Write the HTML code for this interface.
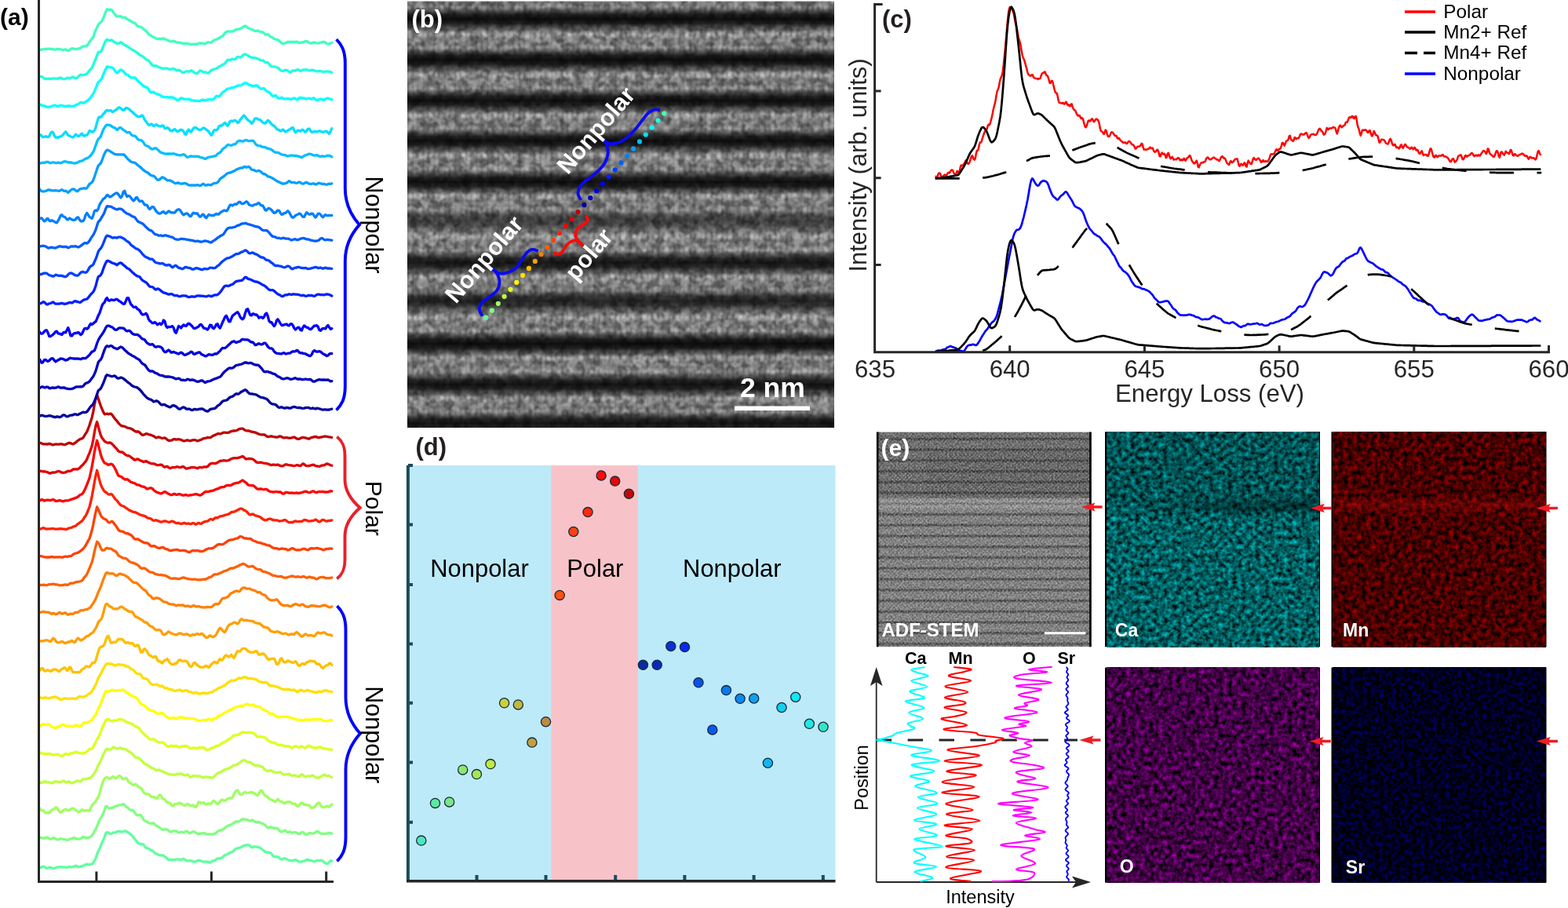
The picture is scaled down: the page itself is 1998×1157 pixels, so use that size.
<!DOCTYPE html><html><head><meta charset="utf-8"><title>EELS figure</title>
<style>html,body{margin:0;padding:0;background:#fff;overflow:hidden}svg{display:block}text{font-family:'Liberation Sans', Arial, Helvetica, sans-serif}</style></head><body>
<svg width="1998" height="1157" viewBox="0 0 1998 1157">
<rect width="1998" height="1157" fill="#fff"/>
<defs><radialGradient id="spot"><stop offset="0" stop-color="#fff" stop-opacity="0.7"/><stop offset="0.5" stop-color="#fff" stop-opacity="0.32"/><stop offset="1" stop-color="#fff" stop-opacity="0"/></radialGradient><pattern id="latt" x="519" y="-27.3" width="13.6" height="51.5" patternUnits="userSpaceOnUse"><rect width="13.6" height="51.5" fill="#000" fill-opacity="0.2"/><ellipse cx="3.4" cy="19.5" rx="5.6" ry="6" fill="url(#spot)"/><ellipse cx="10.2" cy="19.5" rx="4.6" ry="5.4" fill="url(#spot)" opacity="0.6"/><ellipse cx="3.4" cy="37.5" rx="5.6" ry="6" fill="url(#spot)" opacity="0.85"/><ellipse cx="10.2" cy="37.5" rx="4.6" ry="5.4" fill="url(#spot)" opacity="0.55"/><rect x="6.3" width="1.4" height="51.5" fill="#000" fill-opacity="0.12"/><rect x="13" width="1.2" height="51.5" fill="#000" fill-opacity="0.08"/></pattern><pattern id="bands" x="0" y="-4.2" width="20" height="51.6" patternUnits="userSpaceOnUse"><rect width="20" height="51.6" fill="url(#bandg)"/></pattern><linearGradient id="bandg" x1="0" y1="0" x2="0" y2="1"><stop offset="0" stop-color="#000" stop-opacity="0"/><stop offset="0.15" stop-color="#000" stop-opacity="0.1"/><stop offset="0.28" stop-color="#000" stop-opacity="0.48"/><stop offset="0.38" stop-color="#000" stop-opacity="0.85"/><stop offset="0.5" stop-color="#000" stop-opacity="1"/><stop offset="0.62" stop-color="#000" stop-opacity="0.85"/><stop offset="0.72" stop-color="#000" stop-opacity="0.48"/><stop offset="0.85" stop-color="#000" stop-opacity="0.1"/><stop offset="1" stop-color="#000" stop-opacity="0"/></linearGradient><filter id="nzb" x="0" y="0" width="1" height="1" color-interpolation-filters="sRGB"><feTurbulence type="fractalNoise" baseFrequency="0.22" numOctaves="2" seed="5"/><feColorMatrix type="matrix" values="2.0 0 0 0 -0.5  2.0 0 0 0 -0.5  2.0 0 0 0 -0.5  0 0 0 0 0.24"/><feGaussianBlur stdDeviation="0.8"/></filter><filter id="blur4" x="-0.1" y="-1" width="1.2" height="3"><feGaussianBlur stdDeviation="4"/></filter><filter id="nzb2" x="0" y="0" width="1" height="1" color-interpolation-filters="sRGB"><feTurbulence type="fractalNoise" baseFrequency="0.09" numOctaves="2" seed="21"/><feColorMatrix type="matrix" values="3 0 0 0 -1  3 0 0 0 -1  3 0 0 0 -1  0 0 0 0 0.22"/></filter><pattern id="adfS" x="0" y="552.3" width="20" height="13.75" patternUnits="userSpaceOnUse"><rect width="20" height="13.75" fill="#fff" fill-opacity="0.1"/><rect y="5" width="20" height="4" fill="#000" fill-opacity="0.25"/><rect y="5.9" width="20" height="2.2" fill="#000" fill-opacity="0.3"/></pattern><linearGradient id="adfB" x1="0" y1="0" x2="0" y2="1"><stop offset="0" stop-color="#fff" stop-opacity="0"/><stop offset="0.35" stop-color="#fff" stop-opacity="0.3"/><stop offset="0.6" stop-color="#fff" stop-opacity="0.28"/><stop offset="1" stop-color="#fff" stop-opacity="0.05"/></linearGradient><pattern id="xh" x="0" y="0" width="3.4" height="3.4" patternUnits="userSpaceOnUse" patternTransform="rotate(45)"><rect width="3.4" height="3.4" fill="#000" fill-opacity="0.1"/><circle cx="1.7" cy="1.7" r="1.1" fill="#fff" fill-opacity="0.2"/></pattern><filter id="nzadf" x="0" y="0" width="1" height="1" color-interpolation-filters="sRGB"><feTurbulence type="fractalNoise" baseFrequency="0.4" numOctaves="2" seed="9"/><feColorMatrix type="matrix" values="2.4 0 0 0 -0.7  2.4 0 0 0 -0.7  2.4 0 0 0 -0.7  0 0 0 0 0.2"/></filter><linearGradient id="caDark" x1="0" y1="0" x2="1" y2="0"><stop offset="0" stop-color="#000" stop-opacity="0.1"/><stop offset="0.3" stop-color="#000" stop-opacity="0.25"/><stop offset="0.6" stop-color="#000" stop-opacity="0.5"/><stop offset="1" stop-color="#000" stop-opacity="0.55"/></linearGradient><linearGradient id="mnBright" x1="0" y1="0" x2="0" y2="1"><stop offset="0" stop-color="#ff0000" stop-opacity="0"/><stop offset="0.5" stop-color="#ff1010" stop-opacity="0.22"/><stop offset="1" stop-color="#ff0000" stop-opacity="0"/></linearGradient><filter id="fca" x="0" y="0" width="1" height="1" color-interpolation-filters="sRGB"><feTurbulence type="fractalNoise" baseFrequency="0.17" numOctaves="2" seed="11"/><feColorMatrix type="matrix" values="0 0 0 0 0  1.05 0 0 0 -0.155  1.08 0 0 0 -0.16  0 0 0 0 1"/><feGaussianBlur stdDeviation="0.5"/></filter><filter id="fmn" x="0" y="0" width="1" height="1" color-interpolation-filters="sRGB"><feTurbulence type="fractalNoise" baseFrequency="0.17" numOctaves="2" seed="12"/><feColorMatrix type="matrix" values="1 0 0 0 -0.22  0 0 0 0 0  0 0 0 0 0  0 0 0 0 1"/><feGaussianBlur stdDeviation="0.5"/></filter><filter id="fox" x="0" y="0" width="1" height="1" color-interpolation-filters="sRGB"><feTurbulence type="fractalNoise" baseFrequency="0.17" numOctaves="2" seed="13"/><feColorMatrix type="matrix" values="1 0 0 0 -0.24  0 0 0 0 0  1.05 0 0 0 -0.25  0 0 0 0 1"/><feGaussianBlur stdDeviation="0.5"/></filter><filter id="fsr" x="0" y="0" width="1" height="1" color-interpolation-filters="sRGB"><feTurbulence type="fractalNoise" baseFrequency="0.19" numOctaves="2" seed="14"/><feColorMatrix type="matrix" values="0 0 0 0 0  0 0 0 0 0  1 0 0 0 -0.38  0 0 0 0 1"/><feGaussianBlur stdDeviation="0.5"/></filter></defs>
<g id="pa">
<g fill="none" stroke-width="3.3" stroke-linejoin="round" stroke-linecap="round">
<polyline points="50.0,1106.0 51.6,1105.4 53.2,1104.9 54.8,1104.2 56.4,1104.2 58.0,1105.4 59.6,1106.5 61.2,1106.0 62.8,1105.1 64.4,1105.3 66.0,1106.1 67.6,1106.4 69.2,1106.3 70.8,1105.7 72.4,1105.0 74.0,1105.1 75.6,1104.8 77.2,1104.6 78.8,1104.9 80.4,1105.0 82.0,1104.9 83.6,1105.2 85.2,1105.5 86.8,1104.7 88.4,1104.4 90.0,1104.8 91.6,1104.6 93.2,1104.4 94.8,1104.0 96.4,1103.1 98.0,1103.6 99.6,1104.8 101.2,1104.7 102.8,1104.1 104.4,1103.6 106.0,1103.1 107.6,1102.5 109.2,1101.6 110.8,1101.2 112.4,1101.6 114.0,1101.6 115.6,1101.3 117.2,1101.0 118.8,1099.3 120.4,1096.9 122.0,1093.7 123.6,1088.5 125.2,1084.6 126.8,1081.7 128.4,1077.9 130.0,1073.7 131.6,1070.4 133.2,1066.6 134.8,1061.8 136.4,1060.5 138.0,1060.9 139.6,1062.0 141.2,1062.5 142.8,1062.0 144.4,1060.9 146.0,1060.8 147.6,1060.5 149.2,1059.7 150.8,1059.2 152.4,1059.3 154.0,1059.9 155.6,1059.9 157.2,1059.5 158.8,1059.0 160.4,1059.2 162.0,1059.9 163.6,1060.8 165.2,1062.2 166.8,1063.3 168.4,1064.9 170.0,1066.9 171.6,1069.0 173.2,1070.8 174.8,1073.1 176.4,1074.7 178.0,1075.2 179.6,1075.6 181.2,1075.5 182.8,1076.2 184.4,1078.6 186.0,1080.3 187.6,1080.8 189.2,1081.4 190.8,1082.5 192.4,1083.3 194.0,1083.9 195.6,1085.2 197.2,1086.8 198.8,1087.8 200.4,1088.4 202.0,1089.2 203.6,1089.7 205.2,1089.9 206.8,1089.8 208.4,1090.4 210.0,1091.6 211.6,1092.8 213.2,1094.1 214.8,1095.5 216.4,1095.7 218.0,1095.4 219.6,1095.6 221.2,1095.4 222.8,1095.4 224.4,1095.2 226.0,1095.0 227.6,1094.9 229.2,1095.4 230.8,1095.7 232.4,1094.7 234.0,1094.3 235.6,1095.3 237.2,1096.4 238.8,1096.9 240.4,1096.9 242.0,1096.5 243.6,1096.8 245.2,1097.4 246.8,1097.9 248.4,1098.2 250.0,1097.7 251.6,1096.7 253.2,1096.3 254.8,1096.4 256.4,1097.1 258.0,1097.9 259.6,1098.1 261.2,1098.1 262.8,1098.0 264.4,1098.1 266.0,1098.7 267.6,1099.1 269.2,1098.3 270.8,1097.0 272.4,1096.8 274.0,1096.4 275.6,1094.8 277.2,1093.8 278.8,1094.0 280.4,1093.8 282.0,1093.3 283.6,1092.4 285.2,1090.7 286.8,1089.5 288.4,1089.0 290.0,1088.3 291.6,1087.2 293.2,1086.4 294.8,1085.9 296.4,1085.3 298.0,1083.8 299.6,1082.1 301.2,1081.3 302.8,1080.8 304.4,1080.4 306.0,1080.1 307.6,1079.2 309.2,1078.2 310.8,1077.6 312.4,1077.2 314.0,1076.9 315.6,1076.5 317.2,1076.9 318.8,1078.1 320.4,1079.4 322.0,1079.8 323.6,1078.9 325.2,1078.7 326.8,1079.2 328.4,1079.4 330.0,1079.7 331.6,1080.5 333.2,1081.8 334.8,1083.0 336.4,1084.1 338.0,1085.5 339.6,1086.0 341.2,1086.2 342.8,1086.4 344.4,1086.4 346.0,1087.9 347.6,1090.5 349.2,1091.7 350.8,1091.5 352.4,1091.7 354.0,1091.9 355.6,1092.6 357.2,1094.4 358.8,1095.2 360.4,1094.3 362.0,1093.7 363.6,1094.0 365.2,1094.7 366.8,1095.7 368.4,1096.3 370.0,1096.3 371.6,1096.7 373.2,1096.7 374.8,1095.9 376.4,1095.6 378.0,1096.1 379.6,1097.1 381.2,1097.9 382.8,1098.2 384.4,1097.9 386.0,1097.3 387.6,1097.0 389.2,1096.4 390.8,1095.5 392.4,1095.4 394.0,1096.3 395.6,1096.4 397.2,1096.6 398.8,1097.3 400.4,1097.9 402.0,1097.3 403.6,1096.5 405.2,1096.4 406.8,1096.6 408.4,1096.4 410.0,1096.2 411.6,1097.4 413.2,1098.9 414.8,1099.6 416.4,1100.5 418.0,1100.5 419.6,1098.5 421.2,1096.7 422.8,1097.1" stroke="#60ff9f"/>
<polyline points="50.0,1066.5 51.6,1067.2 53.2,1067.7 54.8,1068.1 56.4,1068.1 58.0,1067.5 59.6,1066.8 61.2,1067.3 62.8,1068.5 64.4,1069.2 66.0,1068.7 67.6,1067.7 69.2,1067.9 70.8,1068.8 72.4,1069.7 74.0,1069.9 75.6,1069.2 77.2,1068.6 78.8,1068.9 80.4,1069.3 82.0,1069.3 83.6,1069.7 85.2,1070.3 86.8,1070.1 88.4,1069.4 90.0,1068.8 91.6,1068.6 93.2,1067.8 94.8,1067.5 96.4,1068.4 98.0,1069.0 99.6,1068.9 101.2,1069.0 102.8,1068.9 104.4,1067.4 106.0,1066.2 107.6,1066.7 109.2,1067.5 110.8,1067.5 112.4,1067.1 114.0,1067.0 115.6,1066.2 117.2,1064.6 118.8,1062.1 120.4,1059.2 122.0,1056.6 123.6,1053.0 125.2,1048.9 126.8,1044.9 128.4,1042.4 130.0,1039.9 131.6,1036.5 133.2,1032.0 134.8,1027.5 136.4,1027.7 138.0,1029.3 139.6,1030.1 141.2,1029.8 142.8,1029.4 144.4,1028.6 146.0,1027.8 147.6,1027.2 149.2,1026.8 150.8,1026.2 152.4,1025.6 154.0,1025.6 155.6,1025.0 157.2,1024.7 158.8,1025.7 160.4,1027.6 162.0,1028.9 163.6,1029.9 165.2,1031.7 166.8,1032.4 168.4,1032.1 170.0,1032.9 171.6,1035.3 173.2,1037.5 174.8,1038.6 176.4,1038.8 178.0,1038.4 179.6,1038.8 181.2,1041.3 182.8,1044.2 184.4,1045.9 186.0,1046.5 187.6,1047.3 189.2,1048.4 190.8,1049.1 192.4,1049.3 194.0,1048.9 195.6,1049.0 197.2,1050.3 198.8,1051.9 200.4,1052.8 202.0,1053.7 203.6,1054.8 205.2,1056.0 206.8,1057.2 208.4,1057.3 210.0,1056.7 211.6,1056.8 213.2,1057.1 214.8,1058.2 216.4,1059.9 218.0,1060.0 219.6,1059.2 221.2,1058.9 222.8,1058.9 224.4,1058.8 226.0,1059.7 227.6,1060.9 229.2,1060.8 230.8,1060.0 232.4,1060.4 234.0,1060.9 235.6,1059.9 237.2,1059.2 238.8,1059.6 240.4,1060.9 242.0,1061.8 243.6,1061.1 245.2,1059.8 246.8,1059.7 248.4,1060.3 250.0,1061.4 251.6,1062.4 253.2,1063.0 254.8,1062.5 256.4,1061.8 258.0,1061.8 259.6,1061.5 261.2,1061.8 262.8,1062.8 264.4,1063.1 266.0,1062.9 267.6,1062.8 269.2,1063.2 270.8,1063.1 272.4,1062.5 274.0,1062.1 275.6,1061.2 277.2,1059.5 278.8,1058.4 280.4,1058.4 282.0,1057.8 283.6,1057.1 285.2,1056.1 286.8,1054.6 288.4,1053.4 290.0,1052.4 291.6,1051.9 293.2,1051.3 294.8,1050.6 296.4,1049.8 298.0,1048.4 299.6,1047.4 301.2,1046.8 302.8,1046.8 304.4,1046.8 306.0,1045.8 307.6,1044.4 309.2,1043.7 310.8,1043.9 312.4,1044.2 314.0,1044.6 315.6,1044.7 317.2,1045.5 318.8,1046.1 320.4,1045.2 322.0,1045.0 323.6,1046.4 325.2,1047.4 326.8,1047.5 328.4,1047.3 330.0,1047.5 331.6,1048.4 333.2,1049.1 334.8,1049.5 336.4,1050.4 338.0,1051.5 339.6,1053.2 341.2,1054.8 342.8,1054.8 344.4,1053.7 346.0,1053.9 347.6,1054.6 349.2,1055.1 350.8,1055.4 352.4,1055.2 354.0,1055.7 355.6,1057.8 357.2,1059.6 358.8,1060.1 360.4,1059.4 362.0,1058.2 363.6,1058.3 365.2,1059.8 366.8,1060.5 368.4,1059.9 370.0,1060.0 371.6,1061.2 373.2,1061.1 374.8,1060.6 376.4,1060.6 378.0,1061.3 379.6,1062.2 381.2,1062.8 382.8,1062.0 384.4,1060.4 386.0,1060.3 387.6,1061.6 389.2,1063.0 390.8,1063.4 392.4,1062.6 394.0,1061.7 395.6,1061.5 397.2,1061.9 398.8,1062.2 400.4,1061.7 402.0,1060.6 403.6,1059.3 405.2,1059.3 406.8,1060.7 408.4,1061.9 410.0,1062.1 411.6,1062.3 413.2,1062.4 414.8,1062.3 416.4,1062.1 418.0,1061.5 419.6,1061.3 421.2,1061.5 422.8,1062.1" stroke="#80ff80"/>
<polyline points="50.0,1029.3 51.6,1031.6 53.2,1033.0 54.8,1032.6 56.4,1034.0 58.0,1035.8 59.6,1035.5 61.2,1035.9 62.8,1035.9 64.4,1033.9 66.0,1031.9 67.6,1031.7 69.2,1030.7 70.8,1028.8 72.4,1029.2 74.0,1031.7 75.6,1034.1 77.2,1035.3 78.8,1034.5 80.4,1032.6 82.0,1031.7 83.6,1031.4 85.2,1031.8 86.8,1032.8 88.4,1032.4 90.0,1031.0 91.6,1030.1 93.2,1030.0 94.8,1031.0 96.4,1032.2 98.0,1033.2 99.6,1034.7 101.2,1034.7 102.8,1032.8 104.4,1031.6 106.0,1032.2 107.6,1033.3 109.2,1032.9 110.8,1032.5 112.4,1033.0 114.0,1032.7 115.6,1029.6 117.2,1026.2 118.8,1024.3 120.4,1023.0 122.0,1020.7 123.6,1017.9 125.2,1016.0 126.8,1011.2 128.4,1005.1 130.0,999.6 131.6,995.0 133.2,992.4 134.8,990.6 136.4,990.6 138.0,991.3 139.6,992.4 141.2,991.9 142.8,990.2 144.4,989.4 146.0,990.9 147.6,991.7 149.2,990.5 150.8,989.0 152.4,988.7 154.0,989.6 155.6,991.8 157.2,992.8 158.8,992.2 160.4,991.4 162.0,992.7 163.6,995.9 165.2,997.5 166.8,997.9 168.4,999.6 170.0,1000.5 171.6,999.4 173.2,999.4 174.8,1001.1 176.4,1002.6 178.0,1003.3 179.6,1004.4 181.2,1006.3 182.8,1009.2 184.4,1011.1 186.0,1011.5 187.6,1011.7 189.2,1011.8 190.8,1013.2 192.4,1014.9 194.0,1015.5 195.6,1015.4 197.2,1015.9 198.8,1017.3 200.4,1017.1 202.0,1014.5 203.6,1012.7 205.2,1014.0 206.8,1016.9 208.4,1018.1 210.0,1018.6 211.6,1020.9 213.2,1022.8 214.8,1022.7 216.4,1023.2 218.0,1025.3 219.6,1027.1 221.2,1026.4 222.8,1024.7 224.4,1024.4 226.0,1024.2 227.6,1023.4 229.2,1023.2 230.8,1023.9 232.4,1024.7 234.0,1025.9 235.6,1026.6 237.2,1025.8 238.8,1024.5 240.4,1025.1 242.0,1026.5 243.6,1026.6 245.2,1025.9 246.8,1026.4 248.4,1028.3 250.0,1028.2 251.6,1025.1 253.2,1021.9 254.8,1022.3 256.4,1023.7 258.0,1023.0 259.6,1022.6 261.2,1024.5 262.8,1025.2 264.4,1024.1 266.0,1023.9 267.6,1024.5 269.2,1024.0 270.8,1021.6 272.4,1020.3 274.0,1021.3 275.6,1023.3 277.2,1024.5 278.8,1022.9 280.4,1020.9 282.0,1019.5 283.6,1019.0 285.2,1020.1 286.8,1020.5 288.4,1019.0 290.0,1017.9 291.6,1017.3 293.2,1016.8 294.8,1016.8 296.4,1015.8 298.0,1012.2 299.6,1009.4 301.2,1007.5 302.8,1007.0 304.4,1009.8 306.0,1012.5 307.6,1012.7 309.2,1011.5 310.8,1009.9 312.4,1009.4 314.0,1010.4 315.6,1010.3 317.2,1010.2 318.8,1009.5 320.4,1009.4 322.0,1009.9 323.6,1010.6 325.2,1011.7 326.8,1013.0 328.4,1013.3 330.0,1010.8 331.6,1007.7 333.2,1007.1 334.8,1009.1 336.4,1012.1 338.0,1014.0 339.6,1014.4 341.2,1015.8 342.8,1017.7 344.4,1018.6 346.0,1019.1 347.6,1020.0 349.2,1021.0 350.8,1021.6 352.4,1020.0 354.0,1018.3 355.6,1019.7 357.2,1021.2 358.8,1021.3 360.4,1022.2 362.0,1023.7 363.6,1023.2 365.2,1021.9 366.8,1021.8 368.4,1021.7 370.0,1021.8 371.6,1023.4 373.2,1024.3 374.8,1024.0 376.4,1024.4 378.0,1026.7 379.6,1027.3 381.2,1025.8 382.8,1023.9 384.4,1022.8 386.0,1023.6 387.6,1025.4 389.2,1025.5 390.8,1025.6 392.4,1025.9 394.0,1026.2 395.6,1028.0 397.2,1029.4 398.8,1029.1 400.4,1028.5 402.0,1027.1 403.6,1024.9 405.2,1023.2 406.8,1023.1 408.4,1025.6 410.0,1028.2 411.6,1028.7 413.2,1028.6 414.8,1027.9 416.4,1027.0 418.0,1027.8 419.6,1028.2 421.2,1026.4 422.8,1025.1" stroke="#9fff60"/>
<polyline points="50.0,996.4 51.6,996.9 53.2,997.6 54.8,996.9 56.4,995.8 58.0,995.7 59.6,996.5 61.2,996.9 62.8,996.9 64.4,997.5 66.0,998.0 67.6,997.3 69.2,996.1 70.8,995.7 72.4,996.0 74.0,996.3 75.6,996.5 77.2,996.7 78.8,996.0 80.4,994.8 82.0,995.4 83.6,996.6 85.2,996.7 86.8,996.0 88.4,996.0 90.0,997.1 91.6,998.0 93.2,997.4 94.8,996.5 96.4,995.7 98.0,995.0 99.6,995.0 101.2,995.4 102.8,995.5 104.4,994.1 106.0,992.7 107.6,992.7 109.2,992.9 110.8,992.4 112.4,991.7 114.0,991.7 115.6,991.0 117.2,989.4 118.8,987.3 120.4,985.2 122.0,982.7 123.6,978.8 125.2,975.0 126.8,972.3 128.4,969.5 130.0,965.4 131.6,961.5 133.2,958.6 134.8,955.3 136.4,954.3 138.0,954.9 139.6,955.2 141.2,954.8 142.8,953.5 144.4,952.1 146.0,952.4 147.6,953.6 149.2,954.0 150.8,953.6 152.4,952.9 154.0,953.1 155.6,954.1 157.2,954.4 158.8,954.5 160.4,954.8 162.0,956.0 163.6,957.3 165.2,958.2 166.8,959.0 168.4,960.3 170.0,962.0 171.6,964.2 173.2,965.6 174.8,965.4 176.4,965.7 178.0,967.0 179.6,968.3 181.2,969.7 182.8,971.7 184.4,973.4 186.0,974.0 187.6,974.7 189.2,976.0 190.8,976.9 192.4,978.1 194.0,978.9 195.6,979.0 197.2,980.2 198.8,981.6 200.4,981.6 202.0,980.9 203.6,981.2 205.2,982.3 206.8,982.9 208.4,983.5 210.0,984.4 211.6,985.0 213.2,985.7 214.8,986.5 216.4,986.9 218.0,986.8 219.6,987.0 221.2,987.4 222.8,987.1 224.4,986.5 226.0,986.3 227.6,986.2 229.2,986.1 230.8,986.0 232.4,986.4 234.0,987.5 235.6,988.0 237.2,987.6 238.8,987.0 240.4,987.9 242.0,990.0 243.6,990.2 245.2,989.0 246.8,988.3 248.4,988.5 250.0,988.9 251.6,988.9 253.2,988.9 254.8,989.1 256.4,989.8 258.0,990.7 259.6,990.6 261.2,990.1 262.8,989.8 264.4,990.1 266.0,990.5 267.6,990.4 269.2,990.8 270.8,991.0 272.4,990.1 274.0,988.3 275.6,986.5 277.2,985.4 278.8,984.8 280.4,984.0 282.0,983.4 283.6,982.6 285.2,981.3 286.8,980.4 288.4,980.1 290.0,979.7 291.6,978.9 293.2,978.2 294.8,977.3 296.4,976.0 298.0,975.2 299.6,974.9 301.2,974.5 302.8,973.5 304.4,972.6 306.0,971.6 307.6,970.1 309.2,969.2 310.8,968.6 312.4,968.9 314.0,970.4 315.6,971.1 317.2,971.1 318.8,971.5 320.4,972.3 322.0,973.5 323.6,974.6 325.2,975.1 326.8,975.4 328.4,975.1 330.0,975.5 331.6,976.2 333.2,976.7 334.8,977.7 336.4,979.5 338.0,981.1 339.6,982.0 341.2,982.6 342.8,982.1 344.4,981.5 346.0,982.1 347.6,983.0 349.2,983.8 350.8,984.1 352.4,984.3 354.0,984.4 355.6,984.0 357.2,984.0 358.8,985.2 360.4,986.5 362.0,987.1 363.6,986.9 365.2,986.6 366.8,986.4 368.4,986.4 370.0,987.0 371.6,988.3 373.2,988.3 374.8,987.7 376.4,988.3 378.0,989.0 379.6,989.5 381.2,989.4 382.8,988.0 384.4,986.6 386.0,987.4 387.6,989.2 389.2,989.8 390.8,989.2 392.4,988.7 394.0,989.2 395.6,989.1 397.2,988.2 398.8,988.2 400.4,989.3 402.0,990.5 403.6,991.0 405.2,991.1 406.8,990.7 408.4,989.7 410.0,988.9 411.6,988.0 413.2,987.1 414.8,987.8 416.4,988.8 418.0,988.5 419.6,988.5 421.2,989.7 422.8,990.4" stroke="#bfff40"/>
<polyline points="50.0,959.2 51.6,959.4 53.2,959.7 54.8,960.2 56.4,960.5 58.0,960.5 59.6,960.5 61.2,960.6 62.8,960.3 64.4,960.7 66.0,961.5 67.6,961.9 69.2,961.8 70.8,961.5 72.4,961.2 74.0,961.1 75.6,962.2 77.2,963.2 78.8,963.3 80.4,962.7 82.0,961.4 83.6,960.3 85.2,960.7 86.8,961.5 88.4,961.0 90.0,959.8 91.6,959.7 93.2,959.7 94.8,958.7 96.4,957.9 98.0,958.4 99.6,959.2 101.2,959.4 102.8,959.6 104.4,960.0 106.0,959.9 107.6,959.3 109.2,958.7 110.8,957.7 112.4,955.8 114.0,954.5 115.6,954.5 117.2,954.0 118.8,951.6 120.4,948.4 122.0,945.7 123.6,942.4 125.2,939.4 126.8,936.5 128.4,932.7 130.0,928.2 131.6,924.4 133.2,921.4 134.8,917.8 136.4,916.4 138.0,916.5 139.6,917.3 141.2,918.2 142.8,919.1 144.4,918.4 146.0,917.8 147.6,918.2 149.2,918.0 150.8,916.8 152.4,916.4 154.0,916.7 155.6,917.0 157.2,917.4 158.8,918.5 160.4,919.7 162.0,920.1 163.6,920.6 165.2,921.5 166.8,922.0 168.4,922.6 170.0,923.9 171.6,925.3 173.2,925.9 174.8,926.5 176.4,927.5 178.0,929.1 179.6,931.3 181.2,933.0 182.8,934.6 184.4,936.4 186.0,937.6 187.6,938.8 189.2,940.4 190.8,941.9 192.4,942.2 194.0,941.9 195.6,941.7 197.2,942.4 198.8,943.9 200.4,945.1 202.0,945.8 203.6,946.0 205.2,946.1 206.8,945.9 208.4,946.3 210.0,948.0 211.6,949.9 213.2,950.9 214.8,951.4 216.4,951.0 218.0,950.0 219.6,950.4 221.2,951.1 222.8,950.5 224.4,950.3 226.0,951.2 227.6,952.0 229.2,951.9 230.8,951.4 232.4,950.9 234.0,950.5 235.6,950.4 237.2,950.5 238.8,951.0 240.4,952.3 242.0,953.6 243.6,953.6 245.2,953.2 246.8,953.0 248.4,953.0 250.0,953.5 251.6,953.4 253.2,952.6 254.8,952.4 256.4,952.6 258.0,952.4 259.6,952.6 261.2,954.0 262.8,955.4 264.4,955.4 266.0,955.0 267.6,954.4 269.2,953.4 270.8,952.6 272.4,952.4 274.0,951.7 275.6,950.3 277.2,950.1 278.8,950.0 280.4,948.7 282.0,947.4 283.6,946.6 285.2,945.6 286.8,945.1 288.4,944.3 290.0,942.9 291.6,941.7 293.2,941.1 294.8,940.1 296.4,938.4 298.0,937.0 299.6,936.8 301.2,936.5 302.8,936.3 304.4,935.7 306.0,934.6 307.6,933.5 309.2,932.9 310.8,933.1 312.4,933.4 314.0,933.7 315.6,933.4 317.2,933.1 318.8,933.2 320.4,933.7 322.0,933.9 323.6,934.5 325.2,936.2 326.8,938.0 328.4,938.8 330.0,938.7 331.6,938.4 333.2,938.9 334.8,939.2 336.4,939.4 338.0,940.0 339.6,941.4 341.2,943.2 342.8,944.5 344.4,945.1 346.0,945.7 347.6,946.3 349.2,946.4 350.8,946.9 352.4,948.2 354.0,949.0 355.6,949.3 357.2,949.2 358.8,949.2 360.4,949.7 362.0,950.4 363.6,950.9 365.2,950.7 366.8,950.7 368.4,950.9 370.0,951.9 371.6,953.1 373.2,952.7 374.8,951.3 376.4,950.6 378.0,951.1 379.6,952.1 381.2,952.3 382.8,951.4 384.4,950.9 386.0,951.9 387.6,953.0 389.2,953.1 390.8,951.5 392.4,950.2 394.0,950.4 395.6,951.1 397.2,952.0 398.8,952.5 400.4,952.6 402.0,953.1 403.6,953.0 405.2,952.3 406.8,951.9 408.4,952.0 410.0,952.7 411.6,953.7 413.2,954.0 414.8,953.9 416.4,954.2 418.0,954.7 419.6,954.8 421.2,954.9 422.8,955.3" stroke="#dfff20"/>
<polyline points="50.0,925.2 51.6,925.0 53.2,923.2 54.8,922.5 56.4,923.1 58.0,923.7 59.6,923.2 61.2,922.7 62.8,923.3 64.4,924.7 66.0,926.0 67.6,926.7 69.2,927.5 70.8,927.3 72.4,926.4 74.0,926.1 75.6,925.6 77.2,924.6 78.8,923.5 80.4,923.5 82.0,924.1 83.6,924.6 85.2,925.2 86.8,925.2 88.4,925.1 90.0,925.6 91.6,925.9 93.2,925.6 94.8,924.6 96.4,923.9 98.0,924.4 99.6,924.8 101.2,925.3 102.8,925.4 104.4,924.1 106.0,921.8 107.6,920.5 109.2,920.9 110.8,921.4 112.4,920.5 114.0,919.5 115.6,918.3 117.2,917.2 118.8,915.1 120.4,912.6 122.0,910.5 123.6,907.0 125.2,903.3 126.8,899.9 128.4,896.5 130.0,892.4 131.6,888.2 133.2,884.2 134.8,880.8 136.4,880.7 138.0,881.1 139.6,880.6 141.2,879.5 142.8,879.0 144.4,879.3 146.0,879.8 147.6,880.0 149.2,880.2 150.8,879.6 152.4,879.9 154.0,879.9 155.6,878.7 157.2,878.9 158.8,880.7 160.4,881.7 162.0,882.3 163.6,883.5 165.2,885.3 166.8,886.2 168.4,886.6 170.0,887.3 171.6,888.1 173.2,889.0 174.8,890.2 176.4,892.4 178.0,894.7 179.6,896.9 181.2,897.8 182.8,898.2 184.4,899.5 186.0,900.7 187.6,902.1 189.2,903.7 190.8,904.8 192.4,905.4 194.0,905.7 195.6,905.9 197.2,906.8 198.8,908.3 200.4,909.2 202.0,909.2 203.6,909.1 205.2,908.5 206.8,908.4 208.4,909.8 210.0,911.6 211.6,913.0 213.2,914.1 214.8,914.9 216.4,915.2 218.0,915.0 219.6,914.6 221.2,914.5 222.8,914.9 224.4,915.5 226.0,915.3 227.6,914.4 229.2,913.9 230.8,913.8 232.4,914.1 234.0,914.7 235.6,915.2 237.2,915.0 238.8,914.9 240.4,915.8 242.0,915.7 243.6,915.3 245.2,915.7 246.8,915.9 248.4,916.3 250.0,917.1 251.6,917.7 253.2,918.2 254.8,918.5 256.4,918.3 258.0,917.9 259.6,917.6 261.2,917.7 262.8,917.6 264.4,916.5 266.0,916.1 267.6,916.7 269.2,917.3 270.8,917.0 272.4,916.0 274.0,915.6 275.6,915.1 277.2,913.2 278.8,911.8 280.4,911.9 282.0,911.0 283.6,909.8 285.2,908.8 286.8,908.0 288.4,907.6 290.0,906.3 291.6,904.9 293.2,904.6 294.8,904.2 296.4,903.3 298.0,902.1 299.6,901.1 301.2,900.8 302.8,900.5 304.4,900.0 306.0,899.3 307.6,899.4 309.2,899.6 310.8,898.6 312.4,897.7 314.0,897.2 315.6,897.2 317.2,898.3 318.8,898.7 320.4,898.1 322.0,897.9 323.6,898.3 325.2,899.4 326.8,900.5 328.4,900.5 330.0,900.3 331.6,901.1 333.2,902.5 334.8,903.8 336.4,904.8 338.0,905.3 339.6,905.6 341.2,907.2 342.8,909.0 344.4,909.3 346.0,909.0 347.6,909.5 349.2,910.6 350.8,911.7 352.4,912.7 354.0,913.8 355.6,913.9 357.2,913.5 358.8,913.6 360.4,913.4 362.0,913.2 363.6,913.3 365.2,913.4 366.8,913.1 368.4,913.7 370.0,914.6 371.6,914.8 373.2,915.2 374.8,915.9 376.4,916.2 378.0,916.8 379.6,917.5 381.2,917.3 382.8,917.2 384.4,917.6 386.0,917.9 387.6,917.5 389.2,916.9 390.8,916.9 392.4,917.1 394.0,917.1 395.6,917.2 397.2,916.7 398.8,916.3 400.4,916.7 402.0,916.8 403.6,916.4 405.2,916.6 406.8,916.8 408.4,916.5 410.0,917.0 411.6,918.3 413.2,918.7 414.8,918.6 416.4,918.6 418.0,918.4 419.6,918.0 421.2,917.6 422.8,917.6" stroke="#ffff00"/>
<polyline points="50.0,888.6 51.6,888.9 53.2,889.6 54.8,889.6 56.4,888.9 58.0,888.8 59.6,889.3 61.2,889.8 62.8,889.7 64.4,889.0 66.0,888.6 67.6,888.6 69.2,888.1 70.8,888.2 72.4,888.8 74.0,889.5 75.6,890.8 77.2,891.6 78.8,891.2 80.4,890.4 82.0,889.9 83.6,889.8 85.2,890.1 86.8,890.5 88.4,890.2 90.0,890.2 91.6,890.1 93.2,890.0 94.8,890.4 96.4,890.5 98.0,889.8 99.6,888.5 101.2,887.5 102.8,887.6 104.4,888.2 106.0,888.2 107.6,887.5 109.2,886.8 110.8,886.3 112.4,884.7 114.0,883.7 115.6,882.8 117.2,880.9 118.8,878.1 120.4,875.2 122.0,872.4 123.6,868.3 125.2,864.1 126.8,861.3 128.4,858.9 130.0,855.5 131.6,852.3 133.2,849.8 134.8,847.0 136.4,845.7 138.0,845.7 139.6,846.1 141.2,845.9 142.8,846.1 144.4,847.2 146.0,848.1 147.6,847.6 149.2,847.0 150.8,846.7 152.4,846.9 154.0,847.2 155.6,847.1 157.2,847.2 158.8,848.0 160.4,849.0 162.0,849.1 163.6,849.4 165.2,850.7 166.8,852.4 168.4,853.1 170.0,853.5 171.6,855.5 173.2,857.4 174.8,858.5 176.4,858.9 178.0,858.7 179.6,859.9 181.2,862.7 182.8,864.4 184.4,864.4 186.0,864.6 187.6,865.6 189.2,867.4 190.8,869.6 192.4,871.3 194.0,872.5 195.6,872.8 197.2,872.4 198.8,872.2 200.4,872.1 202.0,873.3 203.6,874.3 205.2,874.0 206.8,874.0 208.4,875.4 210.0,876.9 211.6,876.9 213.2,876.9 214.8,878.1 216.4,878.7 218.0,878.4 219.6,879.0 221.2,880.0 222.8,880.3 224.4,880.1 226.0,879.7 227.6,879.2 229.2,879.0 230.8,879.8 232.4,880.8 234.0,880.4 235.6,879.7 237.2,879.7 238.8,880.3 240.4,881.4 242.0,881.9 243.6,881.9 245.2,882.8 246.8,883.2 248.4,882.4 250.0,882.4 251.6,883.0 253.2,883.8 254.8,884.1 256.4,883.6 258.0,882.9 259.6,883.0 261.2,883.4 262.8,883.1 264.4,883.3 266.0,883.1 267.6,882.2 269.2,882.1 270.8,881.7 272.4,880.3 274.0,879.7 275.6,879.0 277.2,877.7 278.8,876.7 280.4,876.1 282.0,875.4 283.6,874.6 285.2,873.7 286.8,873.0 288.4,871.6 290.0,869.8 291.6,869.0 293.2,868.1 294.8,867.0 296.4,867.1 298.0,867.3 299.6,866.9 301.2,866.1 302.8,864.6 304.4,863.9 306.0,864.3 307.6,864.2 309.2,863.3 310.8,862.8 312.4,862.6 314.0,863.2 315.6,864.3 317.2,864.5 318.8,864.4 320.4,864.5 322.0,864.9 323.6,865.4 325.2,865.5 326.8,866.1 328.4,867.3 330.0,868.5 331.6,868.9 333.2,869.0 334.8,869.5 336.4,869.5 338.0,869.2 339.6,869.5 341.2,870.8 342.8,872.9 344.4,873.9 346.0,873.7 347.6,873.7 349.2,874.2 350.8,874.7 352.4,875.0 354.0,875.4 355.6,876.1 357.2,877.0 358.8,877.7 360.4,878.3 362.0,878.4 363.6,878.4 365.2,878.5 366.8,878.2 368.4,878.5 370.0,878.9 371.6,879.3 373.2,879.2 374.8,878.9 376.4,880.1 378.0,881.5 379.6,881.4 381.2,880.3 382.8,879.2 384.4,879.4 386.0,880.2 387.6,880.9 389.2,880.5 390.8,879.6 392.4,879.5 394.0,880.3 395.6,880.6 397.2,881.0 398.8,881.6 400.4,881.7 402.0,882.3 403.6,882.5 405.2,881.5 406.8,880.9 408.4,881.6 410.0,881.6 411.6,880.5 413.2,879.9 414.8,879.7 416.4,879.9 418.0,880.7 419.6,881.0 421.2,881.3 422.8,881.6" stroke="#ffdf00"/>
<polyline points="50.0,854.7 51.6,853.6 53.2,851.4 54.8,851.8 56.4,854.8 58.0,855.2 59.6,854.0 61.2,853.8 62.8,854.8 64.4,855.4 66.0,854.8 67.6,853.3 69.2,852.9 70.8,853.2 72.4,853.6 74.0,855.1 75.6,855.7 77.2,853.8 78.8,852.5 80.4,851.9 82.0,850.6 83.6,851.5 85.2,854.2 86.8,853.6 88.4,850.2 90.0,850.3 91.6,854.1 93.2,856.6 94.8,856.6 96.4,856.7 98.0,856.9 99.6,856.4 101.2,856.6 102.8,855.5 104.4,853.0 106.0,852.3 107.6,851.3 109.2,849.3 110.8,848.9 112.4,849.7 114.0,849.9 115.6,848.2 117.2,845.2 118.8,844.3 120.4,844.5 122.0,841.7 123.6,835.9 125.2,830.3 126.8,825.8 128.4,824.1 130.0,824.2 131.6,823.1 133.2,820.5 134.8,815.5 136.4,811.6 138.0,810.2 139.6,814.4 141.2,819.0 142.8,819.2 144.4,818.0 146.0,818.5 147.6,818.1 149.2,816.2 150.8,814.4 152.4,814.4 154.0,814.7 155.6,814.5 157.2,815.8 158.8,818.0 160.4,819.4 162.0,818.6 163.6,818.4 165.2,820.0 166.8,819.9 168.4,819.5 170.0,821.0 171.6,822.9 173.2,823.4 174.8,821.9 176.4,822.4 178.0,826.7 179.6,831.1 181.2,831.0 182.8,827.8 184.4,826.6 186.0,828.3 187.6,830.7 189.2,833.7 190.8,835.4 192.4,835.7 194.0,837.0 195.6,837.9 197.2,836.4 198.8,836.9 200.4,840.8 202.0,842.7 203.6,842.4 205.2,844.0 206.8,845.0 208.4,842.7 210.0,841.4 211.6,840.7 213.2,839.6 214.8,841.8 216.4,844.7 218.0,845.9 219.6,846.9 221.2,846.5 222.8,845.5 224.4,845.5 226.0,844.1 227.6,841.4 229.2,840.8 230.8,841.7 232.4,842.5 234.0,842.3 235.6,842.0 237.2,842.4 238.8,843.4 240.4,846.5 242.0,849.0 243.6,849.6 245.2,847.8 246.8,844.9 248.4,844.2 250.0,846.2 251.6,847.7 253.2,848.6 254.8,849.9 256.4,850.3 258.0,850.1 259.6,850.2 261.2,848.8 262.8,848.3 264.4,849.6 266.0,850.7 267.6,849.1 269.2,846.4 270.8,845.5 272.4,843.6 274.0,843.4 275.6,845.2 277.2,844.7 278.8,841.1 280.4,839.6 282.0,841.4 283.6,840.8 285.2,838.0 286.8,835.7 288.4,834.9 290.0,836.3 291.6,837.1 293.2,836.0 294.8,834.3 296.4,836.5 298.0,838.4 299.6,835.9 301.2,831.8 302.8,829.4 304.4,830.1 306.0,830.0 307.6,827.8 309.2,826.3 310.8,826.4 312.4,826.3 314.0,827.5 315.6,829.3 317.2,830.2 318.8,831.0 320.4,831.3 322.0,831.0 323.6,831.2 325.2,829.8 326.8,829.6 328.4,832.0 330.0,834.2 331.6,834.2 333.2,833.0 334.8,832.8 336.4,833.4 338.0,834.9 339.6,837.4 341.2,839.7 342.8,840.8 344.4,839.7 346.0,839.3 347.6,839.4 349.2,839.1 350.8,842.0 352.4,846.1 354.0,846.3 355.6,844.1 357.2,840.1 358.8,838.7 360.4,841.7 362.0,843.9 363.6,844.0 365.2,842.9 366.8,841.7 368.4,842.2 370.0,843.4 371.6,843.7 373.2,844.6 374.8,843.9 376.4,842.6 378.0,844.1 379.6,847.2 381.2,848.5 382.8,847.7 384.4,845.9 386.0,845.5 387.6,846.5 389.2,845.6 390.8,844.0 392.4,843.4 394.0,842.7 395.6,842.0 397.2,842.3 398.8,842.7 400.4,842.5 402.0,843.9 403.6,846.2 405.2,845.9 406.8,846.3 408.4,848.3 410.0,850.5 411.6,851.4 413.2,850.0 414.8,848.3 416.4,847.7 418.0,847.1 419.6,845.2 421.2,845.2 422.8,847.4" stroke="#ffbf00"/>
<polyline points="50.0,817.2 51.6,817.1 53.2,816.7 54.8,816.9 56.4,816.4 58.0,815.8 59.6,815.9 61.2,816.2 62.8,817.1 64.4,817.5 66.0,815.2 67.6,813.3 69.2,814.1 70.8,816.2 72.4,818.2 74.0,818.8 75.6,818.7 77.2,818.0 78.8,817.3 80.4,818.0 82.0,819.1 83.6,819.6 85.2,818.7 86.8,817.9 88.4,818.0 90.0,817.1 91.6,816.3 93.2,817.7 94.8,818.7 96.4,817.2 98.0,814.5 99.6,813.1 101.2,814.5 102.8,816.0 104.4,815.4 106.0,814.3 107.6,813.3 109.2,811.6 110.8,810.6 112.4,810.3 114.0,809.2 115.6,807.5 117.2,806.6 118.8,805.6 120.4,802.9 122.0,800.6 123.6,797.1 125.2,793.1 126.8,791.0 128.4,789.7 130.0,786.8 131.6,781.3 133.2,774.8 134.8,770.0 136.4,769.4 138.0,770.9 139.6,772.5 141.2,773.3 142.8,774.2 144.4,775.6 146.0,776.0 147.6,775.7 149.2,775.9 150.8,775.3 152.4,774.0 154.0,773.1 155.6,773.3 157.2,774.5 158.8,775.8 160.4,776.7 162.0,777.8 163.6,778.9 165.2,779.4 166.8,779.2 168.4,779.7 170.0,781.8 171.6,784.8 173.2,786.2 174.8,786.6 176.4,787.2 178.0,788.4 179.6,789.4 181.2,790.0 182.8,791.7 184.4,793.1 186.0,793.0 187.6,793.9 189.2,795.9 190.8,797.4 192.4,798.1 194.0,798.6 195.6,800.0 197.2,801.7 198.8,802.6 200.4,802.8 202.0,802.5 203.6,802.7 205.2,804.0 206.8,806.8 208.4,808.9 210.0,808.4 211.6,807.5 213.2,806.0 214.8,804.9 216.4,805.7 218.0,806.9 219.6,807.5 221.2,807.9 222.8,808.6 224.4,809.0 226.0,808.4 227.6,807.2 229.2,806.9 230.8,807.3 232.4,808.1 234.0,808.6 235.6,808.5 237.2,808.0 238.8,807.9 240.4,808.9 242.0,810.2 243.6,809.7 245.2,808.6 246.8,809.0 248.4,809.0 250.0,807.8 251.6,807.5 253.2,808.4 254.8,808.3 256.4,807.3 258.0,807.8 259.6,809.3 261.2,811.0 262.8,812.6 264.4,812.3 266.0,810.7 267.6,809.8 269.2,810.6 270.8,811.6 272.4,811.3 274.0,810.1 275.6,808.3 277.2,805.2 278.8,802.0 280.4,800.2 282.0,801.2 283.6,803.3 285.2,805.0 286.8,805.3 288.4,802.4 290.0,798.9 291.6,796.6 293.2,795.4 294.8,795.0 296.4,794.3 298.0,793.2 299.6,793.1 301.2,794.4 302.8,794.8 304.4,793.3 306.0,790.3 307.6,788.8 309.2,789.6 310.8,790.7 312.4,790.3 314.0,790.2 315.6,790.6 317.2,790.8 318.8,791.1 320.4,791.4 322.0,791.5 323.6,792.3 325.2,793.4 326.8,794.1 328.4,794.2 330.0,794.3 331.6,795.1 333.2,796.4 334.8,798.0 336.4,799.0 338.0,799.1 339.6,799.6 341.2,799.9 342.8,801.4 344.4,803.7 346.0,804.7 347.6,804.9 349.2,805.4 350.8,805.4 352.4,804.7 354.0,804.8 355.6,805.5 357.2,806.3 358.8,807.1 360.4,807.7 362.0,807.4 363.6,807.0 365.2,807.5 366.8,808.7 368.4,809.0 370.0,808.2 371.6,807.8 373.2,808.4 374.8,808.3 376.4,806.5 378.0,805.4 379.6,806.8 381.2,808.1 382.8,809.7 384.4,811.2 386.0,810.5 387.6,809.0 389.2,808.0 390.8,808.8 392.4,809.8 394.0,809.6 395.6,809.4 397.2,809.7 398.8,810.3 400.4,810.6 402.0,809.3 403.6,807.1 405.2,805.9 406.8,806.5 408.4,807.1 410.0,806.6 411.6,806.0 413.2,805.9 414.8,806.9 416.4,808.3 418.0,808.8 419.6,808.8 421.2,809.0 422.8,809.9" stroke="#ff9f00"/>
<polyline points="50.0,780.3 51.6,780.3 53.2,779.9 54.8,779.5 56.4,779.6 58.0,779.9 59.6,780.1 61.2,780.2 62.8,780.5 64.4,781.6 66.0,782.3 67.6,781.5 69.2,781.7 70.8,782.5 72.4,782.4 74.0,781.5 75.6,780.4 77.2,781.0 78.8,782.1 80.4,781.8 82.0,781.0 83.6,780.9 85.2,782.4 86.8,783.2 88.4,782.5 90.0,782.0 91.6,782.4 93.2,782.3 94.8,780.9 96.4,780.2 98.0,780.7 99.6,780.1 101.2,778.9 102.8,777.9 104.4,777.7 106.0,777.7 107.6,777.0 109.2,776.7 110.8,776.6 112.4,775.6 114.0,774.8 115.6,773.4 117.2,770.8 118.8,768.7 120.4,765.9 122.0,762.9 123.6,759.0 125.2,754.7 126.8,751.2 128.4,747.6 130.0,743.0 131.6,738.3 133.2,734.6 134.8,730.7 136.4,729.5 138.0,730.4 139.6,730.8 141.2,730.8 142.8,730.6 144.4,731.0 146.0,732.2 147.6,733.3 149.2,733.3 150.8,732.2 152.4,731.2 154.0,731.2 155.6,732.1 157.2,732.2 158.8,732.9 160.4,734.0 162.0,734.8 163.6,736.1 165.2,737.8 166.8,739.3 168.4,740.9 170.0,742.1 171.6,742.3 173.2,742.3 174.8,743.3 176.4,745.0 178.0,746.3 179.6,748.1 181.2,749.7 182.8,751.0 184.4,752.0 186.0,753.1 187.6,755.5 189.2,757.7 190.8,758.8 192.4,760.1 194.0,762.1 195.6,763.2 197.2,762.4 198.8,761.8 200.4,762.0 202.0,762.3 203.6,763.0 205.2,764.2 206.8,765.5 208.4,766.7 210.0,767.2 211.6,767.1 213.2,768.1 214.8,769.3 216.4,769.6 218.0,769.8 219.6,770.1 221.2,770.2 222.8,771.0 224.4,771.9 226.0,771.4 227.6,770.8 229.2,771.3 230.8,771.2 232.4,770.8 234.0,771.4 235.6,772.4 237.2,772.5 238.8,772.0 240.4,772.1 242.0,773.0 243.6,773.1 245.2,772.0 246.8,771.6 248.4,772.3 250.0,773.0 251.6,772.9 253.2,772.7 254.8,773.0 256.4,773.7 258.0,773.8 259.6,773.9 261.2,774.1 262.8,773.7 264.4,773.5 266.0,773.7 267.6,773.6 269.2,773.7 270.8,772.6 272.4,771.0 274.0,769.8 275.6,769.5 277.2,769.9 278.8,769.5 280.4,767.1 282.0,764.5 283.6,762.6 285.2,762.2 286.8,762.0 288.4,761.2 290.0,760.7 291.6,759.3 293.2,756.9 294.8,755.8 296.4,755.3 298.0,754.2 299.6,753.3 301.2,753.0 302.8,753.1 304.4,753.7 306.0,752.9 307.6,750.6 309.2,749.2 310.8,749.0 312.4,749.2 314.0,749.9 315.6,750.3 317.2,750.0 318.8,750.4 320.4,751.2 322.0,751.8 323.6,752.1 325.2,752.7 326.8,753.9 328.4,754.8 330.0,754.7 331.6,754.9 333.2,756.5 334.8,757.6 336.4,757.9 338.0,758.6 339.6,760.5 341.2,762.5 342.8,763.6 344.4,764.5 346.0,765.0 347.6,764.9 349.2,764.9 350.8,764.2 352.4,763.7 354.0,765.1 355.6,767.3 357.2,769.3 358.8,770.6 360.4,771.3 362.0,771.5 363.6,771.6 365.2,771.5 366.8,771.5 368.4,772.1 370.0,772.6 371.6,772.2 373.2,771.0 374.8,770.2 376.4,769.7 378.0,770.0 379.6,770.8 381.2,771.4 382.8,771.3 384.4,770.1 386.0,770.1 387.6,771.6 389.2,772.6 390.8,772.9 392.4,773.4 394.0,772.9 395.6,771.8 397.2,771.7 398.8,771.8 400.4,771.9 402.0,772.3 403.6,772.5 405.2,772.7 406.8,772.8 408.4,772.4 410.0,772.0 411.6,771.3 413.2,771.2 414.8,771.4 416.4,772.2 418.0,772.9 419.6,773.7 421.2,773.8 422.8,773.0" stroke="#ff8000"/>
<polyline points="50.0,746.0 51.6,745.5 53.2,745.3 54.8,745.3 56.4,745.2 58.0,745.6 59.6,745.7 61.2,745.1 62.8,744.6 64.4,744.7 66.0,744.4 67.6,744.0 69.2,744.4 70.8,744.9 72.4,744.8 74.0,745.2 75.6,745.8 77.2,745.8 78.8,745.6 80.4,745.6 82.0,745.2 83.6,744.9 85.2,745.3 86.8,745.1 88.4,744.0 90.0,743.2 91.6,743.1 93.2,743.2 94.8,742.5 96.4,741.8 98.0,741.5 99.6,741.4 101.2,741.0 102.8,740.5 104.4,740.0 106.0,738.0 107.6,735.5 109.2,733.9 110.8,731.6 112.4,727.8 114.0,724.3 115.6,720.2 117.2,716.3 118.8,710.2 120.4,702.3 122.0,696.2 123.6,690.3 125.2,691.5 126.8,694.3 128.4,698.5 130.0,701.0 131.6,701.2 133.2,700.7 134.8,698.8 136.4,698.2 138.0,699.0 139.6,699.2 141.2,699.1 142.8,699.9 144.4,701.3 146.0,702.0 147.6,702.8 149.2,705.0 150.8,707.6 152.4,708.8 154.0,709.5 155.6,710.6 157.2,711.2 158.8,711.3 160.4,711.5 162.0,712.6 163.6,714.3 165.2,715.7 166.8,716.5 168.4,716.9 170.0,717.3 171.6,717.9 173.2,718.8 174.8,719.5 176.4,720.6 178.0,722.3 179.6,724.0 181.2,724.5 182.8,724.0 184.4,724.1 186.0,725.2 187.6,726.4 189.2,727.7 190.8,728.9 192.4,729.2 194.0,729.3 195.6,730.0 197.2,731.0 198.8,731.6 200.4,731.9 202.0,732.3 203.6,732.6 205.2,732.4 206.8,732.8 208.4,733.2 210.0,733.2 211.6,733.7 213.2,734.6 214.8,735.5 216.4,736.5 218.0,737.2 219.6,737.3 221.2,736.9 222.8,737.0 224.4,737.1 226.0,737.5 227.6,737.7 229.2,737.4 230.8,736.8 232.4,736.2 234.0,736.0 235.6,736.4 237.2,737.0 238.8,737.5 240.4,737.6 242.0,737.8 243.6,738.2 245.2,738.3 246.8,738.2 248.4,738.1 250.0,738.3 251.6,738.8 253.2,738.8 254.8,738.6 256.4,738.8 258.0,738.3 259.6,738.0 261.2,738.4 262.8,737.9 264.4,736.9 266.0,736.1 267.6,735.3 269.2,735.1 270.8,733.7 272.4,732.2 274.0,731.9 275.6,731.9 277.2,731.6 278.8,731.1 280.4,730.3 282.0,729.8 283.6,728.8 285.2,727.9 286.8,727.6 288.4,727.0 290.0,726.2 291.6,725.5 293.2,724.4 294.8,724.0 296.4,724.1 298.0,723.6 299.6,723.0 301.2,722.3 302.8,721.5 304.4,720.7 306.0,719.8 307.6,719.2 309.2,718.5 310.8,718.7 312.4,719.3 314.0,720.5 315.6,721.7 317.2,722.2 318.8,721.9 320.4,721.5 322.0,721.5 323.6,722.5 325.2,723.9 326.8,724.9 328.4,725.3 330.0,725.6 331.6,725.7 333.2,726.7 334.8,728.2 336.4,728.7 338.0,728.7 339.6,729.3 341.2,730.0 342.8,730.5 344.4,731.4 346.0,732.3 347.6,733.2 349.2,733.7 350.8,733.7 352.4,734.2 354.0,734.6 355.6,734.6 357.2,734.3 358.8,734.6 360.4,735.4 362.0,736.1 363.6,736.2 365.2,736.0 366.8,735.5 368.4,735.0 370.0,734.5 371.6,734.0 373.2,734.2 374.8,734.7 376.4,735.1 378.0,735.1 379.6,734.7 381.2,735.0 382.8,735.4 384.4,735.1 386.0,734.6 387.6,734.7 389.2,735.4 390.8,736.2 392.4,735.9 394.0,735.0 395.6,735.3 397.2,736.0 398.8,736.0 400.4,736.4 402.0,737.5 403.6,737.9 405.2,737.2 406.8,736.0 408.4,735.6 410.0,735.5 411.6,735.3 413.2,735.8 414.8,736.6 416.4,736.6 418.0,736.6 419.6,736.6 421.2,736.3 422.8,736.0" stroke="#ff6000"/>
<polyline points="50.0,708.7 51.6,708.6 53.2,708.8 54.8,709.3 56.4,709.6 58.0,710.0 59.6,710.1 61.2,710.0 62.8,710.0 64.4,709.8 66.0,709.3 67.6,709.7 69.2,710.2 70.8,709.9 72.4,709.9 74.0,709.8 75.6,709.8 77.2,709.8 78.8,710.1 80.4,710.1 82.0,709.3 83.6,709.0 85.2,709.5 86.8,709.1 88.4,708.6 90.0,708.7 91.6,707.9 93.2,706.4 94.8,705.6 96.4,705.0 98.0,704.6 99.6,704.1 101.2,703.1 102.8,701.8 104.4,700.7 106.0,699.3 107.6,697.4 109.2,695.0 110.8,691.9 112.4,688.9 114.0,686.3 115.6,681.1 117.2,675.5 118.8,668.6 120.4,659.9 122.0,652.5 123.6,645.9 125.2,649.0 126.8,652.7 128.4,656.7 130.0,659.0 131.6,660.4 133.2,661.4 134.8,661.8 136.4,663.4 138.0,665.5 139.6,666.0 141.2,664.8 142.8,664.3 144.4,665.8 146.0,668.0 147.6,669.9 149.2,672.3 150.8,675.0 152.4,676.6 154.0,676.9 155.6,677.1 157.2,677.6 158.8,678.7 160.4,679.5 162.0,679.6 163.6,680.1 165.2,680.9 166.8,681.8 168.4,683.1 170.0,685.1 171.6,686.8 173.2,687.2 174.8,686.8 176.4,687.2 178.0,688.4 179.6,689.5 181.2,690.2 182.8,690.9 184.4,691.7 186.0,691.9 187.6,691.8 189.2,692.9 190.8,694.7 192.4,695.8 194.0,695.9 195.6,695.6 197.2,695.9 198.8,696.9 200.4,697.7 202.0,698.3 203.6,698.4 205.2,697.8 206.8,697.4 208.4,697.7 210.0,698.9 211.6,699.6 213.2,699.8 214.8,700.7 216.4,701.6 218.0,701.6 219.6,701.1 221.2,700.8 222.8,700.7 224.4,700.4 226.0,700.5 227.6,701.0 229.2,701.6 230.8,701.7 232.4,701.4 234.0,701.3 235.6,701.6 237.2,702.1 238.8,702.9 240.4,703.6 242.0,703.3 243.6,702.3 245.2,701.7 246.8,701.5 248.4,701.8 250.0,701.7 251.6,701.6 253.2,701.9 254.8,702.5 256.4,702.5 258.0,702.3 259.6,702.0 261.2,701.0 262.8,700.1 264.4,699.5 266.0,698.8 267.6,698.8 269.2,698.8 270.8,698.4 272.4,697.7 274.0,696.6 275.6,695.3 277.2,694.1 278.8,693.6 280.4,693.5 282.0,693.8 283.6,693.7 285.2,692.9 286.8,691.9 288.4,690.6 290.0,689.5 291.6,688.5 293.2,688.0 294.8,687.9 296.4,687.7 298.0,687.2 299.6,686.5 301.2,686.2 302.8,685.9 304.4,684.6 306.0,683.5 307.6,683.8 309.2,684.5 310.8,685.7 312.4,686.1 314.0,685.9 315.6,686.3 317.2,686.5 318.8,686.3 320.4,687.1 322.0,688.6 323.6,689.3 325.2,689.8 326.8,690.4 328.4,691.1 330.0,691.5 331.6,691.6 333.2,692.2 334.8,692.8 336.4,693.1 338.0,693.7 339.6,694.5 341.2,694.8 342.8,694.9 344.4,695.8 346.0,697.0 347.6,698.0 349.2,698.5 350.8,698.7 352.4,698.7 354.0,699.2 355.6,699.9 357.2,699.4 358.8,699.0 360.4,699.2 362.0,699.5 363.6,699.4 365.2,700.1 366.8,700.9 368.4,700.7 370.0,699.8 371.6,698.9 373.2,698.7 374.8,699.6 376.4,700.5 378.0,700.8 379.6,700.7 381.2,700.8 382.8,700.7 384.4,700.0 386.0,699.4 387.6,699.4 389.2,699.7 390.8,700.5 392.4,700.8 394.0,700.0 395.6,698.8 397.2,698.6 398.8,698.9 400.4,698.8 402.0,698.7 403.6,698.4 405.2,698.7 406.8,699.1 408.4,699.4 410.0,700.0 411.6,700.6 413.2,700.5 414.8,699.8 416.4,699.4 418.0,699.4 419.6,699.1 421.2,698.8 422.8,699.2" stroke="#ff4000"/>
<polyline points="50.0,674.1 51.6,674.0 53.2,673.5 54.8,672.7 56.4,672.8 58.0,673.9 59.6,674.1 61.2,673.8 62.8,673.8 64.4,673.9 66.0,673.7 67.6,673.5 69.2,673.9 70.8,674.1 72.4,674.1 74.0,674.0 75.6,673.8 77.2,673.6 78.8,673.8 80.4,674.1 82.0,674.2 83.6,674.5 85.2,674.3 86.8,673.6 88.4,672.8 90.0,672.5 91.6,672.1 93.2,671.0 94.8,670.6 96.4,670.2 98.0,668.6 99.6,667.3 101.2,666.3 102.8,665.0 104.4,664.1 106.0,662.0 107.6,659.1 109.2,657.2 110.8,654.1 112.4,649.9 114.0,646.2 115.6,639.5 117.2,632.1 118.8,623.4 120.4,614.0 122.0,605.9 123.6,599.3 125.2,605.5 126.8,611.9 128.4,617.5 130.0,621.2 131.6,623.9 133.2,626.3 134.8,627.1 136.4,628.4 138.0,629.9 139.6,630.1 141.2,629.5 142.8,630.1 144.4,632.4 146.0,634.7 147.6,636.8 149.2,638.0 150.8,640.3 152.4,642.3 154.0,643.8 155.6,644.5 157.2,645.0 158.8,645.9 160.4,647.2 162.0,648.2 163.6,649.4 165.2,650.4 166.8,651.0 168.4,651.8 170.0,652.4 171.6,652.6 173.2,653.1 174.8,653.9 176.4,654.8 178.0,655.8 179.6,656.3 181.2,656.7 182.8,657.1 184.4,657.5 186.0,658.4 187.6,659.7 189.2,660.3 190.8,660.5 192.4,661.0 194.0,662.4 195.6,663.3 197.2,663.1 198.8,662.7 200.4,663.4 202.0,663.9 203.6,664.6 205.2,665.2 206.8,664.7 208.4,664.1 210.0,664.0 211.6,664.2 213.2,664.8 214.8,665.3 216.4,665.3 218.0,664.6 219.6,664.1 221.2,664.7 222.8,665.8 224.4,666.6 226.0,666.5 227.6,666.3 229.2,667.0 230.8,667.5 232.4,667.1 234.0,666.5 235.6,666.5 237.2,667.4 238.8,667.2 240.4,667.0 242.0,667.7 243.6,667.6 245.2,666.7 246.8,666.6 248.4,667.8 250.0,668.1 251.6,667.0 253.2,666.3 254.8,667.2 256.4,667.4 258.0,666.1 259.6,665.2 261.2,664.6 262.8,664.4 264.4,664.2 266.0,663.1 267.6,661.6 269.2,661.5 270.8,662.4 272.4,661.5 274.0,659.8 275.6,659.7 277.2,659.8 278.8,658.9 280.4,658.0 282.0,657.6 283.6,657.3 285.2,656.9 286.8,656.3 288.4,655.8 290.0,655.5 291.6,654.9 293.2,653.8 294.8,652.7 296.4,652.4 298.0,652.2 299.6,651.6 301.2,650.8 302.8,649.9 304.4,649.1 306.0,648.2 307.6,648.1 309.2,648.8 310.8,650.1 312.4,650.6 314.0,651.6 315.6,653.4 317.2,655.3 318.8,656.0 320.4,655.4 322.0,655.0 323.6,655.8 325.2,656.8 326.8,657.2 328.4,657.7 330.0,658.2 331.6,658.8 333.2,660.1 334.8,661.4 336.4,662.4 338.0,662.9 339.6,662.7 341.2,661.8 342.8,661.2 344.4,661.1 346.0,661.7 347.6,662.5 349.2,662.7 350.8,662.8 352.4,662.8 354.0,663.3 355.6,664.0 357.2,663.9 358.8,663.7 360.4,663.4 362.0,662.6 363.6,662.6 365.2,663.7 366.8,665.1 368.4,665.8 370.0,665.5 371.6,665.4 373.2,665.5 374.8,664.5 376.4,663.9 378.0,664.3 379.6,664.6 381.2,664.4 382.8,664.3 384.4,664.4 386.0,663.6 387.6,662.5 389.2,662.6 390.8,663.1 392.4,663.8 394.0,664.2 395.6,663.8 397.2,663.6 398.8,663.6 400.4,662.9 402.0,662.1 403.6,662.8 405.2,664.3 406.8,665.0 408.4,664.3 410.0,662.9 411.6,662.3 413.2,662.8 414.8,663.8 416.4,664.1 418.0,663.6 419.6,663.3 421.2,663.4 422.8,662.9" stroke="#ff2000"/>
<polyline points="50.0,638.1 51.6,637.4 53.2,636.5 54.8,637.3 56.4,638.1 58.0,637.6 59.6,637.1 61.2,637.2 62.8,637.4 64.4,637.5 66.0,637.0 67.6,636.4 69.2,637.2 70.8,638.3 72.4,638.5 74.0,638.1 75.6,637.7 77.2,637.8 78.8,638.5 80.4,638.9 82.0,638.3 83.6,637.8 85.2,637.9 86.8,637.8 88.4,637.3 90.0,636.6 91.6,636.1 93.2,635.7 94.8,634.9 96.4,634.4 98.0,633.9 99.6,632.8 101.2,631.3 102.8,630.2 104.4,629.7 106.0,627.8 107.6,624.9 109.2,621.5 110.8,617.4 112.4,613.3 114.0,609.1 115.6,602.0 117.2,594.4 118.8,585.5 120.4,575.6 122.0,568.0 123.6,561.3 125.2,566.7 126.8,572.9 128.4,579.4 130.0,584.0 131.6,587.4 133.2,590.0 134.8,590.5 136.4,591.4 138.0,592.4 139.6,591.9 141.2,591.2 142.8,591.5 144.4,593.4 146.0,595.9 147.6,599.0 149.2,602.6 150.8,606.0 152.4,606.7 154.0,607.2 155.6,608.3 157.2,609.6 158.8,610.8 160.4,611.0 162.0,610.7 163.6,611.5 165.2,613.2 166.8,614.3 168.4,614.7 170.0,615.4 171.6,615.7 173.2,616.9 174.8,617.9 176.4,617.9 178.0,618.4 179.6,619.4 181.2,619.8 182.8,620.1 184.4,620.7 186.0,622.0 187.6,623.0 189.2,622.6 190.8,621.9 192.4,621.8 194.0,622.5 195.6,624.1 197.2,625.6 198.8,626.7 200.4,627.4 202.0,627.9 203.6,628.6 205.2,629.0 206.8,628.3 208.4,627.2 210.0,626.6 211.6,627.3 213.2,628.5 214.8,629.2 216.4,630.0 218.0,630.6 219.6,630.3 221.2,629.4 222.8,629.5 224.4,630.3 226.0,630.1 227.6,629.6 229.2,629.7 230.8,630.3 232.4,631.0 234.0,631.1 235.6,630.6 237.2,630.5 238.8,631.2 240.4,631.3 242.0,630.9 243.6,630.8 245.2,630.5 246.8,630.2 248.4,629.9 250.0,629.7 251.6,630.1 253.2,630.7 254.8,631.1 256.4,630.7 258.0,629.4 259.6,628.0 261.2,626.9 262.8,626.4 264.4,626.6 266.0,626.4 267.6,625.8 269.2,625.5 270.8,625.4 272.4,624.8 274.0,624.0 275.6,623.4 277.2,622.9 278.8,622.2 280.4,621.3 282.0,620.9 283.6,620.6 285.2,620.5 286.8,619.7 288.4,618.7 290.0,618.5 291.6,618.4 293.2,618.5 294.8,618.3 296.4,617.1 298.0,616.2 299.6,615.9 301.2,615.4 302.8,615.2 304.4,614.8 306.0,613.9 307.6,612.7 309.2,612.0 310.8,613.3 312.4,614.2 314.0,615.4 315.6,617.4 317.2,618.4 318.8,618.3 320.4,618.5 322.0,618.6 323.6,619.1 325.2,620.6 326.8,622.4 328.4,623.3 330.0,623.1 331.6,623.0 333.2,623.0 334.8,623.5 336.4,623.8 338.0,623.3 339.6,623.5 341.2,624.5 342.8,625.8 344.4,626.4 346.0,626.6 347.6,626.9 349.2,627.0 350.8,626.7 352.4,626.6 354.0,626.9 355.6,627.0 357.2,626.9 358.8,627.9 360.4,629.1 362.0,628.8 363.6,627.7 365.2,627.3 366.8,627.7 368.4,628.1 370.0,628.1 371.6,627.9 373.2,628.1 374.8,628.4 376.4,628.2 378.0,627.9 379.6,628.3 381.2,628.5 382.8,627.9 384.4,627.6 386.0,627.1 387.6,626.5 389.2,626.1 390.8,626.4 392.4,627.2 394.0,627.7 395.6,627.4 397.2,626.4 398.8,625.9 400.4,626.3 402.0,627.3 403.6,627.6 405.2,626.8 406.8,626.5 408.4,626.6 410.0,626.6 411.6,626.4 413.2,626.8 414.8,627.2 416.4,626.9 418.0,626.8 419.6,626.4 421.2,625.6 422.8,625.9" stroke="#ff0000"/>
<polyline points="50.0,600.7 51.6,600.2 53.2,600.4 54.8,600.8 56.4,600.7 58.0,601.0 59.6,601.5 61.2,602.1 62.8,602.9 64.4,603.0 66.0,602.3 67.6,601.9 69.2,602.1 70.8,601.8 72.4,601.0 74.0,600.5 75.6,600.7 77.2,601.3 78.8,602.2 80.4,602.5 82.0,602.1 83.6,601.8 85.2,601.0 86.8,600.2 88.4,600.4 90.0,600.3 91.6,599.1 93.2,598.0 94.8,597.8 96.4,597.9 98.0,598.0 99.6,597.6 101.2,596.5 102.8,594.8 104.4,593.3 106.0,591.8 107.6,589.7 109.2,588.0 110.8,585.1 112.4,580.9 114.0,577.3 115.6,572.7 117.2,567.9 118.8,560.5 120.4,550.7 122.0,542.6 123.6,537.5 125.2,543.5 126.8,549.3 128.4,554.8 130.0,558.0 131.6,560.0 133.2,562.2 134.8,563.1 136.4,564.0 138.0,564.5 139.6,563.9 141.2,564.4 142.8,565.7 144.4,567.3 146.0,569.1 147.6,570.9 149.2,572.5 150.8,574.7 152.4,575.6 154.0,576.0 155.6,576.1 157.2,576.9 158.8,578.5 160.4,579.8 162.0,580.5 163.6,580.6 165.2,581.3 166.8,582.5 168.4,583.6 170.0,585.0 171.6,586.0 173.2,585.8 174.8,584.9 176.4,585.4 178.0,586.4 179.6,587.1 181.2,587.8 182.8,588.6 184.4,588.2 186.0,587.6 187.6,588.4 189.2,589.3 190.8,589.9 192.4,590.6 194.0,590.8 195.6,590.7 197.2,591.2 198.8,592.0 200.4,592.6 202.0,592.7 203.6,592.4 205.2,592.1 206.8,592.8 208.4,594.4 210.0,595.2 211.6,594.5 213.2,594.4 214.8,595.7 216.4,596.7 218.0,596.2 219.6,595.5 221.2,595.7 222.8,595.7 224.4,595.0 226.0,594.7 227.6,595.2 229.2,595.7 230.8,595.4 232.4,594.6 234.0,594.7 235.6,596.0 237.2,597.1 238.8,596.9 240.4,596.4 242.0,596.1 243.6,595.7 245.2,595.6 246.8,595.7 248.4,595.7 250.0,596.2 251.6,596.8 253.2,596.0 254.8,595.3 256.4,595.8 258.0,595.7 259.6,594.9 261.2,594.9 262.8,595.1 264.4,594.5 266.0,592.8 267.6,591.2 269.2,590.5 270.8,590.4 272.4,590.4 274.0,590.6 275.6,590.2 277.2,589.5 278.8,588.4 280.4,587.3 282.0,587.1 283.6,587.1 285.2,586.7 286.8,586.9 288.4,587.2 290.0,586.9 291.6,586.5 293.2,585.5 294.8,584.6 296.4,584.1 298.0,583.7 299.6,583.6 301.2,583.7 302.8,583.6 304.4,583.1 306.0,582.6 307.6,582.0 309.2,581.4 310.8,582.6 312.4,584.2 314.0,585.0 315.6,584.7 317.2,584.4 318.8,584.5 320.4,584.6 322.0,585.0 323.6,586.1 325.2,587.5 326.8,588.9 328.4,589.5 330.0,589.4 331.6,589.2 333.2,589.3 334.8,589.8 336.4,590.1 338.0,590.3 339.6,590.6 341.2,591.0 342.8,591.5 344.4,592.3 346.0,592.6 347.6,592.2 349.2,592.1 350.8,592.5 352.4,592.3 354.0,592.0 355.6,592.9 357.2,593.5 358.8,593.7 360.4,593.8 362.0,592.9 363.6,591.9 365.2,591.9 366.8,592.4 368.4,592.7 370.0,592.9 371.6,593.0 373.2,593.4 374.8,593.7 376.4,593.2 378.0,592.7 379.6,592.7 381.2,593.4 382.8,593.7 384.4,592.2 386.0,590.9 387.6,591.5 389.2,593.0 390.8,593.7 392.4,593.6 394.0,593.5 395.6,593.1 397.2,592.7 398.8,592.2 400.4,592.6 402.0,593.6 403.6,593.8 405.2,594.1 406.8,594.3 408.4,593.9 410.0,593.1 411.6,592.8 413.2,592.8 414.8,591.8 416.4,590.9 418.0,591.3 419.6,592.1 421.2,592.8 422.8,593.2" stroke="#df0000"/>
<polyline points="50.0,564.1 51.6,564.4 53.2,565.1 54.8,565.8 56.4,565.8 58.0,565.8 59.6,566.0 61.2,565.8 62.8,565.4 64.4,565.6 66.0,566.6 67.6,566.8 69.2,566.4 70.8,566.0 72.4,566.1 74.0,566.2 75.6,566.2 77.2,565.9 78.8,565.9 80.4,566.4 82.0,566.6 83.6,566.4 85.2,565.4 86.8,564.7 88.4,564.5 90.0,564.7 91.6,565.5 93.2,565.8 94.8,565.0 96.4,563.8 98.0,562.4 99.6,561.2 101.2,560.1 102.8,559.1 104.4,558.8 106.0,557.7 107.6,555.0 109.2,552.4 110.8,550.1 112.4,546.2 114.0,541.8 115.6,536.7 117.2,531.9 118.8,524.6 120.4,515.2 122.0,508.1 123.6,503.1 125.2,507.9 126.8,512.5 128.4,517.3 130.0,521.1 131.6,524.9 133.2,527.8 134.8,527.5 136.4,527.1 138.0,527.8 139.6,527.4 141.2,527.1 142.8,528.5 144.4,530.8 146.0,533.0 147.6,535.0 149.2,536.7 150.8,538.9 152.4,540.6 154.0,542.1 155.6,542.9 157.2,543.0 158.8,543.4 160.4,544.1 162.0,545.0 163.6,545.4 165.2,545.6 166.8,546.3 168.4,547.0 170.0,548.0 171.6,549.3 173.2,550.0 174.8,549.8 176.4,550.0 178.0,551.1 179.6,552.9 181.2,554.1 182.8,554.3 184.4,553.6 186.0,552.7 187.6,552.8 189.2,553.5 190.8,553.9 192.4,554.3 194.0,555.0 195.6,555.6 197.2,556.7 198.8,557.8 200.4,557.5 202.0,556.9 203.6,557.3 205.2,558.0 206.8,558.3 208.4,558.2 210.0,558.0 211.6,558.8 213.2,560.4 214.8,561.3 216.4,561.3 218.0,561.2 219.6,560.7 221.2,559.6 222.8,559.6 224.4,560.1 226.0,559.8 227.6,559.7 229.2,560.0 230.8,560.4 232.4,561.3 234.0,561.9 235.6,561.8 237.2,561.2 238.8,560.8 240.4,561.3 242.0,561.8 243.6,561.4 245.2,560.9 246.8,560.6 248.4,560.6 250.0,561.3 251.6,561.9 253.2,561.4 254.8,560.8 256.4,560.3 258.0,559.3 259.6,558.6 261.2,558.5 262.8,558.0 264.4,557.4 266.0,557.6 267.6,557.7 269.2,557.0 270.8,555.8 272.4,554.9 274.0,554.4 275.6,553.6 277.2,552.7 278.8,552.6 280.4,552.9 282.0,552.5 283.6,551.6 285.2,551.1 286.8,551.2 288.4,551.3 290.0,551.4 291.6,551.1 293.2,550.3 294.8,549.5 296.4,549.1 298.0,549.0 299.6,548.9 301.2,548.6 302.8,547.9 304.4,546.9 306.0,546.3 307.6,546.1 309.2,546.2 310.8,547.2 312.4,548.3 314.0,548.8 315.6,548.8 317.2,549.0 318.8,549.5 320.4,550.1 322.0,550.3 323.6,550.7 325.2,551.1 326.8,551.6 328.4,552.5 330.0,553.2 331.6,553.6 333.2,553.9 334.8,553.8 336.4,553.7 338.0,554.4 339.6,555.8 341.2,556.5 342.8,556.4 344.4,556.0 346.0,555.9 347.6,556.4 349.2,556.7 350.8,556.8 352.4,557.1 354.0,556.9 355.6,556.1 357.2,555.9 358.8,556.6 360.4,557.5 362.0,557.9 363.6,557.7 365.2,557.6 366.8,557.9 368.4,558.1 370.0,558.2 371.6,557.9 373.2,557.3 374.8,557.0 376.4,557.8 378.0,558.9 379.6,559.4 381.2,559.3 382.8,558.5 384.4,557.6 386.0,557.4 387.6,557.7 389.2,557.9 390.8,558.5 392.4,559.0 394.0,559.0 395.6,558.1 397.2,557.4 398.8,557.2 400.4,556.6 402.0,556.3 403.6,556.9 405.2,557.5 406.8,557.6 408.4,557.2 410.0,556.8 411.6,556.5 413.2,556.1 414.8,556.0 416.4,556.3 418.0,556.7 419.6,556.9 421.2,557.2 422.8,557.4" stroke="#bf0000"/>
<polyline points="50.0,530.5 51.6,529.6 53.2,529.2 54.8,529.5 56.4,530.2 58.0,530.3 59.6,530.3 61.2,530.0 62.8,529.7 64.4,529.8 66.0,530.4 67.6,530.9 69.2,531.5 70.8,531.5 72.4,530.8 74.0,531.0 75.6,531.6 77.2,531.3 78.8,530.1 80.4,528.9 82.0,528.9 83.6,529.9 85.2,530.9 86.8,530.5 88.4,529.6 90.0,529.2 91.6,529.1 93.2,528.7 94.8,527.8 96.4,527.8 98.0,528.6 99.6,528.4 101.2,527.4 102.8,526.8 104.4,525.8 106.0,525.2 107.6,525.6 109.2,525.4 110.8,524.6 112.4,522.6 114.0,520.2 115.6,518.0 117.2,516.6 118.8,514.7 120.4,511.1 122.0,507.5 123.6,502.5 125.2,497.8 126.8,496.5 128.4,495.0 130.0,491.8 131.6,488.3 133.2,484.2 134.8,479.6 136.4,477.6 138.0,478.2 139.6,478.7 141.2,479.3 142.8,479.7 144.4,479.2 146.0,478.8 147.6,479.9 149.2,481.8 150.8,482.1 152.4,481.7 154.0,481.0 155.6,481.5 157.2,482.4 158.8,483.6 160.4,484.9 162.0,486.4 163.6,487.6 165.2,488.6 166.8,490.2 168.4,491.6 170.0,492.4 171.6,493.0 173.2,493.3 174.8,493.9 176.4,495.1 178.0,496.4 179.6,498.1 181.2,500.1 182.8,502.3 184.4,503.9 186.0,505.6 187.6,507.1 189.2,508.0 190.8,508.9 192.4,509.2 194.0,510.3 195.6,511.8 197.2,511.6 198.8,510.8 200.4,511.0 202.0,512.1 203.6,513.9 205.2,515.6 206.8,516.0 208.4,515.4 210.0,515.7 211.6,516.8 213.2,517.5 214.8,518.2 216.4,518.9 218.0,518.2 219.6,516.8 221.2,516.6 222.8,517.3 224.4,518.1 226.0,519.5 227.6,521.0 229.2,521.3 230.8,520.4 232.4,519.4 234.0,518.9 235.6,519.6 237.2,520.9 238.8,521.4 240.4,521.0 242.0,521.4 243.6,522.3 245.2,522.6 246.8,521.7 248.4,521.3 250.0,521.9 251.6,521.9 253.2,521.4 254.8,521.1 256.4,521.0 258.0,521.0 259.6,521.9 261.2,522.9 262.8,523.7 264.4,524.2 266.0,523.3 267.6,521.6 269.2,521.1 270.8,521.0 272.4,520.6 274.0,520.3 275.6,518.9 277.2,517.2 278.8,516.2 280.4,515.0 282.0,513.0 283.6,511.3 285.2,510.7 286.8,510.3 288.4,510.0 290.0,509.2 291.6,507.4 293.2,506.1 294.8,505.6 296.4,505.1 298.0,504.0 299.6,502.5 301.2,501.7 302.8,502.1 304.4,501.9 306.0,500.4 307.6,499.1 309.2,498.5 310.8,497.5 312.4,496.6 314.0,497.5 315.6,499.4 317.2,501.0 318.8,501.8 320.4,501.9 322.0,502.0 323.6,502.3 325.2,502.6 326.8,503.0 328.4,504.1 330.0,505.1 331.6,505.9 333.2,506.6 334.8,506.7 336.4,507.1 338.0,507.7 339.6,508.3 341.2,509.6 342.8,511.5 344.4,513.3 346.0,514.5 347.6,514.9 349.2,515.1 350.8,515.5 352.4,516.5 354.0,518.3 355.6,519.3 357.2,519.1 358.8,518.7 360.4,519.4 362.0,520.1 363.6,520.0 365.2,519.4 366.8,519.5 368.4,520.1 370.0,520.2 371.6,519.3 373.2,518.7 374.8,518.5 376.4,518.7 378.0,519.3 379.6,519.6 381.2,519.4 382.8,519.6 384.4,520.1 386.0,520.3 387.6,520.2 389.2,519.6 390.8,519.3 392.4,519.3 394.0,519.7 395.6,520.6 397.2,520.4 398.8,519.9 400.4,520.7 402.0,521.0 403.6,520.2 405.2,520.3 406.8,520.9 408.4,521.2 410.0,521.8 411.6,522.1 413.2,521.9 414.8,521.9 416.4,522.1 418.0,522.1 419.6,522.0 421.2,521.5 422.8,521.1" stroke="#00009f"/>
<polyline points="50.0,494.6 51.6,493.9 53.2,492.8 54.8,492.9 56.4,493.8 58.0,493.8 59.6,493.0 61.2,493.3 62.8,494.6 64.4,494.8 66.0,494.1 67.6,493.9 69.2,494.3 70.8,494.2 72.4,493.6 74.0,492.9 75.6,493.4 77.2,494.2 78.8,494.2 80.4,493.8 82.0,494.0 83.6,494.8 85.2,495.1 86.8,495.4 88.4,495.6 90.0,495.6 91.6,495.4 93.2,494.9 94.8,494.2 96.4,493.2 98.0,492.8 99.6,492.9 101.2,492.8 102.8,492.6 104.4,492.8 106.0,492.1 107.6,490.0 109.2,488.4 110.8,487.9 112.4,487.2 114.0,486.1 115.6,484.0 117.2,481.8 118.8,479.8 120.4,476.4 122.0,472.6 123.6,467.2 125.2,461.7 126.8,459.5 128.4,458.3 130.0,455.0 131.6,450.1 133.2,445.6 134.8,442.1 136.4,440.6 138.0,441.5 139.6,441.3 141.2,440.5 142.8,441.0 144.4,442.6 146.0,443.5 147.6,443.9 149.2,444.7 150.8,443.9 152.4,442.8 154.0,442.0 155.6,442.7 157.2,444.1 158.8,445.9 160.4,447.3 162.0,448.7 163.6,450.2 165.2,451.2 166.8,452.0 168.4,453.2 170.0,453.9 171.6,454.8 173.2,456.0 174.8,456.9 176.4,457.7 178.0,458.9 179.6,461.2 181.2,463.1 182.8,464.1 184.4,464.9 186.0,466.9 187.6,469.5 189.2,471.4 190.8,472.8 192.4,473.0 194.0,472.9 195.6,473.5 197.2,474.9 198.8,475.5 200.4,476.1 202.0,477.2 203.6,478.0 205.2,478.4 206.8,478.5 208.4,479.1 210.0,479.9 211.6,480.0 213.2,480.0 214.8,480.0 216.4,480.2 218.0,480.5 219.6,480.8 221.2,481.4 222.8,482.3 224.4,482.9 226.0,482.5 227.6,482.1 229.2,482.8 230.8,484.2 232.4,484.4 234.0,484.2 235.6,484.7 237.2,484.2 238.8,483.2 240.4,483.5 242.0,484.3 243.6,484.1 245.2,483.9 246.8,484.3 248.4,485.0 250.0,485.8 251.6,486.4 253.2,486.2 254.8,485.5 256.4,484.9 258.0,485.0 259.6,486.3 261.2,487.5 262.8,486.9 264.4,486.0 266.0,485.8 267.6,485.5 269.2,484.9 270.8,483.9 272.4,483.2 274.0,482.6 275.6,482.2 277.2,481.5 278.8,480.8 280.4,480.3 282.0,478.7 283.6,476.4 285.2,474.6 286.8,473.0 288.4,471.7 290.0,470.4 291.6,469.2 293.2,469.0 294.8,469.2 296.4,468.9 298.0,467.8 299.6,466.4 301.2,465.4 302.8,465.2 304.4,464.8 306.0,464.3 307.6,464.1 309.2,463.4 310.8,462.5 312.4,461.8 314.0,462.0 315.6,462.7 317.2,462.8 318.8,462.3 320.4,462.6 322.0,463.5 323.6,464.4 325.2,464.8 326.8,465.0 328.4,465.1 330.0,465.8 331.6,467.6 333.2,469.3 334.8,471.4 336.4,473.5 338.0,473.9 339.6,473.4 341.2,473.6 342.8,474.3 344.4,474.5 346.0,475.2 347.6,476.1 349.2,476.4 350.8,477.0 352.4,478.5 354.0,479.8 355.6,480.2 357.2,481.2 358.8,482.3 360.4,482.9 362.0,482.8 363.6,482.2 365.2,481.7 366.8,481.8 368.4,482.5 370.0,483.3 371.6,483.2 373.2,482.7 374.8,482.1 376.4,481.7 378.0,482.6 379.6,483.2 381.2,482.9 382.8,483.0 384.4,483.5 386.0,483.7 387.6,483.4 389.2,483.0 390.8,483.3 392.4,483.6 394.0,483.5 395.6,483.4 397.2,484.6 398.8,486.1 400.4,486.2 402.0,485.4 403.6,484.7 405.2,484.0 406.8,483.6 408.4,483.8 410.0,484.2 411.6,484.0 413.2,483.8 414.8,484.2 416.4,484.1 418.0,483.8 419.6,484.8 421.2,485.8 422.8,485.6" stroke="#0000bf"/>
<polyline points="50.0,457.4 51.6,459.6 53.2,462.3 54.8,461.5 56.4,458.7 58.0,458.3 59.6,459.7 61.2,460.4 62.8,459.4 64.4,457.6 66.0,456.7 67.6,456.9 69.2,459.2 70.8,460.9 72.4,459.7 74.0,458.8 75.6,458.0 77.2,457.0 78.8,457.1 80.4,457.3 82.0,458.3 83.6,459.1 85.2,458.7 86.8,457.9 88.4,456.6 90.0,456.2 91.6,456.7 93.2,456.8 94.8,457.0 96.4,457.2 98.0,457.0 99.6,457.0 101.2,457.3 102.8,457.7 104.4,456.9 106.0,456.4 107.6,456.7 109.2,456.5 110.8,455.3 112.4,453.7 114.0,452.4 115.6,450.1 117.2,448.1 118.8,447.7 120.4,446.5 122.0,442.6 123.6,437.5 125.2,433.5 126.8,430.6 128.4,428.2 130.0,426.0 131.6,423.6 133.2,420.9 134.8,417.4 136.4,415.3 138.0,415.0 139.6,415.4 141.2,416.2 142.8,416.9 144.4,418.0 146.0,419.8 147.6,420.4 149.2,420.0 150.8,418.6 152.4,417.8 154.0,417.9 155.6,418.2 157.2,418.1 158.8,419.4 160.4,421.3 162.0,421.9 163.6,421.4 165.2,421.3 166.8,423.0 168.4,424.8 170.0,425.8 171.6,426.4 173.2,426.4 174.8,426.3 176.4,427.2 178.0,428.3 179.6,430.1 181.2,431.8 182.8,432.1 184.4,433.0 186.0,435.2 187.6,437.3 189.2,438.1 190.8,439.0 192.4,439.1 194.0,438.5 195.6,439.8 197.2,441.8 198.8,442.2 200.4,441.6 202.0,441.5 203.6,441.9 205.2,442.3 206.8,443.9 208.4,446.9 210.0,448.5 211.6,448.5 213.2,447.1 214.8,446.0 216.4,447.3 218.0,449.1 219.6,449.0 221.2,448.4 222.8,449.1 224.4,449.7 226.0,450.4 227.6,451.0 229.2,449.9 230.8,449.1 232.4,450.0 234.0,451.7 235.6,452.4 237.2,451.9 238.8,451.0 240.4,450.4 242.0,449.3 243.6,448.1 245.2,449.0 246.8,451.2 248.4,451.3 250.0,450.1 251.6,449.6 253.2,448.9 254.8,449.2 256.4,451.1 258.0,452.2 259.6,452.7 261.2,453.6 262.8,453.8 264.4,452.6 266.0,451.7 267.6,451.8 269.2,452.3 270.8,452.4 272.4,451.5 274.0,450.6 275.6,451.2 277.2,450.2 278.8,448.5 280.4,447.3 282.0,444.9 283.6,443.4 285.2,443.6 286.8,443.4 288.4,442.4 290.0,440.8 291.6,439.3 293.2,437.8 294.8,436.2 296.4,435.3 298.0,434.8 299.6,435.7 301.2,436.6 302.8,435.8 304.4,435.2 306.0,434.8 307.6,433.1 309.2,432.3 310.8,432.6 312.4,432.9 314.0,432.8 315.6,432.9 317.2,433.8 318.8,435.3 320.4,436.1 322.0,435.9 323.6,437.6 325.2,439.7 326.8,439.4 328.4,438.2 330.0,437.8 331.6,438.5 333.2,439.0 334.8,438.5 336.4,437.1 338.0,437.2 339.6,439.0 341.2,441.5 342.8,443.2 344.4,443.9 346.0,443.8 347.6,445.0 349.2,447.7 350.8,449.3 352.4,450.1 354.0,450.4 355.6,450.5 357.2,450.9 358.8,450.9 360.4,449.8 362.0,449.6 363.6,450.8 365.2,450.8 366.8,450.2 368.4,450.2 370.0,449.8 371.6,448.4 373.2,447.7 374.8,448.0 376.4,447.7 378.0,446.4 379.6,446.9 381.2,449.0 382.8,449.8 384.4,449.6 386.0,450.3 387.6,450.5 389.2,450.8 390.8,451.7 392.4,452.6 394.0,453.4 395.6,453.5 397.2,451.7 398.8,448.2 400.4,446.6 402.0,447.4 403.6,448.2 405.2,448.0 406.8,447.6 408.4,448.0 410.0,449.4 411.6,450.9 413.2,451.5 414.8,452.5 416.4,453.5 418.0,452.9 419.6,451.1 421.2,450.5 422.8,450.5" stroke="#0000df"/>
<polyline points="50.0,422.4 51.6,424.7 53.2,425.2 54.8,424.4 56.4,422.4 58.0,421.0 59.6,420.9 61.2,424.2 62.8,428.7 64.4,428.6 66.0,427.5 67.6,426.2 69.2,424.7 70.8,422.5 72.4,422.2 74.0,424.8 75.6,425.1 77.2,425.8 78.8,426.5 80.4,424.2 82.0,423.3 83.6,423.8 85.2,420.8 86.8,417.6 88.4,422.1 90.0,427.8 91.6,427.9 93.2,425.8 94.8,424.6 96.4,424.5 98.0,424.4 99.6,423.4 101.2,424.7 102.8,426.6 104.4,425.5 106.0,422.0 107.6,418.7 109.2,418.2 110.8,419.2 112.4,418.0 114.0,414.7 115.6,412.5 117.2,413.5 118.8,412.4 120.4,410.7 122.0,409.8 123.6,406.1 125.2,402.1 126.8,399.2 128.4,394.5 130.0,389.4 131.6,386.7 133.2,385.3 134.8,381.3 136.4,379.6 138.0,382.7 139.6,383.3 141.2,382.0 142.8,382.2 144.4,382.5 146.0,382.3 147.6,381.3 149.2,381.4 150.8,382.9 152.4,383.9 154.0,384.8 155.6,386.2 157.2,387.3 158.8,387.1 160.4,383.4 162.0,379.6 163.6,379.7 165.2,383.8 166.8,387.8 168.4,389.3 170.0,391.3 171.6,391.3 173.2,391.1 174.8,393.5 176.4,394.4 178.0,395.7 179.6,398.8 181.2,400.8 182.8,400.8 184.4,400.4 186.0,399.3 187.6,401.3 189.2,406.4 190.8,408.9 192.4,409.9 194.0,411.6 195.6,411.6 197.2,410.5 198.8,411.8 200.4,413.8 202.0,412.8 203.6,412.0 205.2,413.5 206.8,412.0 208.4,408.0 210.0,409.5 211.6,415.5 213.2,417.5 214.8,416.3 216.4,416.6 218.0,416.3 219.6,415.6 221.2,417.7 222.8,422.8 224.4,424.2 226.0,419.9 227.6,415.5 229.2,416.4 230.8,417.9 232.4,415.5 234.0,413.9 235.6,415.1 237.2,415.4 238.8,413.4 240.4,412.1 242.0,413.0 243.6,414.4 245.2,416.2 246.8,418.2 248.4,418.7 250.0,417.6 251.6,417.0 253.2,415.9 254.8,413.8 256.4,413.4 258.0,415.6 259.6,418.2 261.2,418.3 262.8,419.0 264.4,420.0 266.0,418.0 267.6,414.2 269.2,414.3 270.8,417.7 272.4,418.7 274.0,416.6 275.6,413.6 277.2,412.8 278.8,416.6 280.4,418.1 282.0,414.6 283.6,410.6 285.2,407.4 286.8,403.7 288.4,402.3 290.0,405.8 291.6,409.6 293.2,409.8 294.8,405.7 296.4,402.3 298.0,401.1 299.6,399.7 301.2,398.5 302.8,397.8 304.4,400.1 306.0,403.7 307.6,405.8 309.2,406.8 310.8,404.9 312.4,399.2 314.0,394.4 315.6,393.7 317.2,397.5 318.8,401.4 320.4,401.9 322.0,399.9 323.6,400.0 325.2,401.1 326.8,400.9 328.4,402.7 330.0,405.2 331.6,404.2 333.2,404.1 334.8,405.5 336.4,404.1 338.0,400.3 339.6,399.0 341.2,402.7 342.8,408.8 344.4,410.8 346.0,410.7 347.6,413.4 349.2,415.6 350.8,413.7 352.4,408.4 354.0,406.8 355.6,409.2 357.2,412.1 358.8,414.3 360.4,414.5 362.0,413.8 363.6,413.4 365.2,413.0 366.8,414.7 368.4,414.9 370.0,412.8 371.6,412.7 373.2,414.5 374.8,418.0 376.4,420.1 378.0,418.6 379.6,417.2 381.2,417.3 382.8,420.4 384.4,421.1 386.0,417.2 387.6,414.9 389.2,416.1 390.8,417.3 392.4,417.4 394.0,419.0 395.6,419.7 397.2,418.8 398.8,416.8 400.4,415.1 402.0,415.1 403.6,414.6 405.2,416.2 406.8,420.3 408.4,421.3 410.0,419.6 411.6,418.3 413.2,418.6 414.8,418.9 416.4,415.9 418.0,414.5 419.6,417.1 421.2,419.4 422.8,418.6" stroke="#0000ff"/>
<polyline points="50.0,386.4 51.6,386.7 53.2,386.0 54.8,384.7 56.4,384.8 58.0,386.5 59.6,388.0 61.2,387.6 62.8,386.8 64.4,386.5 66.0,385.6 67.6,384.9 69.2,386.1 70.8,387.2 72.4,387.2 74.0,387.2 75.6,387.1 77.2,386.7 78.8,386.3 80.4,386.8 82.0,387.4 83.6,387.2 85.2,386.6 86.8,386.1 88.4,385.5 90.0,385.6 91.6,386.0 93.2,385.1 94.8,383.8 96.4,383.7 98.0,384.5 99.6,384.7 101.2,385.3 102.8,385.1 104.4,383.7 106.0,382.5 107.6,381.8 109.2,381.4 110.8,381.0 112.4,379.4 114.0,377.2 115.6,375.2 117.2,373.6 118.8,371.9 120.4,368.9 122.0,364.3 123.6,357.8 125.2,352.8 126.8,351.6 128.4,350.6 130.0,347.5 131.6,342.6 133.2,338.4 134.8,334.9 136.4,332.5 138.0,332.4 139.6,333.1 141.2,334.1 142.8,334.9 144.4,335.6 146.0,335.8 147.6,336.8 149.2,337.7 150.8,336.1 152.4,335.2 154.0,335.0 155.6,336.0 157.2,337.6 158.8,338.8 160.4,340.1 162.0,341.8 163.6,342.3 165.2,343.4 166.8,345.1 168.4,346.7 170.0,348.0 171.6,349.5 173.2,350.8 174.8,351.7 176.4,352.2 178.0,352.8 179.6,355.0 181.2,356.9 182.8,358.0 184.4,358.9 186.0,359.7 187.6,361.3 189.2,363.4 190.8,365.1 192.4,365.4 194.0,365.6 195.6,366.6 197.2,368.4 198.8,369.0 200.4,368.0 202.0,368.1 203.6,369.3 205.2,370.6 206.8,371.9 208.4,372.9 210.0,373.3 211.6,373.7 213.2,374.5 214.8,375.1 216.4,374.8 218.0,374.5 219.6,375.0 221.2,375.9 222.8,376.7 224.4,376.6 226.0,376.7 227.6,377.5 229.2,377.8 230.8,377.2 232.4,376.9 234.0,376.8 235.6,376.8 237.2,377.1 238.8,377.9 240.4,378.6 242.0,378.4 243.6,377.9 245.2,377.8 246.8,378.2 248.4,378.1 250.0,377.4 251.6,376.8 253.2,376.8 254.8,377.0 256.4,377.2 258.0,377.2 259.6,377.3 261.2,377.7 262.8,377.9 264.4,377.3 266.0,376.8 267.6,377.1 269.2,377.6 270.8,377.2 272.4,376.3 274.0,375.8 275.6,376.0 277.2,375.5 278.8,374.2 280.4,372.6 282.0,370.5 283.6,368.1 285.2,365.8 286.8,364.3 288.4,364.0 290.0,364.4 291.6,364.4 293.2,363.5 294.8,362.8 296.4,362.3 298.0,360.9 299.6,359.4 301.2,358.5 302.8,358.1 304.4,357.8 306.0,357.6 307.6,357.4 309.2,356.7 310.8,354.8 312.4,353.1 314.0,353.6 315.6,354.9 317.2,355.7 318.8,356.0 320.4,356.7 322.0,357.4 323.6,358.2 325.2,358.9 326.8,359.0 328.4,359.4 330.0,360.2 331.6,361.0 333.2,362.1 334.8,363.0 336.4,363.7 338.0,364.8 339.6,366.1 341.2,367.7 342.8,369.1 344.4,369.6 346.0,369.7 347.6,369.7 349.2,370.5 350.8,372.1 352.4,373.5 354.0,374.8 355.6,375.5 357.2,376.2 358.8,377.4 360.4,377.6 362.0,376.5 363.6,375.8 365.2,375.8 366.8,375.4 368.4,374.7 370.0,375.2 371.6,375.5 373.2,374.8 374.8,374.9 376.4,375.2 378.0,375.1 379.6,375.3 381.2,375.6 382.8,376.3 384.4,376.6 386.0,376.2 387.6,376.6 389.2,377.3 390.8,377.2 392.4,376.5 394.0,376.5 395.6,376.5 397.2,376.4 398.8,377.0 400.4,377.4 402.0,376.6 403.6,375.6 405.2,375.2 406.8,375.2 408.4,375.6 410.0,375.6 411.6,375.6 413.2,375.8 414.8,375.2 416.4,374.9 418.0,375.1 419.6,375.4 421.2,376.3 422.8,377.1" stroke="#0020ff"/>
<polyline points="50.0,350.2 51.6,349.5 53.2,349.3 54.8,348.6 56.4,348.1 58.0,348.0 59.6,348.3 61.2,349.5 62.8,350.6 64.4,351.0 66.0,351.6 67.6,352.2 69.2,351.5 70.8,350.2 72.4,350.5 74.0,351.2 75.6,351.4 77.2,351.2 78.8,351.4 80.4,351.9 82.0,352.5 83.6,352.6 85.2,351.7 86.8,349.9 88.4,348.4 90.0,348.0 91.6,348.2 93.2,349.1 94.8,350.2 96.4,350.9 98.0,351.2 99.6,350.8 101.2,349.2 102.8,347.4 104.4,346.5 106.0,346.5 107.6,347.0 109.2,347.3 110.8,346.4 112.4,343.9 114.0,340.9 115.6,339.1 117.2,338.6 118.8,337.0 120.4,333.5 122.0,330.0 123.6,325.6 125.2,320.7 126.8,318.2 128.4,316.5 130.0,313.9 131.6,310.2 133.2,306.2 134.8,302.0 136.4,300.2 138.0,300.7 139.6,301.1 141.2,301.8 142.8,302.9 144.4,303.1 146.0,302.5 147.6,302.8 149.2,303.2 150.8,302.2 152.4,302.1 154.0,302.2 155.6,303.0 157.2,303.7 158.8,304.8 160.4,306.3 162.0,307.5 163.6,308.3 165.2,309.8 166.8,312.0 168.4,313.3 170.0,314.2 171.6,315.6 173.2,316.8 174.8,317.2 176.4,318.2 178.0,319.4 179.6,321.3 181.2,323.3 182.8,325.0 184.4,326.6 186.0,327.6 187.6,328.2 189.2,329.0 190.8,330.0 192.4,330.1 194.0,330.1 195.6,331.6 197.2,333.6 198.8,334.6 200.4,335.0 202.0,335.3 203.6,335.9 205.2,335.8 206.8,335.5 208.4,336.2 210.0,337.4 211.6,338.0 213.2,337.8 214.8,337.4 216.4,337.8 218.0,339.3 219.6,340.7 221.2,339.9 222.8,338.4 224.4,338.4 226.0,340.0 227.6,341.3 229.2,341.5 230.8,342.1 232.4,342.7 234.0,342.0 235.6,340.6 237.2,340.3 238.8,341.0 240.4,341.4 242.0,341.3 243.6,342.3 245.2,343.2 246.8,343.1 248.4,342.1 250.0,341.7 251.6,341.9 253.2,342.4 254.8,342.9 256.4,343.5 258.0,343.7 259.6,342.7 261.2,342.3 262.8,342.8 264.4,342.8 266.0,342.2 267.6,341.2 269.2,341.2 270.8,341.5 272.4,341.7 274.0,341.4 275.6,340.3 277.2,338.8 278.8,337.8 280.4,336.1 282.0,334.4 283.6,333.0 285.2,331.8 286.8,330.6 288.4,329.5 290.0,328.9 291.6,328.6 293.2,328.2 294.8,327.2 296.4,326.4 298.0,325.3 299.6,324.3 301.2,323.6 302.8,323.5 304.4,323.1 306.0,322.0 307.6,321.2 309.2,320.8 310.8,319.9 312.4,318.9 314.0,319.3 315.6,320.9 317.2,322.5 318.8,322.8 320.4,322.2 322.0,321.9 323.6,322.7 325.2,323.6 326.8,324.1 328.4,325.0 330.0,326.1 331.6,327.2 333.2,328.0 334.8,328.0 336.4,328.7 338.0,330.3 339.6,331.4 341.2,331.5 342.8,332.0 344.4,333.6 346.0,334.9 347.6,335.8 349.2,337.5 350.8,338.6 352.4,338.5 354.0,338.5 355.6,338.9 357.2,339.2 358.8,339.6 360.4,340.3 362.0,340.8 363.6,340.5 365.2,339.6 366.8,339.0 368.4,339.3 370.0,340.9 371.6,342.7 373.2,342.6 374.8,341.5 376.4,341.2 378.0,341.0 379.6,340.3 381.2,340.4 382.8,341.1 384.4,341.3 386.0,341.5 387.6,341.6 389.2,341.4 390.8,342.0 392.4,342.6 394.0,342.4 395.6,342.1 397.2,341.7 398.8,341.2 400.4,340.9 402.0,340.3 403.6,340.6 405.2,341.5 406.8,341.3 408.4,341.0 410.0,341.8 411.6,342.3 413.2,341.5 414.8,341.1 416.4,341.8 418.0,342.0 419.6,341.9 421.2,342.2 422.8,342.4" stroke="#0040ff"/>
<polyline points="50.0,313.8 51.6,313.9 53.2,313.5 54.8,313.2 56.4,313.5 58.0,313.8 59.6,314.8 61.2,316.0 62.8,315.9 64.4,315.3 66.0,315.1 67.6,315.6 69.2,316.0 70.8,315.9 72.4,315.3 74.0,314.5 75.6,313.9 77.2,313.9 78.8,314.3 80.4,314.5 82.0,314.5 83.6,314.3 85.2,314.7 86.8,315.8 88.4,315.3 90.0,314.1 91.6,313.8 93.2,314.2 94.8,313.8 96.4,313.6 98.0,314.5 99.6,315.0 101.2,314.4 102.8,313.4 104.4,312.1 106.0,310.9 107.6,309.7 109.2,309.6 110.8,310.1 112.4,308.9 114.0,306.9 115.6,304.1 117.2,301.6 118.8,299.5 120.4,296.3 122.0,292.7 123.6,287.4 125.2,282.7 126.8,281.2 128.4,279.0 130.0,276.1 131.6,273.7 133.2,270.3 134.8,265.7 136.4,262.7 138.0,263.0 139.6,263.2 141.2,263.2 142.8,264.0 144.4,265.1 146.0,265.8 147.6,266.5 149.2,267.0 150.8,266.2 152.4,266.2 154.0,266.2 155.6,266.9 157.2,268.3 158.8,270.1 160.4,271.2 162.0,272.3 163.6,272.8 165.2,273.4 166.8,274.6 168.4,275.6 170.0,276.2 171.6,276.8 173.2,278.8 174.8,281.2 176.4,282.6 178.0,283.2 179.6,283.9 181.2,284.7 182.8,285.9 184.4,287.6 186.0,289.3 187.6,290.8 189.2,292.2 190.8,293.3 192.4,293.7 194.0,294.8 195.6,296.7 197.2,298.3 198.8,298.7 200.4,299.2 202.0,300.2 203.6,300.1 205.2,299.9 206.8,300.6 208.4,300.6 210.0,299.8 211.6,299.9 213.2,300.7 214.8,300.9 216.4,301.5 218.0,302.0 219.6,302.1 221.2,303.3 222.8,304.5 224.4,305.0 226.0,305.2 227.6,305.3 229.2,304.8 230.8,304.2 232.4,304.5 234.0,304.7 235.6,304.7 237.2,305.2 238.8,305.4 240.4,305.7 242.0,306.0 243.6,306.1 245.2,306.4 246.8,306.9 248.4,307.4 250.0,307.4 251.6,307.0 253.2,307.4 254.8,308.0 256.4,308.2 258.0,307.8 259.6,307.3 261.2,306.9 262.8,307.1 264.4,307.5 266.0,308.1 267.6,308.8 269.2,308.9 270.8,307.6 272.4,306.6 274.0,305.7 275.6,304.4 277.2,303.0 278.8,302.2 280.4,300.9 282.0,300.0 283.6,299.4 285.2,297.8 286.8,295.3 288.4,292.9 290.0,291.2 291.6,290.3 293.2,290.2 294.8,290.2 296.4,289.9 298.0,289.5 299.6,289.1 301.2,288.1 302.8,287.2 304.4,287.1 306.0,286.3 307.6,285.2 309.2,284.9 310.8,284.8 312.4,284.4 314.0,284.8 315.6,285.5 317.2,285.9 318.8,286.3 320.4,286.8 322.0,287.2 323.6,287.9 325.2,288.4 326.8,288.8 328.4,289.0 330.0,289.6 331.6,290.8 333.2,292.3 334.8,293.3 336.4,293.7 338.0,293.6 339.6,293.7 341.2,294.7 342.8,296.4 344.4,298.2 346.0,300.1 347.6,301.4 349.2,301.6 350.8,302.0 352.4,303.0 354.0,303.3 355.6,303.2 357.2,303.8 358.8,303.9 360.4,303.2 362.0,303.4 363.6,304.0 365.2,304.2 366.8,304.1 368.4,304.4 370.0,305.5 371.6,306.0 373.2,305.5 374.8,304.8 376.4,304.7 378.0,305.6 379.6,305.7 381.2,304.9 382.8,304.2 384.4,303.8 386.0,303.5 387.6,303.6 389.2,304.4 390.8,304.8 392.4,304.8 394.0,305.4 395.6,305.9 397.2,306.3 398.8,306.7 400.4,307.0 402.0,307.1 403.6,307.0 405.2,306.6 406.8,305.7 408.4,304.1 410.0,303.4 411.6,304.3 413.2,305.5 414.8,305.8 416.4,305.3 418.0,305.3 419.6,305.7 421.2,306.0 422.8,306.1" stroke="#0060ff"/>
<polyline points="50.0,278.6 51.6,278.1 53.2,277.9 54.8,280.0 56.4,281.9 58.0,281.1 59.6,278.6 61.2,278.6 62.8,281.2 64.4,281.7 66.0,280.7 67.6,281.6 69.2,282.2 70.8,283.4 72.4,283.8 74.0,281.5 75.6,278.2 77.2,274.7 78.8,273.8 80.4,275.7 82.0,276.3 83.6,277.3 85.2,279.7 86.8,279.8 88.4,278.0 90.0,278.7 91.6,279.9 93.2,280.3 94.8,280.4 96.4,279.5 98.0,277.3 99.6,276.9 101.2,279.6 102.8,281.8 104.4,281.9 106.0,281.6 107.6,278.7 109.2,273.6 110.8,271.4 112.4,273.9 114.0,276.4 115.6,277.4 117.2,278.3 118.8,274.5 120.4,268.9 122.0,267.9 123.6,268.7 125.2,266.2 126.8,261.1 128.4,258.1 130.0,255.9 131.6,253.4 133.2,252.6 134.8,250.7 136.4,248.5 138.0,249.1 139.6,250.9 141.2,250.8 142.8,249.5 144.4,248.3 146.0,247.1 147.6,246.2 149.2,246.0 150.8,247.5 152.4,250.2 154.0,251.9 155.6,249.7 157.2,244.6 158.8,243.2 160.4,247.9 162.0,250.6 163.6,249.5 165.2,249.8 166.8,251.9 168.4,254.2 170.0,255.9 171.6,254.6 173.2,251.8 174.8,251.7 176.4,254.7 178.0,256.6 179.6,256.2 181.2,256.2 182.8,258.6 184.4,261.0 186.0,261.1 187.6,261.8 189.2,265.0 190.8,266.6 192.4,265.0 194.0,263.5 195.6,263.8 197.2,266.1 198.8,268.8 200.4,270.5 202.0,271.8 203.6,272.2 205.2,271.5 206.8,270.1 208.4,269.7 210.0,271.4 211.6,272.0 213.2,270.6 214.8,269.0 216.4,269.8 218.0,270.8 219.6,270.7 221.2,271.2 222.8,270.8 224.4,268.7 226.0,267.2 227.6,266.7 229.2,267.5 230.8,269.7 232.4,272.5 234.0,273.9 235.6,272.8 237.2,271.9 238.8,272.1 240.4,273.8 242.0,275.7 243.6,275.3 245.2,272.4 246.8,271.1 248.4,272.0 250.0,271.8 251.6,272.0 253.2,274.6 254.8,276.2 256.4,275.4 258.0,273.2 259.6,273.6 261.2,276.4 262.8,277.7 264.4,275.5 266.0,273.5 267.6,274.0 269.2,274.5 270.8,274.5 272.4,274.7 274.0,273.3 275.6,272.3 277.2,273.2 278.8,273.0 280.4,271.1 282.0,270.0 283.6,269.2 285.2,268.1 286.8,268.1 288.4,268.9 290.0,267.6 291.6,264.1 293.2,261.2 294.8,261.1 296.4,262.0 298.0,260.8 299.6,260.0 301.2,260.3 302.8,259.2 304.4,257.3 306.0,257.4 307.6,259.3 309.2,259.6 310.8,259.0 312.4,257.9 314.0,256.7 315.6,258.0 317.2,260.8 318.8,261.6 320.4,261.9 322.0,262.2 323.6,261.0 325.2,260.5 326.8,260.4 328.4,259.0 330.0,258.6 331.6,260.8 333.2,261.9 334.8,262.0 336.4,264.7 338.0,267.8 339.6,268.0 341.2,266.0 342.8,265.4 344.4,266.2 346.0,267.6 347.6,269.6 349.2,271.3 350.8,271.2 352.4,269.5 354.0,268.0 355.6,268.3 357.2,271.2 358.8,273.4 360.4,272.9 362.0,271.6 363.6,271.6 365.2,270.0 366.8,268.8 368.4,270.4 370.0,273.2 371.6,276.3 373.2,277.2 374.8,276.4 376.4,274.6 378.0,273.7 379.6,273.2 381.2,272.0 382.8,272.5 384.4,274.6 386.0,276.3 387.6,276.4 389.2,273.2 390.8,270.7 392.4,272.0 394.0,273.2 395.6,273.0 397.2,272.0 398.8,272.5 400.4,275.2 402.0,277.1 403.6,275.1 405.2,272.3 406.8,272.1 408.4,273.3 410.0,275.7 411.6,276.8 413.2,274.7 414.8,273.7 416.4,274.6 418.0,274.7 419.6,274.3 421.2,274.3 422.8,274.5" stroke="#0080ff"/>
<polyline points="50.0,240.4 51.6,242.5 53.2,243.7 54.8,243.9 56.4,243.8 58.0,243.5 59.6,242.8 61.2,242.0 62.8,241.8 64.4,242.4 66.0,242.9 67.6,242.9 69.2,242.8 70.8,242.7 72.4,242.8 74.0,243.3 75.6,243.4 77.2,242.3 78.8,241.7 80.4,242.7 82.0,243.4 83.6,243.2 85.2,244.2 86.8,245.3 88.4,244.0 90.0,242.3 91.6,241.3 93.2,240.9 94.8,241.3 96.4,242.6 98.0,243.8 99.6,243.0 101.2,241.3 102.8,240.5 104.4,240.5 106.0,240.1 107.6,239.7 109.2,240.3 110.8,239.8 112.4,237.0 114.0,234.5 115.6,233.5 117.2,232.3 118.8,229.6 120.4,225.2 122.0,220.4 123.6,215.5 125.2,211.2 126.8,209.6 128.4,208.0 130.0,204.2 131.6,199.7 133.2,195.9 134.8,192.7 136.4,191.1 138.0,191.5 139.6,192.3 141.2,193.4 142.8,194.4 144.4,195.4 146.0,196.3 147.6,196.6 149.2,197.0 150.8,196.8 152.4,196.9 154.0,196.8 155.6,196.9 157.2,196.8 158.8,197.7 160.4,199.6 162.0,201.7 163.6,203.3 165.2,204.6 166.8,206.1 168.4,206.8 170.0,206.9 171.6,207.4 173.2,208.2 174.8,209.8 176.4,211.2 178.0,212.3 179.6,213.8 181.2,215.3 182.8,216.6 184.4,217.9 186.0,219.0 187.6,219.6 189.2,220.7 190.8,222.5 192.4,223.3 194.0,223.9 195.6,224.2 197.2,225.1 198.8,227.4 200.4,228.9 202.0,229.3 203.6,228.7 205.2,227.0 206.8,225.7 208.4,226.4 210.0,227.4 211.6,228.6 213.2,229.8 214.8,229.9 216.4,229.8 218.0,230.5 219.6,231.3 221.2,232.3 222.8,233.5 224.4,233.6 226.0,232.9 227.6,233.0 229.2,233.9 230.8,234.2 232.4,234.0 234.0,233.7 235.6,233.5 237.2,233.8 238.8,234.8 240.4,235.9 242.0,236.1 243.6,235.9 245.2,236.1 246.8,235.9 248.4,236.1 250.0,236.0 251.6,235.7 253.2,236.1 254.8,236.6 256.4,236.1 258.0,234.7 259.6,234.4 261.2,235.8 262.8,236.2 264.4,235.5 266.0,235.3 267.6,235.8 269.2,235.8 270.8,234.4 272.4,233.7 274.0,233.4 275.6,233.2 277.2,232.4 278.8,230.6 280.4,228.1 282.0,226.7 283.6,225.8 285.2,224.7 286.8,223.4 288.4,221.9 290.0,220.7 291.6,220.2 293.2,220.1 294.8,219.5 296.4,218.6 298.0,218.0 299.6,217.2 301.2,216.0 302.8,215.4 304.4,214.8 306.0,214.1 307.6,214.0 309.2,213.9 310.8,212.6 312.4,212.5 314.0,213.3 315.6,212.8 317.2,212.3 318.8,213.9 320.4,216.0 322.0,216.4 323.6,216.6 325.2,217.7 326.8,218.2 328.4,217.7 330.0,217.4 331.6,218.2 333.2,219.5 334.8,221.1 336.4,221.9 338.0,222.0 339.6,223.2 341.2,224.8 342.8,225.1 344.4,225.5 346.0,226.6 347.6,227.3 349.2,228.2 350.8,229.4 352.4,230.5 354.0,231.3 355.6,232.0 357.2,232.9 358.8,233.5 360.4,234.1 362.0,233.8 363.6,233.6 365.2,233.2 366.8,231.8 368.4,230.7 370.0,231.5 371.6,232.6 373.2,232.4 374.8,232.4 376.4,233.1 378.0,233.3 379.6,232.7 381.2,232.0 382.8,232.5 384.4,233.7 386.0,234.2 387.6,233.7 389.2,232.6 390.8,232.4 392.4,233.5 394.0,234.2 395.6,234.4 397.2,234.3 398.8,233.8 400.4,234.1 402.0,235.0 403.6,234.7 405.2,233.5 406.8,233.2 408.4,233.7 410.0,234.3 411.6,234.5 413.2,234.4 414.8,235.0 416.4,235.3 418.0,234.6 419.6,234.2 421.2,234.3 422.8,233.9" stroke="#009fff"/>
<polyline points="50.0,208.4 51.6,208.0 53.2,207.5 54.8,207.4 56.4,207.3 58.0,206.9 59.6,206.3 61.2,206.3 62.8,207.2 64.4,207.8 66.0,207.2 67.6,206.7 69.2,207.2 70.8,207.6 72.4,207.5 74.0,207.2 75.6,207.4 77.2,207.8 78.8,207.3 80.4,206.3 82.0,205.7 83.6,205.8 85.2,206.3 86.8,206.9 88.4,207.0 90.0,206.9 91.6,207.3 93.2,207.8 94.8,208.1 96.4,207.7 98.0,207.4 99.6,206.7 101.2,205.7 102.8,205.3 104.4,204.9 106.0,204.2 107.6,203.2 109.2,202.0 110.8,201.8 112.4,200.9 114.0,199.7 115.6,197.9 117.2,195.9 118.8,193.6 120.4,189.8 122.0,185.2 123.6,180.5 125.2,177.1 126.8,176.0 128.4,173.7 130.0,169.3 131.6,165.4 133.2,162.7 134.8,160.2 136.4,159.0 138.0,159.4 139.6,159.5 141.2,160.1 142.8,161.4 144.4,162.3 146.0,162.7 147.6,164.1 149.2,165.5 150.8,164.1 152.4,162.7 154.0,162.7 155.6,164.3 157.2,165.5 158.8,166.4 160.4,167.8 162.0,168.9 163.6,168.6 165.2,168.7 166.8,170.8 168.4,172.6 170.0,172.9 171.6,173.1 173.2,174.2 174.8,176.5 176.4,178.1 178.0,178.3 179.6,178.7 181.2,179.6 182.8,181.5 184.4,184.1 186.0,185.6 187.6,186.0 189.2,186.6 190.8,188.1 192.4,189.5 194.0,190.1 195.6,189.5 197.2,188.8 198.8,188.9 200.4,190.2 202.0,191.6 203.6,193.3 205.2,194.4 206.8,194.9 208.4,195.4 210.0,195.9 211.6,196.1 213.2,196.0 214.8,196.0 216.4,195.9 218.0,196.1 219.6,195.9 221.2,195.7 222.8,196.2 224.4,196.9 226.0,197.4 227.6,197.5 229.2,197.8 230.8,197.9 232.4,197.1 234.0,196.6 235.6,197.5 237.2,199.2 238.8,200.3 240.4,200.0 242.0,199.2 243.6,198.9 245.2,199.3 246.8,199.3 248.4,199.1 250.0,199.3 251.6,199.1 253.2,199.5 254.8,200.4 256.4,200.6 258.0,201.0 259.6,201.8 261.2,202.4 262.8,201.9 264.4,200.8 266.0,200.3 267.6,200.0 269.2,199.9 270.8,199.4 272.4,199.0 274.0,198.9 275.6,198.0 277.2,196.2 278.8,195.2 280.4,194.3 282.0,192.5 283.6,190.2 285.2,188.7 286.8,188.0 288.4,186.2 290.0,184.7 291.6,184.5 293.2,185.0 294.8,185.3 296.4,184.3 298.0,183.9 299.6,183.8 301.2,182.1 302.8,180.4 304.4,179.4 306.0,179.3 307.6,179.9 309.2,180.1 310.8,179.6 312.4,178.6 314.0,178.6 315.6,179.3 317.2,179.6 318.8,179.5 320.4,179.4 322.0,179.1 323.6,180.3 325.2,182.8 326.8,184.6 328.4,185.5 330.0,185.7 331.6,185.8 333.2,186.7 334.8,187.4 336.4,187.4 338.0,187.6 339.6,188.6 341.2,189.3 342.8,189.5 344.4,190.0 346.0,190.8 347.6,191.9 349.2,193.3 350.8,194.1 352.4,194.3 354.0,194.3 355.6,195.0 357.2,196.1 358.8,196.7 360.4,197.3 362.0,197.3 363.6,197.6 365.2,198.6 366.8,199.0 368.4,198.5 370.0,198.2 371.6,198.1 373.2,198.2 374.8,198.5 376.4,198.4 378.0,198.6 379.6,199.2 381.2,199.3 382.8,200.1 384.4,200.6 386.0,199.7 387.6,198.5 389.2,197.8 390.8,197.4 392.4,196.6 394.0,196.1 395.6,196.3 397.2,196.8 398.8,197.7 400.4,198.2 402.0,197.8 403.6,197.6 405.2,198.2 406.8,199.2 408.4,199.6 410.0,198.9 411.6,199.0 413.2,199.5 414.8,199.0 416.4,198.5 418.0,198.4 419.6,198.3 421.2,198.9 422.8,199.9" stroke="#00bfff"/>
<polyline points="50.0,171.6 51.6,171.9 53.2,173.2 54.8,174.7 56.4,174.3 58.0,173.8 59.6,174.2 61.2,174.6 62.8,173.5 64.4,170.0 66.0,167.9 67.6,168.8 69.2,172.8 70.8,175.0 72.4,175.1 74.0,175.3 75.6,174.5 77.2,173.9 78.8,173.2 80.4,171.6 82.0,169.4 83.6,167.8 85.2,169.8 86.8,172.4 88.4,172.9 90.0,173.9 91.6,174.6 93.2,175.0 94.8,173.4 96.4,171.2 98.0,172.3 99.6,173.8 101.2,173.3 102.8,171.3 104.4,170.2 106.0,172.5 107.6,173.2 109.2,172.3 110.8,172.2 112.4,169.8 114.0,166.7 115.6,166.8 117.2,168.2 118.8,167.9 120.4,166.1 122.0,162.5 123.6,156.3 125.2,150.7 126.8,149.0 128.4,149.4 130.0,147.7 131.6,145.2 133.2,144.1 134.8,141.4 136.4,140.4 138.0,141.2 139.6,140.9 141.2,140.7 142.8,142.3 144.4,142.4 146.0,140.9 147.6,140.1 149.2,139.3 150.8,137.2 152.4,137.0 154.0,138.2 155.6,139.5 157.2,140.5 158.8,139.7 160.4,137.6 162.0,137.6 163.6,138.5 165.2,139.6 166.8,141.3 168.4,142.3 170.0,144.0 171.6,145.7 173.2,146.7 174.8,148.2 176.4,148.6 178.0,148.8 179.6,147.7 181.2,147.0 182.8,149.4 184.4,152.8 186.0,154.8 187.6,156.9 189.2,159.1 190.8,159.4 192.4,158.0 194.0,158.5 195.6,160.6 197.2,159.9 198.8,158.7 200.4,159.7 202.0,160.7 203.6,160.8 205.2,161.1 206.8,159.9 208.4,160.5 210.0,163.7 211.6,163.7 213.2,162.5 214.8,163.6 216.4,165.6 218.0,166.9 219.6,167.0 221.2,165.2 222.8,164.6 224.4,166.4 226.0,167.7 227.6,167.0 229.2,165.7 230.8,165.3 232.4,165.7 234.0,167.6 235.6,171.0 237.2,171.4 238.8,166.8 240.4,165.0 242.0,167.7 243.6,168.1 245.2,165.4 246.8,163.1 248.4,162.4 250.0,162.8 251.6,164.2 253.2,165.0 254.8,165.4 256.4,165.2 258.0,163.6 259.6,163.0 261.2,163.9 262.8,165.1 264.4,166.1 266.0,167.9 267.6,170.2 269.2,172.4 270.8,170.4 272.4,166.5 274.0,165.5 275.6,165.9 277.2,164.9 278.8,161.4 280.4,159.9 282.0,160.2 283.6,159.3 285.2,157.5 286.8,156.5 288.4,158.4 290.0,160.3 291.6,158.0 293.2,154.5 294.8,154.0 296.4,154.6 298.0,153.7 299.6,153.3 301.2,154.5 302.8,156.6 304.4,155.6 306.0,152.7 307.6,150.9 309.2,148.6 310.8,147.1 312.4,148.6 314.0,151.0 315.6,152.7 317.2,153.8 318.8,155.0 320.4,157.3 322.0,156.6 323.6,152.8 325.2,150.9 326.8,150.8 328.4,151.7 330.0,152.5 331.6,152.7 333.2,154.3 334.8,156.2 336.4,156.6 338.0,157.2 339.6,155.5 341.2,153.3 342.8,154.4 344.4,156.2 346.0,158.2 347.6,159.4 349.2,160.2 350.8,161.8 352.4,164.2 354.0,165.1 355.6,165.5 357.2,166.9 358.8,166.4 360.4,165.0 362.0,166.1 363.6,167.8 365.2,167.6 366.8,166.1 368.4,165.2 370.0,164.5 371.6,163.0 373.2,162.5 374.8,166.0 376.4,168.8 378.0,167.4 379.6,166.0 381.2,166.8 382.8,167.3 384.4,165.5 386.0,165.3 387.6,167.3 389.2,168.3 390.8,166.4 392.4,164.3 394.0,164.0 395.6,166.5 397.2,168.4 398.8,168.1 400.4,167.6 402.0,167.4 403.6,167.9 405.2,167.6 406.8,166.9 408.4,167.1 410.0,168.0 411.6,168.4 413.2,167.9 414.8,167.4 416.4,167.4 418.0,169.2 419.6,170.5 421.2,167.3 422.8,163.7" stroke="#00dfff"/>
<polyline points="50.0,133.3 51.6,133.4 53.2,134.3 54.8,134.6 56.4,134.7 58.0,135.4 59.6,136.3 61.2,136.5 62.8,136.2 64.4,135.8 66.0,135.2 67.6,134.7 69.2,134.0 70.8,134.4 72.4,135.4 74.0,135.2 75.6,134.8 77.2,134.3 78.8,134.5 80.4,134.9 82.0,135.2 83.6,135.5 85.2,135.2 86.8,134.9 88.4,135.0 90.0,135.2 91.6,135.3 93.2,135.2 94.8,135.0 96.4,134.1 98.0,133.3 99.6,132.7 101.2,131.6 102.8,130.3 104.4,130.7 106.0,131.3 107.6,130.7 109.2,129.5 110.8,128.9 112.4,127.5 114.0,126.0 115.6,124.1 117.2,121.7 118.8,119.4 120.4,116.1 122.0,112.5 123.6,108.3 125.2,104.8 126.8,103.5 128.4,102.0 130.0,99.2 131.6,95.0 133.2,91.2 134.8,87.8 136.4,84.9 138.0,85.0 139.6,85.7 141.2,85.9 142.8,86.0 144.4,87.2 146.0,89.4 147.6,91.7 149.2,93.0 150.8,91.6 152.4,89.9 154.0,88.8 155.6,89.7 157.2,90.9 158.8,92.9 160.4,94.6 162.0,95.2 163.6,96.0 165.2,98.0 166.8,98.8 168.4,98.9 170.0,99.0 171.6,98.8 173.2,99.9 174.8,102.1 176.4,104.1 178.0,105.1 179.6,106.5 181.2,108.0 182.8,109.4 184.4,110.6 186.0,111.1 187.6,111.6 189.2,113.5 190.8,116.6 192.4,117.9 194.0,117.3 195.6,117.2 197.2,118.5 198.8,119.4 200.4,119.8 202.0,120.4 203.6,121.0 205.2,122.2 206.8,123.0 208.4,123.4 210.0,123.9 211.6,123.6 213.2,123.6 214.8,124.1 216.4,124.0 218.0,124.0 219.6,124.1 221.2,124.6 222.8,125.6 224.4,126.7 226.0,127.5 227.6,127.3 229.2,126.1 230.8,124.8 232.4,125.3 234.0,126.4 235.6,126.4 237.2,126.4 238.8,126.7 240.4,126.5 242.0,126.6 243.6,127.5 245.2,127.9 246.8,128.1 248.4,128.4 250.0,128.3 251.6,128.4 253.2,128.9 254.8,128.7 256.4,127.7 258.0,127.1 259.6,127.5 261.2,128.0 262.8,127.5 264.4,127.1 266.0,126.8 267.6,126.5 269.2,127.0 270.8,126.9 272.4,126.2 274.0,124.6 275.6,122.5 277.2,122.4 278.8,123.1 280.4,121.8 282.0,119.7 283.6,117.7 285.2,116.6 286.8,115.6 288.4,114.1 290.0,113.1 291.6,112.8 293.2,112.5 294.8,111.9 296.4,111.5 298.0,111.4 299.6,110.8 301.2,110.0 302.8,109.2 304.4,108.8 306.0,108.8 307.6,108.5 309.2,107.4 310.8,106.3 312.4,105.6 314.0,105.8 315.6,106.9 317.2,108.1 318.8,108.5 320.4,109.1 322.0,109.6 323.6,109.5 325.2,109.1 326.8,108.9 328.4,109.4 330.0,111.1 331.6,112.8 333.2,113.3 334.8,112.7 336.4,112.7 338.0,114.4 339.6,116.0 341.2,116.8 342.8,117.5 344.4,119.0 346.0,121.2 347.6,122.6 349.2,122.1 350.8,121.4 352.4,122.7 354.0,124.7 355.6,125.3 357.2,125.0 358.8,124.2 360.4,125.1 362.0,126.1 363.6,125.9 365.2,125.8 366.8,125.6 368.4,125.9 370.0,126.3 371.6,126.1 373.2,125.7 374.8,125.1 376.4,125.5 378.0,126.8 379.6,126.6 381.2,124.7 382.8,124.3 384.4,125.0 386.0,124.8 387.6,125.1 389.2,125.9 390.8,126.0 392.4,125.5 394.0,125.1 395.6,125.9 397.2,126.3 398.8,125.0 400.4,125.2 402.0,126.8 403.6,127.5 405.2,127.3 406.8,126.7 408.4,126.2 410.0,126.5 411.6,127.2 413.2,127.1 414.8,126.3 416.4,125.5 418.0,125.2 419.6,126.0 421.2,126.4 422.8,126.8" stroke="#00ffff"/>
<polyline points="50.0,98.0 51.6,97.5 53.2,97.7 54.8,98.7 56.4,100.0 58.0,100.6 59.6,100.3 61.2,100.1 62.8,100.3 64.4,100.5 66.0,100.3 67.6,99.8 69.2,100.1 70.8,100.2 72.4,100.1 74.0,100.0 75.6,99.3 77.2,99.0 78.8,99.8 80.4,100.6 82.0,100.8 83.6,100.4 85.2,99.4 86.8,99.2 88.4,99.7 90.0,99.5 91.6,98.4 93.2,98.2 94.8,99.0 96.4,99.6 98.0,99.3 99.6,97.7 101.2,96.1 102.8,95.2 104.4,95.4 106.0,95.7 107.6,95.2 109.2,94.5 110.8,94.0 112.4,91.8 114.0,89.8 115.6,88.3 117.2,86.1 118.8,82.8 120.4,78.6 122.0,75.0 123.6,70.6 125.2,66.6 126.8,66.2 128.4,65.9 130.0,63.2 131.6,59.1 133.2,55.1 134.8,51.9 136.4,50.2 138.0,51.1 139.6,51.4 141.2,51.0 142.8,51.2 144.4,52.6 146.0,53.8 147.6,54.5 149.2,55.5 150.8,55.4 152.4,54.7 154.0,53.7 155.6,54.9 157.2,56.3 158.8,57.3 160.4,58.0 162.0,59.0 163.6,60.2 165.2,61.1 166.8,62.3 168.4,63.5 170.0,64.1 171.6,65.0 173.2,66.2 174.8,67.0 176.4,68.6 178.0,69.9 179.6,70.8 181.2,71.5 182.8,72.8 184.4,74.2 186.0,75.3 187.6,76.3 189.2,77.1 190.8,78.6 192.4,81.0 194.0,83.3 195.6,83.9 197.2,83.9 198.8,83.8 200.4,84.4 202.0,85.5 203.6,86.1 205.2,86.3 206.8,87.0 208.4,87.6 210.0,87.1 211.6,87.0 213.2,87.3 214.8,87.9 216.4,88.5 218.0,88.2 219.6,87.5 221.2,87.6 222.8,88.4 224.4,89.4 226.0,89.5 227.6,89.1 229.2,89.6 230.8,91.1 232.4,92.3 234.0,92.5 235.6,91.9 237.2,90.9 238.8,90.9 240.4,91.3 242.0,90.7 243.6,89.7 245.2,90.4 246.8,92.1 248.4,92.9 250.0,93.5 251.6,93.3 253.2,91.6 254.8,90.0 256.4,90.2 258.0,91.4 259.6,92.0 261.2,91.8 262.8,92.1 264.4,93.1 266.0,93.0 267.6,90.9 269.2,89.5 270.8,88.7 272.4,88.2 274.0,87.8 275.6,87.5 277.2,86.5 278.8,85.2 280.4,84.2 282.0,83.5 283.6,82.5 285.2,81.8 286.8,80.6 288.4,78.1 290.0,76.4 291.6,76.3 293.2,76.4 294.8,75.6 296.4,75.1 298.0,75.7 299.6,75.5 301.2,73.7 302.8,72.4 304.4,72.6 306.0,73.2 307.6,72.5 309.2,70.5 310.8,69.3 312.4,69.0 314.0,69.7 315.6,70.6 317.2,71.6 318.8,72.6 320.4,73.2 322.0,73.5 323.6,73.6 325.2,73.7 326.8,74.3 328.4,75.0 330.0,75.5 331.6,76.5 333.2,76.8 334.8,76.8 336.4,78.1 338.0,79.7 339.6,79.7 341.2,79.7 342.8,81.3 344.4,83.7 346.0,84.6 347.6,84.8 349.2,84.9 350.8,85.2 352.4,85.8 354.0,86.3 355.6,87.6 357.2,89.4 358.8,90.3 360.4,90.3 362.0,89.7 363.6,89.2 365.2,89.3 366.8,90.1 368.4,91.6 370.0,92.3 371.6,91.0 373.2,90.0 374.8,90.0 376.4,90.0 378.0,89.0 379.6,88.5 381.2,89.4 382.8,90.3 384.4,89.9 386.0,89.0 387.6,89.0 389.2,88.9 390.8,88.7 392.4,89.2 394.0,89.8 395.6,89.5 397.2,89.2 398.8,89.3 400.4,89.7 402.0,90.4 403.6,90.8 405.2,90.7 406.8,90.5 408.4,90.7 410.0,91.0 411.6,91.4 413.2,91.4 414.8,91.2 416.4,91.1 418.0,91.0 419.6,91.3 421.2,91.9 422.8,92.1" stroke="#20ffdf"/>
<polyline points="50.0,63.9 51.6,63.5 53.2,63.0 54.8,62.8 56.4,62.7 58.0,62.5 59.6,62.4 61.2,62.2 62.8,62.1 64.4,62.3 66.0,62.5 67.6,62.7 69.2,63.1 70.8,63.2 72.4,62.6 74.0,62.3 75.6,62.6 77.2,62.8 78.8,63.3 80.4,63.8 82.0,63.2 83.6,62.9 85.2,63.9 86.8,64.5 88.4,63.8 90.0,62.6 91.6,61.7 93.2,61.9 94.8,62.4 96.4,62.6 98.0,62.4 99.6,62.1 101.2,61.7 102.8,60.9 104.4,59.8 106.0,58.9 107.6,58.8 109.2,58.6 110.8,58.2 112.4,56.0 114.0,53.4 115.6,51.4 117.2,49.2 118.8,47.1 120.4,42.4 122.0,38.0 123.6,35.2 125.2,31.5 126.8,29.4 128.4,28.5 130.0,26.4 131.6,22.9 133.2,19.1 134.8,14.8 136.4,11.7 138.0,12.4 139.6,12.6 141.2,12.2 142.8,13.1 144.4,15.6 146.0,17.9 147.6,19.8 149.2,21.3 150.8,20.8 152.4,20.7 154.0,20.9 155.6,22.1 157.2,22.2 158.8,22.1 160.4,22.7 162.0,24.4 163.6,25.4 165.2,25.9 166.8,26.8 168.4,28.1 170.0,28.8 171.6,29.2 173.2,30.9 174.8,32.8 176.4,33.9 178.0,33.9 179.6,34.4 181.2,35.3 182.8,36.9 184.4,38.3 186.0,39.3 187.6,41.2 189.2,43.3 190.8,44.6 192.4,45.4 194.0,46.5 195.6,47.3 197.2,48.0 198.8,49.1 200.4,49.8 202.0,49.4 203.6,49.4 205.2,50.0 206.8,49.4 208.4,48.9 210.0,49.7 211.6,50.5 213.2,50.8 214.8,51.8 216.4,52.6 218.0,52.8 219.6,52.6 221.2,52.3 222.8,52.7 224.4,53.6 226.0,53.9 227.6,54.1 229.2,54.4 230.8,54.8 232.4,55.3 234.0,55.5 235.6,55.5 237.2,55.5 238.8,55.4 240.4,55.7 242.0,56.3 243.6,56.5 245.2,56.4 246.8,56.2 248.4,56.1 250.0,56.4 251.6,56.1 253.2,55.1 254.8,54.8 256.4,55.1 258.0,55.2 259.6,55.5 261.2,55.8 262.8,54.9 264.4,53.8 266.0,53.9 267.6,54.1 269.2,54.0 270.8,52.7 272.4,51.3 274.0,50.8 275.6,50.3 277.2,49.5 278.8,48.9 280.4,47.6 282.0,46.8 283.6,45.8 285.2,44.0 286.8,41.8 288.4,40.6 290.0,40.2 291.6,39.9 293.2,40.1 294.8,40.2 296.4,39.9 298.0,39.2 299.6,38.4 301.2,37.6 302.8,37.3 304.4,37.1 306.0,36.6 307.6,35.8 309.2,34.8 310.8,33.6 312.4,33.0 314.0,33.9 315.6,35.3 317.2,36.0 318.8,36.8 320.4,37.2 322.0,37.8 323.6,38.8 325.2,39.6 326.8,39.3 328.4,38.9 330.0,39.8 331.6,40.6 333.2,40.7 334.8,41.1 336.4,42.3 338.0,44.0 339.6,44.1 341.2,43.4 342.8,44.8 344.4,46.5 346.0,47.2 347.6,48.1 349.2,49.4 350.8,50.0 352.4,50.3 354.0,50.7 355.6,51.8 357.2,53.4 358.8,55.0 360.4,55.7 362.0,55.2 363.6,54.9 365.2,54.2 366.8,53.2 368.4,53.3 370.0,53.4 371.6,53.4 373.2,53.3 374.8,53.4 376.4,53.3 378.0,53.1 379.6,53.8 381.2,54.6 382.8,54.4 384.4,54.0 386.0,54.0 387.6,53.2 389.2,52.4 390.8,52.4 392.4,53.4 394.0,54.4 395.6,55.2 397.2,55.0 398.8,54.3 400.4,54.1 402.0,54.3 403.6,54.8 405.2,55.1 406.8,54.9 408.4,54.3 410.0,53.8 411.6,53.5 413.2,53.4 414.8,54.3 416.4,55.7 418.0,56.0 419.6,55.6 421.2,55.1 422.8,54.4" stroke="#40ffbf"/>
</g>
<path d="M49.5,0 V1123.5 H425" fill="none" stroke="#262626" stroke-width="3"/>
<path d="M122.9,1110.5 V1123 M269.4,1110.5 V1123 M415.7,1110.5 V1123" stroke="#262626" stroke-width="3"/>
<path d="M428.6,50.2 C434.6,56.2 439.8,63.7 439.8,80.2 L439.8,240.4 C439.8,261.1 449.0,276.3 458.0,286.4 C449.0,296.5 439.8,311.7 439.8,332.4 L439.8,492.6 C439.8,509.1 434.6,516.6 428.6,522.6" fill="none" stroke="#0000ff" stroke-width="3.9"/>
<path d="M429.3,556.4 C435.3,561.2 439.5,567.2 439.5,580.4 L439.5,611.0 C439.5,627.2 449.7,639.1 458.7,647.0 C449.7,654.9 439.5,666.8 439.5,683.0 L439.5,713.6 C439.5,726.8 435.3,732.8 429.3,737.6" fill="none" stroke="#e8202a" stroke-width="3.9"/>
<path d="M429.5,772.1 C435.5,778.1 440.5,785.6 440.5,802.1 L440.5,888.7 C440.5,909.4 449.9,924.6 458.9,934.7 C449.9,944.8 440.5,960.0 440.5,980.7 L440.5,1067.3 C440.5,1083.8 435.5,1091.3 429.5,1097.3" fill="none" stroke="#0000ff" stroke-width="3.9"/>
<text transform="translate(466.2,286.5) rotate(90)" font-size="30.5" text-anchor="middle" fill="#000">Nonpolar</text>
<text transform="translate(466.3,647.8) rotate(90)" font-size="30" text-anchor="middle" fill="#000">Polar</text>
<text transform="translate(465.5,936.2) rotate(90)" font-size="30.5" text-anchor="middle" fill="#000">Nonpolar</text>
<text x="0" y="32" font-size="30" font-weight="bold" fill="#000">(a)</text>
</g>
<g id="pb">
<svg x="519" y="1.5" width="544" height="543.5" viewBox="519 1.5 544 543.5" overflow="hidden">
<rect x="519" y="1.5" width="544" height="543.5" fill="#909090"/>
<rect x="519" y="1.5" width="544" height="543.5" fill="url(#latt)"/>
<rect x="519" y="1.5" width="544" height="543.5" filter="url(#nzb)"/>
<rect x="519" y="1.5" width="544" height="543.5" filter="url(#nzb2)"/>
<rect x="519" y="1.2" width="544" height="46" fill="url(#bandg)" opacity="0.90"/>
<rect x="519" y="53.2" width="544" height="46" fill="url(#bandg)" opacity="0.90"/>
<rect x="519" y="105.3" width="544" height="46" fill="url(#bandg)" opacity="0.88"/>
<rect x="519" y="156.4" width="544" height="46" fill="url(#bandg)" opacity="0.88"/>
<rect x="519" y="208.8" width="544" height="46" fill="url(#bandg)" opacity="0.88"/>
<rect x="519" y="258.0" width="544" height="46" fill="url(#bandg)" opacity="0.50"/>
<rect x="519" y="311.8" width="544" height="46" fill="url(#bandg)" opacity="0.82"/>
<rect x="519" y="360.5" width="544" height="46" fill="url(#bandg)" opacity="0.72"/>
<rect x="519" y="415.0" width="544" height="46" fill="url(#bandg)" opacity="0.90"/>
<rect x="519" y="467.0" width="544" height="46" fill="url(#bandg)" opacity="0.85"/>
<rect x="519" y="516.5" width="544" height="46" fill="url(#bandg)" opacity="0.85"/>
</svg>
<circle cx="619.1" cy="404.7" r="3.1" fill="#60ff9f"/>
<circle cx="626.9" cy="395.7" r="3.1" fill="#80ff80"/>
<circle cx="634.8" cy="386.8" r="3.1" fill="#9fff60"/>
<circle cx="642.6" cy="377.8" r="3.1" fill="#bfff40"/>
<circle cx="650.4" cy="368.8" r="3.1" fill="#dfff20"/>
<circle cx="658.3" cy="359.8" r="3.1" fill="#ffff00"/>
<circle cx="666.1" cy="350.9" r="3.1" fill="#ffdf00"/>
<circle cx="673.9" cy="341.9" r="3.1" fill="#ffbf00"/>
<circle cx="681.8" cy="332.9" r="3.1" fill="#ff9f00"/>
<circle cx="689.6" cy="324.0" r="3.1" fill="#ff8000"/>
<circle cx="697.4" cy="315.0" r="3.1" fill="#ff6000"/>
<circle cx="705.3" cy="306.0" r="3.1" fill="#ff4000"/>
<circle cx="713.1" cy="297.1" r="3.1" fill="#ff2000"/>
<circle cx="720.9" cy="288.1" r="3.1" fill="#ff0000"/>
<circle cx="728.8" cy="279.1" r="3.1" fill="#df0000"/>
<circle cx="736.6" cy="270.1" r="3.1" fill="#bf0000"/>
<circle cx="744.4" cy="261.2" r="3.1" fill="#00009f"/>
<circle cx="752.3" cy="252.2" r="3.1" fill="#0000bf"/>
<circle cx="760.1" cy="243.2" r="3.1" fill="#0000df"/>
<circle cx="767.9" cy="234.3" r="3.1" fill="#0000ff"/>
<circle cx="775.8" cy="225.3" r="3.1" fill="#0020ff"/>
<circle cx="783.6" cy="216.3" r="3.1" fill="#0040ff"/>
<circle cx="791.4" cy="207.4" r="3.1" fill="#0060ff"/>
<circle cx="799.3" cy="198.4" r="3.1" fill="#0080ff"/>
<circle cx="807.1" cy="189.4" r="3.1" fill="#009fff"/>
<circle cx="815.0" cy="180.4" r="3.1" fill="#00bfff"/>
<circle cx="822.8" cy="171.5" r="3.1" fill="#00dfff"/>
<circle cx="830.6" cy="162.5" r="3.1" fill="#00ffff"/>
<circle cx="838.5" cy="153.5" r="3.1" fill="#20ffdf"/>
<circle cx="846.3" cy="144.6" r="3.1" fill="#40ffbf"/>
<g fill="none" stroke-width="3.9" stroke-linecap="butt">
<path d="M614.7,402.7 C614.2,401.8 612.0,398.9 611.4,397.0 C610.8,395.1 610.3,393.4 610.9,391.3 C611.5,389.2 613.2,386.7 615.2,384.6 C617.2,382.5 620.3,380.8 622.8,378.9 C625.3,377.0 628.3,375.3 630.4,373.2 C632.5,371.1 634.2,368.9 635.2,366.5 C636.2,364.1 636.6,361.3 636.6,358.9 C636.6,356.5 635.8,354.1 635.2,352.3 C634.6,350.5 634.1,349.8 632.8,348.0 C631.5,346.2 628.5,342.8 627.6,341.8" stroke="#0a0aef"/>
<path d="M627.6,341.8 C628.7,342.8 631.8,346.4 634.2,347.5 C636.6,348.6 638.9,348.8 641.8,348.5 C644.6,348.2 648.4,347.0 651.3,345.6 C654.2,344.2 656.5,342.9 659.0,340.0 C661.5,337.1 664.3,331.7 666.5,328.5 C668.7,325.3 670.1,322.7 672.2,320.9 C674.3,319.1 676.7,317.8 678.9,317.6 C681.1,317.5 684.5,319.6 685.6,320.0" stroke="#0a0aef"/>
<path d="M740.1,254.9 C739.5,253.5 736.8,249.4 736.6,246.6 C736.4,243.8 737.0,241.1 738.7,238.3 C740.4,235.5 743.3,233.2 747.0,230.0 C750.7,226.8 757.0,222.6 760.9,218.9 C764.8,215.2 768.2,211.8 770.5,207.9 C772.8,204.0 774.2,199.1 774.7,195.4 C775.2,191.7 774.1,188.3 773.3,185.7 C772.5,183.0 770.4,180.5 769.8,179.5" stroke="#0a0aef"/>
<path d="M769.8,179.5 C771.1,180.1 774.3,182.7 777.4,183.0 C780.5,183.3 784.8,183.0 788.5,181.6 C792.2,180.2 796.1,177.5 799.6,174.7 C803.1,171.9 806.1,168.7 809.3,165.0 C812.5,161.3 815.9,156.3 818.9,152.6 C821.9,148.9 824.4,145.1 827.2,142.9 C830.0,140.7 833.2,139.8 835.5,139.4 C837.8,139.1 840.1,140.6 841.0,140.8" stroke="#0a0aef"/>
<path d="M705.0,322.1 C706.1,322.4 709.8,324.1 711.8,323.8 C713.8,323.5 715.3,322.4 717.0,320.5 C718.7,318.6 720.2,314.3 722.1,312.2 C724.0,310.1 726.3,308.6 728.4,307.6 C730.5,306.7 732.7,306.2 734.6,306.5 C736.5,306.8 738.5,308.4 739.8,309.6 C741.1,310.8 742.0,313.1 742.4,313.8" stroke="#ff0a0a"/>
<path d="M742.4,313.8 C740.9,311.8 734.9,305.3 733.6,301.9 C732.3,298.5 733.6,295.9 734.6,293.6 C735.6,291.4 737.7,290.1 739.8,288.4 C741.9,286.7 745.5,284.8 747.0,283.2 C748.5,281.6 749.2,280.3 749.1,279.0 C749.0,277.7 746.9,276.0 746.5,275.4" stroke="#ff0a0a"/>
</g>
<g fill="#fff" font-weight="bold" font-size="30.5">
<text transform="translate(581,388) rotate(-49.4)">Nonpolar</text>
<text transform="translate(723.5,223.4) rotate(-49.4)">Nonpolar</text>
<text transform="translate(733.7,359.2) rotate(-49.4)">polar</text>
</g>
<text x="943" y="506" font-size="35.5" font-weight="bold" fill="#fff">2 nm</text>
<rect x="936" y="517.5" width="96" height="5.5" fill="#fff"/>
<text x="524.5" y="34.5" font-size="31" font-weight="bold" fill="#fff">(b)</text>
</g>
<g id="pc">
<g fill="none" stroke-width="2.7" stroke-linejoin="round">
<polyline points="1191.7,224.2 1192.7,224.8 1193.7,226.0 1194.7,224.7 1195.7,221.4 1196.7,220.4 1197.7,220.8 1198.7,223.1 1199.7,224.8 1200.7,225.3 1201.7,225.1 1202.7,223.7 1203.7,222.5 1204.7,223.4 1205.7,224.0 1206.7,222.4 1207.7,220.3 1208.7,219.7 1209.7,220.4 1210.7,219.1 1211.7,217.3 1212.7,216.6 1213.7,216.7 1214.7,218.6 1215.7,221.1 1216.7,222.3 1217.7,222.4 1218.7,220.5 1219.7,217.9 1220.7,218.6 1221.7,220.7 1222.7,218.9 1223.7,213.2 1224.7,210.5 1225.7,211.2 1226.7,210.6 1227.7,209.5 1228.7,208.7 1229.7,206.2 1230.7,204.3 1231.7,206.0 1232.7,208.0 1233.7,208.9 1234.7,208.3 1235.7,206.0 1236.7,203.0 1237.7,200.0 1238.7,198.4 1239.7,200.0 1240.7,202.7 1241.7,203.7 1242.7,202.0 1243.7,196.4 1244.7,192.1 1245.7,192.0 1246.7,190.1 1247.7,184.8 1248.7,181.5 1249.7,181.6 1250.7,180.4 1251.7,176.7 1252.7,173.6 1253.7,170.7 1254.7,167.9 1255.7,166.6 1256.7,166.2 1257.7,164.1 1258.7,160.3 1259.7,158.5 1260.7,159.3 1261.7,157.4 1262.7,153.5 1263.7,149.6 1264.7,145.0 1265.7,139.7 1266.7,135.7 1267.7,132.2 1268.7,127.3 1269.7,120.7 1270.7,116.0 1271.7,114.0 1272.7,110.9 1273.7,105.0 1274.7,100.8 1275.7,98.2 1276.7,96.1 1277.7,91.4 1278.7,83.5 1279.7,73.8 1280.7,63.5 1281.7,52.3 1282.7,40.6 1283.7,28.9 1284.7,18.8 1285.7,12.1 1286.7,9.1 1287.7,9.3 1288.7,10.2 1289.7,12.3 1290.7,14.7 1291.7,17.0 1292.7,22.7 1293.7,28.4 1294.7,31.7 1295.7,35.4 1296.7,41.5 1297.7,47.5 1298.7,51.0 1299.7,53.9 1300.7,58.7 1301.7,64.9 1302.7,70.4 1303.7,73.6 1304.7,75.5 1305.7,78.3 1306.7,82.1 1307.7,85.7 1308.7,89.5 1309.7,93.5 1310.7,95.0 1311.7,96.0 1312.7,96.8 1313.7,96.6 1314.7,95.3 1315.7,95.3 1316.7,97.8 1317.7,99.2 1318.7,99.6 1319.7,100.1 1320.7,99.9 1321.7,100.2 1322.7,101.0 1323.7,100.2 1324.7,100.3 1325.7,99.5 1326.7,96.2 1327.7,93.7 1328.7,93.1 1329.7,93.1 1330.7,91.6 1331.7,91.7 1332.7,94.7 1333.7,96.2 1334.7,96.4 1335.7,98.8 1336.7,102.5 1337.7,106.0 1338.7,105.6 1339.7,103.1 1340.7,103.0 1341.7,105.7 1342.7,109.9 1343.7,114.3 1344.7,117.6 1345.7,118.5 1346.7,118.9 1347.7,122.6 1348.7,128.3 1349.7,130.9 1350.7,130.9 1351.7,131.2 1352.7,131.8 1353.7,131.3 1354.7,131.0 1355.7,132.4 1356.7,132.4 1357.7,130.7 1358.7,129.8 1359.7,132.5 1360.7,134.0 1361.7,133.4 1362.7,135.2 1363.7,135.3 1364.7,132.7 1365.7,132.6 1366.7,136.1 1367.7,138.6 1368.7,139.9 1369.7,140.3 1370.7,142.0 1371.7,144.6 1372.7,146.4 1373.7,147.6 1374.7,147.0 1375.7,147.2 1376.7,149.4 1377.7,151.2 1378.7,150.2 1379.7,151.0 1380.7,154.7 1381.7,158.4 1382.7,161.7 1383.7,162.3 1384.7,160.2 1385.7,157.0 1386.7,153.9 1387.7,153.5 1388.7,154.5 1389.7,153.8 1390.7,151.9 1391.7,151.4 1392.7,153.0 1393.7,155.1 1394.7,154.7 1395.7,152.7 1396.7,151.6 1397.7,151.9 1398.7,152.5 1399.7,154.2 1400.7,157.5 1401.7,162.9 1402.7,166.7 1403.7,167.5 1404.7,168.0 1405.7,169.8 1406.7,170.9 1407.7,168.5 1408.7,165.6 1409.7,166.6 1410.7,170.6 1411.7,173.4 1412.7,174.2 1413.7,173.7 1414.7,171.5 1415.7,169.1 1416.7,168.3 1417.7,168.7 1418.7,170.0 1419.7,171.5 1420.7,173.1 1421.7,173.1 1422.7,173.2 1423.7,176.0 1424.7,176.9 1425.7,175.9 1426.7,177.2 1427.7,178.9 1428.7,179.6 1429.7,180.5 1430.7,181.5 1431.7,182.0 1432.7,181.4 1433.7,181.2 1434.7,182.4 1435.7,183.1 1436.7,182.2 1437.7,180.6 1438.7,179.9 1439.7,180.5 1440.7,181.7 1441.7,183.3 1442.7,184.2 1443.7,184.4 1444.7,185.2 1445.7,187.3 1446.7,189.6 1447.7,189.2 1448.7,187.3 1449.7,186.7 1450.7,186.7 1451.7,186.6 1452.7,186.2 1453.7,184.8 1454.7,182.9 1455.7,183.6 1456.7,187.9 1457.7,190.7 1458.7,190.4 1459.7,190.5 1460.7,190.7 1461.7,190.4 1462.7,189.8 1463.7,189.6 1464.7,188.5 1465.7,187.6 1466.7,189.1 1467.7,189.1 1468.7,188.6 1469.7,191.1 1470.7,193.1 1471.7,193.7 1472.7,193.3 1473.7,191.8 1474.7,190.7 1475.7,191.8 1476.7,195.2 1477.7,199.3 1478.7,199.2 1479.7,195.8 1480.7,194.7 1481.7,196.1 1482.7,196.5 1483.7,195.7 1484.7,197.4 1485.7,201.1 1486.7,200.4 1487.7,196.1 1488.7,194.7 1489.7,197.3 1490.7,200.8 1491.7,202.2 1492.7,200.7 1493.7,199.9 1494.7,201.9 1495.7,203.6 1496.7,203.2 1497.7,202.8 1498.7,203.3 1499.7,202.4 1500.7,201.2 1501.7,201.2 1502.7,202.1 1503.7,204.2 1504.7,204.3 1505.7,203.2 1506.7,204.2 1507.7,203.9 1508.7,201.8 1509.7,203.3 1510.7,204.8 1511.7,202.8 1512.7,201.3 1513.7,200.8 1514.7,199.9 1515.7,198.1 1516.7,198.7 1517.7,201.8 1518.7,204.7 1519.7,206.3 1520.7,207.5 1521.7,208.4 1522.7,208.0 1523.7,206.1 1524.7,204.6 1525.7,207.6 1526.7,212.7 1527.7,213.3 1528.7,210.4 1529.7,208.5 1530.7,207.4 1531.7,207.1 1532.7,207.4 1533.7,206.2 1534.7,206.2 1535.7,205.9 1536.7,202.9 1537.7,201.2 1538.7,200.4 1539.7,201.0 1540.7,202.6 1541.7,203.3 1542.7,203.2 1543.7,202.4 1544.7,201.7 1545.7,200.9 1546.7,200.6 1547.7,201.2 1548.7,202.2 1549.7,202.6 1550.7,203.4 1551.7,203.5 1552.7,204.3 1553.7,205.2 1554.7,203.2 1555.7,200.7 1556.7,199.7 1557.7,199.1 1558.7,200.8 1559.7,201.7 1560.7,201.6 1561.7,203.3 1562.7,206.1 1563.7,208.2 1564.7,208.8 1565.7,210.0 1566.7,209.0 1567.7,205.7 1568.7,205.2 1569.7,206.9 1570.7,206.9 1571.7,205.8 1572.7,204.3 1573.7,203.0 1574.7,202.8 1575.7,202.2 1576.7,202.7 1577.7,206.6 1578.7,211.1 1579.7,211.8 1580.7,209.5 1581.7,208.7 1582.7,210.0 1583.7,210.8 1584.7,209.2 1585.7,207.4 1586.7,208.6 1587.7,212.1 1588.7,212.5 1589.7,207.6 1590.7,204.6 1591.7,206.4 1592.7,207.9 1593.7,208.7 1594.7,209.0 1595.7,206.3 1596.7,202.3 1597.7,201.1 1598.7,202.5 1599.7,203.5 1600.7,203.7 1601.7,202.8 1602.7,202.0 1603.7,201.6 1604.7,202.6 1605.7,204.4 1606.7,206.5 1607.7,206.8 1608.7,204.6 1609.7,204.2 1610.7,206.1 1611.7,206.0 1612.7,205.1 1613.7,205.5 1614.7,206.0 1615.7,205.4 1616.7,203.7 1617.7,201.1 1618.7,197.8 1619.7,196.3 1620.7,196.5 1621.7,196.6 1622.7,196.3 1623.7,195.5 1624.7,193.7 1625.7,191.1 1626.7,190.2 1627.7,191.8 1628.7,191.7 1629.7,190.0 1630.7,189.9 1631.7,189.2 1632.7,186.1 1633.7,182.3 1634.7,181.7 1635.7,184.1 1636.7,185.6 1637.7,183.3 1638.7,180.5 1639.7,179.2 1640.7,179.1 1641.7,177.5 1642.7,173.5 1643.7,172.9 1644.7,176.7 1645.7,178.5 1646.7,178.9 1647.7,179.9 1648.7,178.2 1649.7,175.0 1650.7,175.8 1651.7,177.3 1652.7,176.2 1653.7,175.9 1654.7,176.3 1655.7,174.2 1656.7,171.6 1657.7,170.5 1658.7,170.9 1659.7,171.5 1660.7,171.3 1661.7,171.4 1662.7,170.2 1663.7,169.4 1664.7,169.2 1665.7,171.2 1666.7,174.4 1667.7,175.9 1668.7,174.9 1669.7,172.5 1670.7,171.3 1671.7,171.3 1672.7,171.1 1673.7,170.8 1674.7,171.6 1675.7,172.0 1676.7,172.0 1677.7,171.1 1678.7,169.1 1679.7,166.4 1680.7,164.5 1681.7,163.9 1682.7,165.0 1683.7,166.7 1684.7,167.6 1685.7,169.0 1686.7,171.6 1687.7,171.3 1688.7,169.9 1689.7,166.8 1690.7,163.0 1691.7,164.1 1692.7,165.2 1693.7,163.5 1694.7,163.6 1695.7,163.6 1696.7,163.5 1697.7,162.9 1698.7,161.9 1699.7,162.4 1700.7,162.6 1701.7,163.6 1702.7,167.7 1703.7,170.4 1704.7,167.4 1705.7,163.5 1706.7,160.8 1707.7,159.6 1708.7,161.0 1709.7,162.2 1710.7,161.3 1711.7,160.2 1712.7,160.0 1713.7,159.3 1714.7,156.2 1715.7,155.5 1716.7,155.7 1717.7,153.4 1718.7,150.3 1719.7,149.2 1720.7,150.0 1721.7,149.7 1722.7,148.0 1723.7,148.3 1724.7,150.7 1725.7,151.1 1726.7,148.5 1727.7,148.1 1728.7,152.6 1729.7,159.4 1730.7,162.5 1731.7,165.0 1732.7,169.6 1733.7,172.7 1734.7,170.2 1735.7,166.3 1736.7,165.6 1737.7,166.1 1738.7,165.8 1739.7,165.3 1740.7,165.8 1741.7,167.1 1742.7,168.9 1743.7,168.5 1744.7,166.3 1745.7,166.3 1746.7,169.6 1747.7,173.0 1748.7,173.4 1749.7,170.1 1750.7,167.0 1751.7,168.8 1752.7,171.4 1753.7,172.2 1754.7,172.4 1755.7,173.9 1756.7,177.7 1757.7,181.7 1758.7,181.1 1759.7,178.5 1760.7,177.6 1761.7,177.9 1762.7,178.1 1763.7,178.4 1764.7,179.9 1765.7,182.1 1766.7,182.9 1767.7,183.2 1768.7,183.4 1769.7,181.3 1770.7,178.0 1771.7,176.8 1772.7,178.9 1773.7,182.2 1774.7,184.8 1775.7,185.4 1776.7,183.9 1777.7,184.1 1778.7,186.9 1779.7,188.1 1780.7,187.4 1781.7,188.2 1782.7,189.4 1783.7,188.0 1784.7,185.0 1785.7,184.3 1786.7,187.4 1787.7,188.7 1788.7,187.1 1789.7,184.8 1790.7,183.9 1791.7,185.3 1792.7,187.2 1793.7,187.8 1794.7,187.7 1795.7,189.0 1796.7,189.7 1797.7,188.8 1798.7,187.6 1799.7,188.7 1800.7,190.3 1801.7,189.1 1802.7,187.9 1803.7,189.8 1804.7,191.5 1805.7,190.8 1806.7,191.7 1807.7,194.3 1808.7,195.9 1809.7,195.8 1810.7,193.5 1811.7,192.3 1812.7,195.1 1813.7,197.9 1814.7,197.3 1815.7,196.9 1816.7,196.9 1817.7,197.2 1818.7,198.7 1819.7,198.8 1820.7,196.3 1821.7,192.2 1822.7,189.3 1823.7,189.7 1824.7,193.5 1825.7,197.2 1826.7,200.0 1827.7,200.6 1828.7,198.6 1829.7,197.9 1830.7,199.5 1831.7,200.2 1832.7,198.8 1833.7,198.4 1834.7,198.2 1835.7,198.4 1836.7,198.6 1837.7,197.2 1838.7,197.2 1839.7,199.0 1840.7,199.6 1841.7,199.3 1842.7,199.8 1843.7,200.6 1844.7,201.1 1845.7,202.5 1846.7,204.2 1847.7,205.9 1848.7,206.1 1849.7,204.4 1850.7,202.5 1851.7,202.0 1852.7,204.0 1853.7,206.6 1854.7,205.8 1855.7,204.9 1856.7,203.6 1857.7,200.1 1858.7,198.4 1859.7,198.2 1860.7,197.4 1861.7,197.4 1862.7,200.0 1863.7,203.1 1864.7,203.2 1865.7,201.2 1866.7,198.8 1867.7,197.9 1868.7,199.5 1869.7,199.6 1870.7,198.2 1871.7,198.1 1872.7,197.8 1873.7,196.4 1874.7,195.2 1875.7,195.0 1876.7,196.1 1877.7,198.1 1878.7,199.1 1879.7,198.5 1880.7,197.6 1881.7,198.3 1882.7,198.7 1883.7,197.3 1884.7,198.1 1885.7,198.5 1886.7,197.0 1887.7,195.4 1888.7,194.0 1889.7,192.4 1890.7,192.0 1891.7,192.7 1892.7,193.8 1893.7,196.1 1894.7,194.4 1895.7,189.4 1896.7,189.8 1897.7,193.9 1898.7,196.1 1899.7,196.7 1900.7,197.5 1901.7,198.6 1902.7,199.8 1903.7,199.8 1904.7,197.9 1905.7,195.2 1906.7,192.6 1907.7,192.2 1908.7,194.3 1909.7,198.8 1910.7,200.8 1911.7,197.4 1912.7,193.7 1913.7,193.6 1914.7,195.1 1915.7,196.7 1916.7,197.7 1917.7,195.4 1918.7,192.8 1919.7,194.1 1920.7,194.7 1921.7,195.2 1922.7,196.2 1923.7,194.1 1924.7,191.1 1925.7,191.3 1926.7,194.7 1927.7,198.0 1928.7,198.5 1929.7,196.5 1930.7,196.2 1931.7,197.7 1932.7,198.2 1933.7,198.8 1934.7,198.4 1935.7,197.3 1936.7,196.9 1937.7,196.7 1938.7,196.0 1939.7,195.6 1940.7,196.2 1941.7,197.0 1942.7,198.3 1943.7,198.8 1944.7,198.5 1945.7,198.9 1946.7,200.9 1947.7,202.7 1948.7,201.4 1949.7,199.7 1950.7,200.3 1951.7,201.6 1952.7,201.4 1953.7,201.1 1954.7,201.6 1955.7,202.7 1956.7,203.4 1957.7,201.4 1958.7,197.0 1959.7,193.0 1960.7,192.1 1961.7,195.1 1962.7,197.0 1963.7,196.1" stroke="#ff0000" stroke-width="2.5"/>
<polyline points="1191.7,227.2 1192.9,227.1 1194.1,227.0 1195.3,226.9 1196.5,226.8 1197.7,226.7 1198.9,226.6 1200.1,226.4 1201.3,226.3 1202.5,226.2 1203.7,226.1 1204.9,226.0 1206.1,225.8 1207.3,225.6 1208.5,225.4 1209.7,225.1 1210.9,224.9 1212.1,224.7 1213.3,224.5 1214.5,224.3 1215.7,224.1 1216.9,223.8 1218.1,223.6 1219.3,223.4 1220.5,223.1 1221.7,222.2 1222.9,220.7 1224.1,218.8 1225.3,216.9 1226.5,214.9 1227.7,213.0 1228.9,211.0 1230.1,208.7 1231.3,206.1 1232.5,203.2 1233.7,200.4 1234.9,197.6 1236.1,195.2 1237.3,193.3 1238.5,191.7 1239.7,190.0 1240.9,188.4 1242.1,186.1 1243.3,182.8 1244.5,178.8 1245.7,174.8 1246.9,171.4 1248.1,168.5 1249.3,165.8 1250.5,163.3 1251.7,162.1 1252.9,162.1 1254.1,163.3 1255.3,164.5 1256.5,166.2 1257.7,168.6 1258.9,171.6 1260.1,174.8 1261.3,178.0 1262.5,180.4 1263.7,181.3 1264.9,180.7 1266.1,179.5 1267.3,178.3 1268.5,176.4 1269.7,172.9 1270.9,167.8 1272.1,161.8 1273.3,155.8 1274.5,149.0 1275.7,139.3 1276.9,126.7 1278.1,111.9 1279.3,96.2 1280.5,79.4 1281.7,61.4 1282.9,44.4 1284.1,31.1 1285.3,21.6 1286.5,14.5 1287.7,10.0 1288.9,8.7 1290.1,10.6 1291.3,13.0 1292.5,16.8 1293.7,23.2 1294.9,32.4 1296.1,43.0 1297.3,53.6 1298.5,64.8 1299.7,76.5 1300.9,88.6 1302.1,98.7 1303.3,106.1 1304.5,110.8 1305.7,114.8 1306.9,118.8 1308.1,122.7 1309.3,126.3 1310.5,129.7 1311.7,132.9 1312.9,136.2 1314.1,139.4 1315.3,142.7 1316.5,145.2 1317.7,146.3 1318.9,146.0 1320.1,145.3 1321.3,144.6 1322.5,144.5 1323.7,144.7 1324.9,145.3 1326.1,145.8 1327.3,146.5 1328.5,147.5 1329.7,148.7 1330.9,149.9 1332.1,151.1 1333.3,152.3 1334.5,153.5 1335.7,154.6 1336.9,155.7 1338.1,156.8 1339.3,157.9 1340.5,158.9 1341.7,160.0 1342.9,161.1 1344.1,162.9 1345.3,165.4 1346.5,168.4 1347.7,171.4 1348.9,174.4 1350.1,177.4 1351.3,180.3 1352.5,182.9 1353.7,185.3 1354.9,187.5 1356.1,189.6 1357.3,191.8 1358.5,193.9 1359.7,196.1 1360.9,198.2 1362.1,200.2 1363.3,201.6 1364.5,202.7 1365.7,203.6 1366.9,204.5 1368.1,205.4 1369.3,206.3 1370.5,207.0 1371.7,207.2 1372.9,207.2 1374.1,207.0 1375.3,206.8 1376.5,206.6 1377.7,206.3 1378.9,206.1 1380.1,205.9 1381.3,205.7 1382.5,205.5 1383.7,205.1 1384.9,204.6 1386.1,204.0 1387.3,203.4 1388.5,202.8 1389.7,202.2 1390.9,201.7 1392.1,201.1 1393.3,200.5 1394.5,199.9 1395.7,199.3 1396.9,198.7 1398.1,198.2 1399.3,197.8 1400.5,197.5 1401.7,197.2 1402.9,196.9 1404.1,196.6 1405.3,196.4 1406.5,196.4 1407.7,196.6 1408.9,197.1 1410.1,197.5 1411.3,198.0 1412.5,198.4 1413.7,198.8 1414.9,199.3 1416.1,199.7 1417.3,200.1 1418.5,200.6 1419.7,201.0 1420.9,201.5 1422.1,201.9 1423.3,202.3 1424.5,202.8 1425.7,203.2 1426.9,203.6 1428.1,204.1 1429.3,204.6 1430.5,205.1 1431.7,205.6 1432.9,206.1 1434.1,206.7 1435.3,207.2 1436.5,207.8 1437.7,208.3 1438.9,208.8 1440.1,209.4 1441.3,209.9 1442.5,210.4 1443.7,211.0 1444.9,211.5 1446.1,212.0 1447.3,212.6 1448.5,213.1 1449.7,213.5 1450.9,213.8 1452.1,214.0 1453.3,214.1 1454.5,214.3 1455.7,214.4 1456.9,214.6 1458.1,214.7 1459.3,214.9 1460.5,215.0 1461.7,215.2 1462.9,215.3 1464.1,215.5 1465.3,215.7 1466.5,215.8 1467.7,216.0 1468.9,216.1 1470.1,216.3 1471.3,216.4 1472.5,216.6 1473.7,216.7 1474.9,216.9 1476.1,217.0 1477.3,217.2 1478.5,217.3 1479.7,217.5 1480.9,217.6 1482.1,217.7 1483.3,217.8 1484.5,218.0 1485.7,218.1 1486.9,218.2 1488.1,218.3 1489.3,218.5 1490.5,218.6 1491.7,218.7 1492.9,218.8 1494.1,219.0 1495.3,219.1 1496.5,219.2 1497.7,219.3 1498.9,219.5 1500.1,219.6 1501.3,219.7 1502.5,219.8 1503.7,220.0 1504.9,220.1 1506.1,220.2 1507.3,220.2 1508.5,220.3 1509.7,220.3 1510.9,220.4 1512.1,220.5 1513.3,220.5 1514.5,220.6 1515.7,220.7 1516.9,220.7 1518.1,220.8 1519.3,220.8 1520.5,220.9 1521.7,221.0 1522.9,221.0 1524.1,221.1 1525.3,221.2 1526.5,221.2 1527.7,221.3 1528.9,221.3 1530.1,221.4 1531.3,221.4 1532.5,221.3 1533.7,221.3 1534.9,221.3 1536.1,221.2 1537.3,221.2 1538.5,221.2 1539.7,221.1 1540.9,221.1 1542.1,221.1 1543.3,221.1 1544.5,221.0 1545.7,221.0 1546.9,221.0 1548.1,220.9 1549.3,220.9 1550.5,220.9 1551.7,220.8 1552.9,220.8 1554.1,220.8 1555.3,220.7 1556.5,220.7 1557.7,220.7 1558.9,220.6 1560.1,220.6 1561.3,220.6 1562.5,220.6 1563.7,220.5 1564.9,220.5 1566.1,220.5 1567.3,220.4 1568.5,220.4 1569.7,220.4 1570.9,220.3 1572.1,220.3 1573.3,220.3 1574.5,220.2 1575.7,220.2 1576.9,220.2 1578.1,220.1 1579.3,220.1 1580.5,220.0 1581.7,219.9 1582.9,219.7 1584.1,219.5 1585.3,219.3 1586.5,219.1 1587.7,219.0 1588.9,218.8 1590.1,218.6 1591.3,218.4 1592.5,218.3 1593.7,218.1 1594.9,217.9 1596.1,217.7 1597.3,217.6 1598.5,217.4 1599.7,217.2 1600.9,217.0 1602.1,216.9 1603.3,216.7 1604.5,216.4 1605.7,216.1 1606.9,215.5 1608.1,214.9 1609.3,214.3 1610.5,213.7 1611.7,213.1 1612.9,212.5 1614.1,211.9 1615.3,210.9 1616.5,209.6 1617.7,207.9 1618.9,206.3 1620.1,204.6 1621.3,203.0 1622.5,201.3 1623.7,199.7 1624.9,198.2 1626.1,197.0 1627.3,196.1 1628.5,195.2 1629.7,194.3 1630.9,193.7 1632.1,193.5 1633.3,193.7 1634.5,194.1 1635.7,194.5 1636.9,194.9 1638.1,195.3 1639.3,195.7 1640.5,196.1 1641.7,196.5 1642.9,196.9 1644.1,197.2 1645.3,197.4 1646.5,197.3 1647.7,197.0 1648.9,196.7 1650.1,196.4 1651.3,196.1 1652.5,195.8 1653.7,195.6 1654.9,195.3 1656.1,195.0 1657.3,194.8 1658.5,194.8 1659.7,195.0 1660.9,195.2 1662.1,195.5 1663.3,195.7 1664.5,196.0 1665.7,196.2 1666.9,196.4 1668.1,196.7 1669.3,196.9 1670.5,197.2 1671.7,197.4 1672.9,197.4 1674.1,197.2 1675.3,196.8 1676.5,196.5 1677.7,196.1 1678.9,195.8 1680.1,195.4 1681.3,195.0 1682.5,194.7 1683.7,194.3 1684.9,194.0 1686.1,193.6 1687.3,193.3 1688.5,192.9 1689.7,192.6 1690.9,192.2 1692.1,191.9 1693.3,191.6 1694.5,191.2 1695.7,190.9 1696.9,190.6 1698.1,190.2 1699.3,189.9 1700.5,189.5 1701.7,189.1 1702.9,188.7 1704.1,188.3 1705.3,187.9 1706.5,187.6 1707.7,187.2 1708.9,186.8 1710.1,186.5 1711.3,186.5 1712.5,186.6 1713.7,186.8 1714.9,187.0 1716.1,187.2 1717.3,187.3 1718.5,187.7 1719.7,188.4 1720.9,189.5 1722.1,190.7 1723.3,191.9 1724.5,193.0 1725.7,194.2 1726.9,195.4 1728.1,196.8 1729.3,198.2 1730.5,199.7 1731.7,201.2 1732.9,202.3 1734.1,203.2 1735.3,203.7 1736.5,204.2 1737.7,204.7 1738.9,205.2 1740.1,205.7 1741.3,206.2 1742.5,206.8 1743.7,207.3 1744.9,207.8 1746.1,208.3 1747.3,208.8 1748.5,209.3 1749.7,209.8 1750.9,210.1 1752.1,210.4 1753.3,210.5 1754.5,210.7 1755.7,210.9 1756.9,211.1 1758.1,211.3 1759.3,211.4 1760.5,211.6 1761.7,211.8 1762.9,212.0 1764.1,212.2 1765.3,212.3 1766.5,212.5 1767.7,212.7 1768.9,212.9 1770.1,213.1 1771.3,213.2 1772.5,213.4 1773.7,213.6 1774.9,213.8 1776.1,214.0 1777.3,214.1 1778.5,214.3 1779.7,214.5 1780.9,214.6 1782.1,214.7 1783.3,214.7 1784.5,214.7 1785.7,214.8 1786.9,214.8 1788.1,214.9 1789.3,214.9 1790.5,215.0 1791.7,215.0 1792.9,215.1 1794.1,215.1 1795.3,215.1 1796.5,215.2 1797.7,215.2 1798.9,215.3 1800.1,215.3 1801.3,215.4 1802.5,215.4 1803.7,215.4 1804.9,215.5 1806.1,215.5 1807.3,215.6 1808.5,215.6 1809.7,215.7 1810.9,215.7 1812.1,215.7 1813.3,215.8 1814.5,215.8 1815.7,215.9 1816.9,215.9 1818.1,216.0 1819.3,216.0 1820.5,216.0 1821.7,216.1 1822.9,216.1 1824.1,216.2 1825.3,216.2 1826.5,216.3 1827.7,216.3 1828.9,216.3 1830.1,216.4 1831.3,216.4 1832.5,216.4 1833.7,216.4 1834.9,216.4 1836.1,216.4 1837.3,216.4 1838.5,216.4 1839.7,216.3 1840.9,216.3 1842.1,216.3 1843.3,216.3 1844.5,216.3 1845.7,216.3 1846.9,216.3 1848.1,216.3 1849.3,216.3 1850.5,216.3 1851.7,216.3 1852.9,216.3 1854.1,216.3 1855.3,216.3 1856.5,216.2 1857.7,216.2 1858.9,216.2 1860.1,216.2 1861.3,216.2 1862.5,216.2 1863.7,216.2 1864.9,216.2 1866.1,216.2 1867.3,216.2 1868.5,216.2 1869.7,216.2 1870.9,216.2 1872.1,216.2 1873.3,216.1 1874.5,216.1 1875.7,216.1 1876.9,216.1 1878.1,216.1 1879.3,216.1 1880.5,216.1 1881.7,216.1 1882.9,216.1 1884.1,216.1 1885.3,216.1 1886.5,216.1 1887.7,216.1 1888.9,216.1 1890.1,216.0 1891.3,216.0 1892.5,216.0 1893.7,216.0 1894.9,216.0 1896.1,216.0 1897.3,216.0 1898.5,216.0 1899.7,216.0 1900.9,216.0 1902.1,216.0 1903.3,216.0 1904.5,216.0 1905.7,216.0 1906.9,215.9 1908.1,215.9 1909.3,215.9 1910.5,215.9 1911.7,215.9 1912.9,215.9 1914.1,215.9 1915.3,215.9 1916.5,215.9 1917.7,215.9 1918.9,215.9 1920.1,215.9 1921.3,215.9 1922.5,215.8 1923.7,215.8 1924.9,215.8 1926.1,215.8 1927.3,215.8 1928.5,215.8 1929.7,215.8 1930.9,215.8 1932.1,215.8 1933.3,215.8 1934.5,215.8 1935.7,215.8 1936.9,215.8 1938.1,215.8 1939.3,215.7 1940.5,215.7 1941.7,215.7 1942.9,215.7 1944.1,215.7 1945.3,215.7 1946.5,215.7 1947.7,215.7 1948.9,215.7 1950.1,215.7 1951.3,215.7 1952.5,215.7 1953.7,215.7 1954.9,215.7 1956.1,215.6 1957.3,215.6 1958.5,215.6 1959.7,215.6 1960.9,215.6 1962.1,215.6 1963.3,215.6" stroke="#000"/>
<polyline points="1191.7,227.4 1193.2,227.4 1194.7,227.4 1196.2,227.4 1197.7,227.4 1199.2,227.4 1200.7,227.4 1202.2,227.4 1203.7,227.4 1205.2,227.4 1206.7,227.4 1208.2,227.4 1209.7,227.4 1211.2,227.4 1212.7,227.4 1214.2,227.4 1215.7,227.4 1217.2,227.4 1218.7,227.4 1220.2,227.4 1221.7,227.4 1223.2,227.4 1224.7,227.4 1226.2,227.3 1227.7,227.3 1229.2,227.3 1230.7,227.2 1232.2,227.2 1233.7,227.2 1235.2,227.1 1236.7,227.1 1238.2,227.0 1239.7,227.0 1241.2,226.9 1242.7,226.9 1244.2,226.8 1245.7,226.7 1247.2,226.7 1248.7,226.6 1250.2,226.5 1251.7,226.4 1253.2,226.4 1254.7,226.3 1256.2,226.2 1257.7,225.9 1259.2,225.6 1260.7,225.3 1262.2,224.9 1263.7,224.5 1265.2,224.2 1266.7,223.8 1268.2,223.4 1269.7,223.0 1271.2,222.6 1272.7,222.2 1274.2,221.7 1275.7,221.3 1277.2,220.8 1278.7,220.4 1280.2,219.9 1281.7,219.5 1283.2,219.0 1284.7,218.6 1286.2,218.0 1287.7,217.3 1289.2,216.5 1290.7,215.6 1292.2,214.7 1293.7,213.8 1295.2,212.9 1296.7,212.0 1298.2,211.1 1299.7,210.2 1301.2,209.3 1302.7,208.4 1304.2,207.5 1305.7,206.7 1307.2,205.8 1308.7,204.9 1310.2,204.0 1311.7,203.2 1313.2,202.3 1314.7,201.6 1316.2,201.1 1317.7,200.9 1319.2,200.6 1320.7,200.4 1322.2,200.2 1323.7,200.0 1325.2,199.7 1326.7,199.5 1328.2,199.3 1329.7,199.1 1331.2,199.0 1332.7,198.9 1334.2,198.8 1335.7,198.7 1337.2,198.6 1338.7,198.6 1340.2,198.5 1341.7,198.4 1343.2,198.3 1344.7,198.2 1346.2,198.0 1347.7,197.7 1349.2,197.2 1350.7,196.8 1352.2,196.3 1353.7,195.9 1355.2,195.4 1356.7,195.0 1358.2,194.5 1359.7,194.1 1361.2,193.5 1362.7,193.0 1364.2,192.4 1365.7,191.8 1367.2,191.2 1368.7,190.6 1370.2,190.1 1371.7,189.5 1373.2,188.9 1374.7,188.3 1376.2,187.8 1377.7,187.2 1379.2,186.7 1380.7,186.2 1382.2,185.7 1383.7,185.2 1385.2,184.7 1386.7,184.1 1388.2,183.6 1389.7,183.2 1391.2,182.8 1392.7,182.6 1394.2,182.4 1395.7,182.1 1397.2,181.9 1398.7,181.7 1400.2,181.4 1401.7,181.2 1403.2,181.0 1404.7,180.7 1406.2,180.8 1407.7,181.1 1409.2,181.7 1410.7,182.3 1412.2,182.9 1413.7,183.5 1415.2,184.1 1416.7,184.7 1418.2,185.3 1419.7,185.9 1421.2,186.7 1422.7,187.5 1424.2,188.3 1425.7,189.1 1427.2,190.0 1428.7,190.8 1430.2,191.6 1431.7,192.5 1433.2,193.3 1434.7,194.1 1436.2,194.9 1437.7,195.6 1439.2,196.3 1440.7,196.9 1442.2,197.6 1443.7,198.2 1445.2,198.9 1446.7,199.6 1448.2,200.2 1449.7,200.9 1451.2,201.5 1452.7,202.2 1454.2,202.9 1455.7,203.6 1457.2,204.3 1458.7,205.0 1460.2,205.6 1461.7,206.3 1463.2,207.0 1464.7,207.6 1466.2,208.0 1467.7,208.5 1469.2,208.9 1470.7,209.3 1472.2,209.8 1473.7,210.2 1475.2,210.6 1476.7,211.1 1478.2,211.5 1479.7,211.9 1481.2,212.2 1482.7,212.5 1484.2,212.7 1485.7,213.0 1487.2,213.2 1488.7,213.5 1490.2,213.8 1491.7,214.0 1493.2,214.3 1494.7,214.5 1496.2,214.8 1497.7,215.0 1499.2,215.2 1500.7,215.4 1502.2,215.5 1503.7,215.7 1505.2,215.9 1506.7,216.1 1508.2,216.3 1509.7,216.5 1511.2,216.7 1512.7,216.9 1514.2,217.1 1515.7,217.3 1517.2,217.5 1518.7,217.7 1520.2,217.9 1521.7,218.1 1523.2,218.3 1524.7,218.5 1526.2,218.7 1527.7,218.9 1529.2,219.0 1530.7,219.0 1532.2,219.1 1533.7,219.1 1535.2,219.2 1536.7,219.2 1538.2,219.3 1539.7,219.3 1541.2,219.4 1542.7,219.5 1544.2,219.5 1545.7,219.6 1547.2,219.6 1548.7,219.7 1550.2,219.7 1551.7,219.8 1553.2,219.8 1554.7,219.9 1556.2,220.0 1557.7,220.0 1559.2,220.1 1560.7,220.1 1562.2,220.2 1563.7,220.3 1565.2,220.3 1566.7,220.4 1568.2,220.4 1569.7,220.5 1571.2,220.6 1572.7,220.6 1574.2,220.7 1575.7,220.8 1577.2,220.8 1578.7,220.9 1580.2,220.9 1581.7,221.0 1583.2,221.1 1584.7,221.1 1586.2,221.2 1587.7,221.2 1589.2,221.3 1590.7,221.4 1592.2,221.4 1593.7,221.3 1595.2,221.3 1596.7,221.3 1598.2,221.2 1599.7,221.2 1601.2,221.2 1602.7,221.1 1604.2,221.1 1605.7,221.0 1607.2,221.0 1608.7,221.0 1610.2,220.9 1611.7,220.9 1613.2,220.9 1614.7,220.8 1616.2,220.8 1617.7,220.8 1619.2,220.7 1620.7,220.7 1622.2,220.6 1623.7,220.6 1625.2,220.5 1626.7,220.4 1628.2,220.3 1629.7,220.1 1631.2,220.0 1632.7,219.9 1634.2,219.8 1635.7,219.7 1637.2,219.5 1638.7,219.4 1640.2,219.3 1641.7,219.2 1643.2,219.1 1644.7,218.9 1646.2,218.8 1647.7,218.7 1649.2,218.6 1650.7,218.5 1652.2,218.3 1653.7,218.2 1655.2,218.0 1656.7,217.8 1658.2,217.5 1659.7,217.1 1661.2,216.8 1662.7,216.5 1664.2,216.2 1665.7,215.8 1667.2,215.5 1668.7,215.2 1670.2,214.9 1671.7,214.5 1673.2,214.2 1674.7,213.7 1676.2,213.3 1677.7,212.9 1679.2,212.5 1680.7,212.1 1682.2,211.7 1683.7,211.2 1685.2,210.8 1686.7,210.4 1688.2,210.0 1689.7,209.6 1691.2,209.2 1692.7,208.9 1694.2,208.5 1695.7,208.1 1697.2,207.7 1698.7,207.4 1700.2,207.0 1701.7,206.6 1703.2,206.2 1704.7,205.9 1706.2,205.5 1707.7,205.1 1709.2,204.7 1710.7,204.4 1712.2,204.0 1713.7,203.6 1715.2,203.2 1716.7,202.9 1718.2,202.6 1719.7,202.3 1721.2,202.1 1722.7,201.9 1724.2,201.6 1725.7,201.4 1727.2,201.2 1728.7,201.0 1730.2,200.7 1731.7,200.5 1733.2,200.3 1734.7,200.1 1736.2,200.0 1737.7,199.9 1739.2,199.9 1740.7,199.9 1742.2,199.8 1743.7,199.8 1745.2,199.7 1746.7,199.7 1748.2,199.7 1749.7,199.6 1751.2,199.7 1752.7,199.8 1754.2,199.9 1755.7,200.0 1757.2,200.2 1758.7,200.3 1760.2,200.4 1761.7,200.5 1763.2,200.7 1764.7,200.8 1766.2,200.9 1767.7,201.0 1769.2,201.2 1770.7,201.3 1772.2,201.4 1773.7,201.5 1775.2,201.7 1776.7,201.8 1778.2,201.9 1779.7,202.1 1781.2,202.3 1782.7,202.5 1784.2,202.8 1785.7,203.0 1787.2,203.3 1788.7,203.6 1790.2,203.8 1791.7,204.1 1793.2,204.3 1794.7,204.6 1796.2,204.9 1797.7,205.2 1799.2,205.5 1800.7,205.9 1802.2,206.3 1803.7,206.6 1805.2,207.0 1806.7,207.4 1808.2,207.7 1809.7,208.1 1811.2,208.5 1812.7,208.8 1814.2,209.2 1815.7,209.5 1817.2,209.8 1818.7,210.0 1820.2,210.3 1821.7,210.6 1823.2,210.9 1824.7,211.2 1826.2,211.5 1827.7,211.8 1829.2,212.1 1830.7,212.4 1832.2,212.7 1833.7,213.0 1835.2,213.3 1836.7,213.6 1838.2,213.9 1839.7,214.2 1841.2,214.5 1842.7,214.8 1844.2,215.1 1845.7,215.3 1847.2,215.4 1848.7,215.6 1850.2,215.8 1851.7,215.9 1853.2,216.1 1854.7,216.3 1856.2,216.4 1857.7,216.6 1859.2,216.8 1860.7,217.0 1862.2,217.1 1863.7,217.3 1865.2,217.5 1866.7,217.6 1868.2,217.8 1869.7,218.0 1871.2,218.1 1872.7,218.3 1874.2,218.5 1875.7,218.6 1877.2,218.8 1878.7,218.9 1880.2,219.0 1881.7,219.0 1883.2,219.1 1884.7,219.2 1886.2,219.2 1887.7,219.3 1889.2,219.3 1890.7,219.4 1892.2,219.5 1893.7,219.5 1895.2,219.6 1896.7,219.6 1898.2,219.7 1899.7,219.8 1901.2,219.8 1902.7,219.9 1904.2,219.9 1905.7,220.0 1907.2,220.1 1908.7,220.1 1910.2,220.1 1911.7,220.1 1913.2,220.1 1914.7,220.1 1916.2,220.1 1917.7,220.1 1919.2,220.1 1920.7,220.1 1922.2,220.1 1923.7,220.1 1925.2,220.1 1926.7,220.1 1928.2,220.1 1929.7,220.1 1931.2,220.1 1932.7,220.1 1934.2,220.1 1935.7,220.1 1937.2,220.1 1938.7,220.1 1940.2,220.1 1941.7,220.1 1943.2,220.1 1944.7,220.1 1946.2,220.1 1947.7,220.1 1949.2,220.1 1950.7,220.1 1952.2,220.1 1953.7,220.1 1955.2,220.1 1956.7,220.1 1958.2,220.1 1959.7,220.1 1961.2,220.1 1962.7,220.1 1964.2,220.1" stroke="#000" stroke-dasharray="31,29.5"/>
<polyline points="1191.7,448.0 1192.9,447.7 1194.1,447.1 1195.3,446.6 1196.5,446.5 1197.7,446.7 1198.9,446.5 1200.1,446.0 1201.3,445.5 1202.5,445.2 1203.7,445.2 1204.9,444.8 1206.1,443.5 1207.3,442.5 1208.5,442.2 1209.7,441.6 1210.9,441.0 1212.1,441.5 1213.3,442.1 1214.5,442.3 1215.7,442.8 1216.9,443.2 1218.1,443.6 1219.3,444.4 1220.5,445.1 1221.7,445.9 1222.9,446.9 1224.1,447.0 1225.3,447.1 1226.5,447.7 1227.7,447.8 1228.9,446.8 1230.1,444.9 1231.3,442.9 1232.5,441.2 1233.7,440.2 1234.9,439.7 1236.1,439.7 1237.3,439.7 1238.5,439.1 1239.7,438.8 1240.9,439.1 1242.1,439.6 1243.3,440.0 1244.5,439.5 1245.7,438.1 1246.9,436.4 1248.1,434.5 1249.3,432.4 1250.5,430.2 1251.7,428.0 1252.9,426.3 1254.1,424.4 1255.3,422.3 1256.5,420.9 1257.7,419.7 1258.9,418.1 1260.1,416.4 1261.3,414.6 1262.5,412.7 1263.7,411.2 1264.9,410.2 1266.1,409.3 1267.3,407.8 1268.5,406.0 1269.7,403.5 1270.9,399.8 1272.1,395.3 1273.3,390.9 1274.5,386.3 1275.7,381.4 1276.9,376.1 1278.1,369.7 1279.3,363.2 1280.5,356.7 1281.7,350.3 1282.9,344.0 1284.1,337.3 1285.3,330.7 1286.5,324.8 1287.7,318.7 1288.9,312.2 1290.1,306.0 1291.3,301.2 1292.5,297.6 1293.7,295.5 1294.9,293.7 1296.1,292.8 1297.3,292.6 1298.5,292.2 1299.7,291.1 1300.9,288.7 1302.1,285.3 1303.3,280.6 1304.5,276.3 1305.7,271.3 1306.9,266.1 1308.1,260.7 1309.3,255.0 1310.5,248.2 1311.7,240.8 1312.9,234.0 1314.1,229.4 1315.3,227.5 1316.5,228.4 1317.7,230.8 1318.9,233.0 1320.1,234.7 1321.3,236.1 1322.5,236.7 1323.7,236.0 1324.9,234.1 1326.1,232.4 1327.3,231.4 1328.5,230.6 1329.7,230.2 1330.9,230.5 1332.1,231.1 1333.3,231.6 1334.5,232.9 1335.7,235.3 1336.9,238.7 1338.1,242.0 1339.3,245.2 1340.5,247.7 1341.7,249.7 1342.9,251.0 1344.1,251.8 1345.3,252.8 1346.5,254.3 1347.7,254.6 1348.9,253.5 1350.1,251.8 1351.3,250.2 1352.5,249.1 1353.7,248.4 1354.9,247.3 1356.1,245.9 1357.3,244.6 1358.5,244.4 1359.7,245.6 1360.9,247.7 1362.1,249.6 1363.3,251.6 1364.5,253.4 1365.7,255.3 1366.9,257.5 1368.1,260.1 1369.3,262.2 1370.5,263.4 1371.7,264.0 1372.9,264.5 1374.1,265.1 1375.3,265.5 1376.5,266.5 1377.7,267.7 1378.9,268.9 1380.1,270.9 1381.3,273.9 1382.5,277.5 1383.7,280.9 1384.9,284.0 1386.1,286.7 1387.3,289.3 1388.5,291.3 1389.7,292.7 1390.9,294.0 1392.1,295.5 1393.3,297.1 1394.5,298.2 1395.7,298.6 1396.9,299.5 1398.1,300.5 1399.3,301.0 1400.5,301.6 1401.7,302.7 1402.9,304.1 1404.1,305.9 1405.3,307.4 1406.5,308.7 1407.7,309.9 1408.9,310.8 1410.1,312.0 1411.3,313.7 1412.5,315.0 1413.7,316.3 1414.9,318.3 1416.1,320.4 1417.3,322.5 1418.5,324.4 1419.7,325.6 1420.9,327.8 1422.1,330.7 1423.3,333.1 1424.5,335.4 1425.7,338.1 1426.9,339.9 1428.1,340.9 1429.3,342.4 1430.5,344.2 1431.7,345.4 1432.9,345.9 1434.1,347.0 1435.3,348.0 1436.5,349.1 1437.7,350.6 1438.9,352.4 1440.1,354.7 1441.3,357.3 1442.5,359.2 1443.7,360.9 1444.9,362.6 1446.1,364.2 1447.3,365.0 1448.5,365.2 1449.7,365.6 1450.9,366.1 1452.1,366.2 1453.3,366.8 1454.5,367.8 1455.7,368.2 1456.9,368.1 1458.1,368.3 1459.3,369.0 1460.5,369.5 1461.7,369.9 1462.9,370.6 1464.1,371.3 1465.3,372.2 1466.5,373.6 1467.7,374.8 1468.9,376.2 1470.1,378.1 1471.3,380.0 1472.5,381.1 1473.7,382.0 1474.9,383.5 1476.1,384.7 1477.3,385.2 1478.5,385.2 1479.7,385.0 1480.9,384.7 1482.1,384.4 1483.3,384.1 1484.5,383.7 1485.7,383.7 1486.9,383.6 1488.1,383.7 1489.3,384.7 1490.5,386.7 1491.7,388.3 1492.9,390.1 1494.1,392.1 1495.3,393.3 1496.5,394.1 1497.7,394.9 1498.9,396.4 1500.1,398.1 1501.3,399.4 1502.5,400.4 1503.7,401.3 1504.9,401.7 1506.1,401.6 1507.3,401.6 1508.5,401.9 1509.7,401.7 1510.9,401.6 1512.1,401.6 1513.3,401.3 1514.5,400.9 1515.7,400.8 1516.9,401.1 1518.1,401.4 1519.3,401.8 1520.5,402.1 1521.7,402.6 1522.9,403.4 1524.1,404.0 1525.3,404.2 1526.5,404.3 1527.7,404.9 1528.9,405.6 1530.1,406.3 1531.3,407.0 1532.5,407.2 1533.7,407.0 1534.9,406.7 1536.1,406.7 1537.3,406.9 1538.5,406.8 1539.7,406.7 1540.9,406.4 1542.1,405.5 1543.3,404.5 1544.5,403.5 1545.7,402.8 1546.9,402.5 1548.1,403.1 1549.3,404.2 1550.5,404.5 1551.7,404.8 1552.9,405.7 1554.1,405.9 1555.3,406.0 1556.5,407.5 1557.7,409.1 1558.9,410.2 1560.1,410.9 1561.3,411.2 1562.5,411.3 1563.7,411.3 1564.9,411.7 1566.1,412.1 1567.3,411.9 1568.5,411.2 1569.7,410.6 1570.9,410.6 1572.1,411.1 1573.3,411.8 1574.5,412.6 1575.7,413.4 1576.9,414.4 1578.1,415.4 1579.3,415.9 1580.5,416.6 1581.7,417.0 1582.9,416.1 1584.1,415.3 1585.3,415.2 1586.5,415.1 1587.7,414.3 1588.9,413.3 1590.1,412.8 1591.3,412.9 1592.5,413.4 1593.7,413.3 1594.9,413.0 1596.1,412.9 1597.3,412.7 1598.5,412.5 1599.7,412.5 1600.9,412.0 1602.1,411.8 1603.3,412.7 1604.5,413.5 1605.7,413.6 1606.9,413.2 1608.1,413.2 1609.3,414.0 1610.5,414.7 1611.7,414.9 1612.9,414.8 1614.1,414.6 1615.3,414.6 1616.5,414.1 1617.7,412.8 1618.9,411.9 1620.1,411.9 1621.3,412.0 1622.5,411.7 1623.7,411.2 1624.9,410.7 1626.1,410.2 1627.3,410.0 1628.5,409.7 1629.7,409.2 1630.9,408.6 1632.1,408.0 1633.3,407.6 1634.5,407.3 1635.7,407.0 1636.9,406.7 1638.1,406.1 1639.3,405.2 1640.5,404.5 1641.7,404.0 1642.9,403.5 1644.1,402.4 1645.3,400.9 1646.5,399.6 1647.7,398.7 1648.9,398.0 1650.1,397.1 1651.3,395.8 1652.5,393.9 1653.7,392.0 1654.9,391.0 1656.1,390.3 1657.3,390.4 1658.5,391.0 1659.7,390.9 1660.9,390.2 1662.1,389.4 1663.3,387.8 1664.5,385.6 1665.7,383.3 1666.9,381.2 1668.1,378.7 1669.3,375.8 1670.5,373.1 1671.7,370.5 1672.9,367.8 1674.1,365.1 1675.3,362.8 1676.5,360.7 1677.7,359.0 1678.9,357.7 1680.1,356.6 1681.3,355.4 1682.5,354.0 1683.7,351.7 1684.9,349.2 1686.1,347.3 1687.3,346.4 1688.5,346.5 1689.7,347.1 1690.9,347.5 1692.1,348.1 1693.3,349.2 1694.5,350.5 1695.7,351.3 1696.9,350.8 1698.1,349.6 1699.3,347.6 1700.5,345.2 1701.7,342.9 1702.9,341.2 1704.1,340.4 1705.3,339.9 1706.5,338.9 1707.7,337.2 1708.9,335.6 1710.1,334.2 1711.3,333.3 1712.5,332.8 1713.7,331.9 1714.9,330.1 1716.1,329.2 1717.3,329.0 1718.5,328.2 1719.7,327.4 1720.9,326.7 1722.1,326.3 1723.3,325.8 1724.5,324.9 1725.7,324.2 1726.9,323.5 1728.1,323.2 1729.3,322.8 1730.5,320.9 1731.7,317.8 1732.9,315.6 1734.1,315.7 1735.3,317.6 1736.5,320.0 1737.7,322.5 1738.9,325.1 1740.1,327.5 1741.3,329.9 1742.5,331.8 1743.7,332.9 1744.9,333.4 1746.1,334.2 1747.3,334.8 1748.5,335.1 1749.7,335.8 1750.9,336.9 1752.1,338.0 1753.3,339.1 1754.5,339.9 1755.7,340.6 1756.9,341.5 1758.1,342.2 1759.3,343.0 1760.5,343.5 1761.7,343.4 1762.9,344.2 1764.1,345.6 1765.3,346.7 1766.5,347.2 1767.7,347.4 1768.9,348.2 1770.1,349.6 1771.3,350.9 1772.5,352.2 1773.7,353.0 1774.9,353.7 1776.1,354.5 1777.3,355.2 1778.5,356.0 1779.7,356.8 1780.9,357.7 1782.1,358.6 1783.3,359.3 1784.5,359.7 1785.7,360.6 1786.9,362.0 1788.1,362.9 1789.3,363.5 1790.5,364.3 1791.7,365.4 1792.9,367.0 1794.1,368.6 1795.3,370.6 1796.5,372.5 1797.7,374.4 1798.9,376.4 1800.1,378.2 1801.3,379.7 1802.5,380.2 1803.7,380.3 1804.9,381.0 1806.1,382.2 1807.3,382.8 1808.5,382.7 1809.7,382.8 1810.9,383.3 1812.1,384.0 1813.3,384.4 1814.5,384.5 1815.7,384.8 1816.9,385.5 1818.1,386.7 1819.3,387.3 1820.5,387.5 1821.7,387.8 1822.9,388.6 1824.1,389.3 1825.3,390.6 1826.5,392.5 1827.7,394.1 1828.9,395.6 1830.1,397.2 1831.3,398.2 1832.5,398.9 1833.7,399.8 1834.9,400.6 1836.1,400.9 1837.3,400.6 1838.5,400.3 1839.7,400.4 1840.9,400.6 1842.1,401.0 1843.3,402.1 1844.5,403.5 1845.7,405.1 1846.9,406.0 1848.1,405.9 1849.3,406.1 1850.5,406.4 1851.7,406.5 1852.9,406.3 1854.1,406.2 1855.3,405.7 1856.5,405.0 1857.7,405.0 1858.9,406.4 1860.1,408.4 1861.3,409.6 1862.5,409.8 1863.7,410.2 1864.9,410.7 1866.1,410.4 1867.3,409.1 1868.5,407.5 1869.7,405.9 1870.9,404.4 1872.1,403.0 1873.3,402.0 1874.5,401.1 1875.7,400.7 1876.9,401.3 1878.1,402.3 1879.3,403.7 1880.5,404.9 1881.7,405.8 1882.9,407.2 1884.1,408.4 1885.3,408.6 1886.5,408.6 1887.7,408.9 1888.9,408.9 1890.1,408.3 1891.3,407.8 1892.5,407.7 1893.7,407.5 1894.9,407.1 1896.1,406.8 1897.3,406.8 1898.5,406.5 1899.7,405.6 1900.9,404.9 1902.1,404.5 1903.3,404.1 1904.5,403.8 1905.7,402.9 1906.9,401.8 1908.1,401.4 1909.3,401.5 1910.5,401.5 1911.7,401.7 1912.9,402.6 1914.1,403.5 1915.3,404.4 1916.5,405.5 1917.7,406.6 1918.9,407.9 1920.1,408.9 1921.3,409.3 1922.5,409.6 1923.7,409.6 1924.9,409.7 1926.1,409.8 1927.3,409.6 1928.5,409.3 1929.7,408.9 1930.9,408.4 1932.1,408.0 1933.3,407.6 1934.5,407.6 1935.7,407.7 1936.9,407.6 1938.1,407.5 1939.3,407.7 1940.5,408.4 1941.7,408.8 1942.9,409.3 1944.1,409.9 1945.3,410.3 1946.5,410.0 1947.7,409.1 1948.9,408.2 1950.1,407.8 1951.3,407.4 1952.5,407.3 1953.7,406.4 1954.9,405.0 1956.1,404.9 1957.3,406.1 1958.5,407.3 1959.7,407.8 1960.9,408.4 1962.1,409.1 1963.3,409.8" stroke="#0000ff"/>
<polyline points="1191.7,448.0 1192.9,448.0 1194.1,447.9 1195.3,447.8 1196.5,447.8 1197.7,447.7 1198.9,447.6 1200.1,447.5 1201.3,447.5 1202.5,447.4 1203.7,447.3 1204.9,447.2 1206.1,447.1 1207.3,447.0 1208.5,446.8 1209.7,446.7 1210.9,446.6 1212.1,446.4 1213.3,446.3 1214.5,446.1 1215.7,446.0 1216.9,445.9 1218.1,445.7 1219.3,445.6 1220.5,445.4 1221.7,444.8 1222.9,443.8 1224.1,442.6 1225.3,441.3 1226.5,440.1 1227.7,438.8 1228.9,437.5 1230.1,436.0 1231.3,434.3 1232.5,432.5 1233.7,430.6 1234.9,428.8 1236.1,427.3 1237.3,426.0 1238.5,424.9 1239.7,423.9 1240.9,422.8 1242.1,421.3 1243.3,419.2 1244.5,416.6 1245.7,414.0 1246.9,411.8 1248.1,409.9 1249.3,408.2 1250.5,406.5 1251.7,405.7 1252.9,405.7 1254.1,406.5 1255.3,407.3 1256.5,408.4 1257.7,409.9 1258.9,411.9 1260.1,414.0 1261.3,416.1 1262.5,417.6 1263.7,418.2 1264.9,417.8 1266.1,417.0 1267.3,416.3 1268.5,415.0 1269.7,412.8 1270.9,409.5 1272.1,405.5 1273.3,401.6 1274.5,397.2 1275.7,390.9 1276.9,382.7 1278.1,373.1 1279.3,362.9 1280.5,352.0 1281.7,340.3 1282.9,329.2 1284.1,320.6 1285.3,314.4 1286.5,309.8 1287.7,306.9 1288.9,306.0 1290.1,307.3 1291.3,308.8 1292.5,311.3 1293.7,315.5 1294.9,321.4 1296.1,328.3 1297.3,335.2 1298.5,342.5 1299.7,350.1 1300.9,358.0 1302.1,364.5 1303.3,369.3 1304.5,372.4 1305.7,375.0 1306.9,377.6 1308.1,380.1 1309.3,382.5 1310.5,384.6 1311.7,386.8 1312.9,388.9 1314.1,391.0 1315.3,393.1 1316.5,394.7 1317.7,395.4 1318.9,395.3 1320.1,394.8 1321.3,394.4 1322.5,394.3 1323.7,394.4 1324.9,394.8 1326.1,395.1 1327.3,395.6 1328.5,396.2 1329.7,397.0 1330.9,397.8 1332.1,398.6 1333.3,399.4 1334.5,400.1 1335.7,400.9 1336.9,401.6 1338.1,402.3 1339.3,403.0 1340.5,403.7 1341.7,404.3 1342.9,405.1 1344.1,406.3 1345.3,407.9 1346.5,409.8 1347.7,411.8 1348.9,413.7 1350.1,415.6 1351.3,417.5 1352.5,419.3 1353.7,420.8 1354.9,422.2 1356.1,423.6 1357.3,425.0 1358.5,426.4 1359.7,427.8 1360.9,429.2 1362.1,430.5 1363.3,431.4 1364.5,432.1 1365.7,432.7 1366.9,433.3 1368.1,433.9 1369.3,434.5 1370.5,434.9 1371.7,435.1 1372.9,435.0 1374.1,434.9 1375.3,434.8 1376.5,434.6 1377.7,434.5 1378.9,434.4 1380.1,434.2 1381.3,434.1 1382.5,433.9 1383.7,433.7 1384.9,433.4 1386.1,433.0 1387.3,432.6 1388.5,432.2 1389.7,431.8 1390.9,431.4 1392.1,431.0 1393.3,430.7 1394.5,430.3 1395.7,429.9 1396.9,429.5 1398.1,429.2 1399.3,429.0 1400.5,428.8 1401.7,428.6 1402.9,428.4 1404.1,428.2 1405.3,428.0 1406.5,428.0 1407.7,428.2 1408.9,428.5 1410.1,428.7 1411.3,429.0 1412.5,429.3 1413.7,429.6 1414.9,429.9 1416.1,430.2 1417.3,430.5 1418.5,430.7 1419.7,431.0 1420.9,431.3 1422.1,431.6 1423.3,431.9 1424.5,432.2 1425.7,432.4 1426.9,432.7 1428.1,433.0 1429.3,433.3 1430.5,433.7 1431.7,434.0 1432.9,434.4 1434.1,434.7 1435.3,435.1 1436.5,435.4 1437.7,435.7 1438.9,436.1 1440.1,436.4 1441.3,436.8 1442.5,437.1 1443.7,437.5 1444.9,437.8 1446.1,438.2 1447.3,438.5 1448.5,438.9 1449.7,439.2 1450.9,439.3 1452.1,439.5 1453.3,439.6 1454.5,439.6 1455.7,439.7 1456.9,439.8 1458.1,439.9 1459.3,440.0 1460.5,440.1 1461.7,440.2 1462.9,440.3 1464.1,440.4 1465.3,440.5 1466.5,440.6 1467.7,440.7 1468.9,440.8 1470.1,440.9 1471.3,441.0 1472.5,441.1 1473.7,441.2 1474.9,441.3 1476.1,441.4 1477.3,441.5 1478.5,441.6 1479.7,441.7 1480.9,441.8 1482.1,441.9 1483.3,442.0 1484.5,442.0 1485.7,442.1 1486.9,442.2 1488.1,442.3 1489.3,442.4 1490.5,442.4 1491.7,442.5 1492.9,442.6 1494.1,442.7 1495.3,442.8 1496.5,442.9 1497.7,442.9 1498.9,443.0 1500.1,443.1 1501.3,443.2 1502.5,443.3 1503.7,443.3 1504.9,443.4 1506.1,443.5 1507.3,443.5 1508.5,443.5 1509.7,443.6 1510.9,443.6 1512.1,443.7 1513.3,443.7 1514.5,443.7 1515.7,443.8 1516.9,443.8 1518.1,443.9 1519.3,443.9 1520.5,443.9 1521.7,444.0 1522.9,444.0 1524.1,444.1 1525.3,444.1 1526.5,444.2 1527.7,444.2 1528.9,444.2 1530.1,444.2 1531.3,444.2 1532.5,444.2 1533.7,444.2 1534.9,444.2 1536.1,444.2 1537.3,444.1 1538.5,444.1 1539.7,444.1 1540.9,444.1 1542.1,444.1 1543.3,444.0 1544.5,444.0 1545.7,444.0 1546.9,444.0 1548.1,444.0 1549.3,443.9 1550.5,443.9 1551.7,443.9 1552.9,443.9 1554.1,443.9 1555.3,443.8 1556.5,443.8 1557.7,443.8 1558.9,443.8 1560.1,443.8 1561.3,443.7 1562.5,443.7 1563.7,443.7 1564.9,443.7 1566.1,443.7 1567.3,443.6 1568.5,443.6 1569.7,443.6 1570.9,443.6 1572.1,443.6 1573.3,443.5 1574.5,443.5 1575.7,443.5 1576.9,443.5 1578.1,443.5 1579.3,443.4 1580.5,443.4 1581.7,443.3 1582.9,443.1 1584.1,443.0 1585.3,442.9 1586.5,442.8 1587.7,442.7 1588.9,442.6 1590.1,442.5 1591.3,442.3 1592.5,442.2 1593.7,442.1 1594.9,442.0 1596.1,441.9 1597.3,441.8 1598.5,441.7 1599.7,441.5 1600.9,441.4 1602.1,441.3 1603.3,441.2 1604.5,441.0 1605.7,440.8 1606.9,440.5 1608.1,440.1 1609.3,439.7 1610.5,439.3 1611.7,438.9 1612.9,438.5 1614.1,438.1 1615.3,437.5 1616.5,436.6 1617.7,435.5 1618.9,434.5 1620.1,433.4 1621.3,432.3 1622.5,431.2 1623.7,430.1 1624.9,429.2 1626.1,428.4 1627.3,427.8 1628.5,427.2 1629.7,426.7 1630.9,426.3 1632.1,426.1 1633.3,426.3 1634.5,426.5 1635.7,426.8 1636.9,427.0 1638.1,427.3 1639.3,427.5 1640.5,427.8 1641.7,428.1 1642.9,428.3 1644.1,428.6 1645.3,428.6 1646.5,428.6 1647.7,428.4 1648.9,428.2 1650.1,428.0 1651.3,427.8 1652.5,427.7 1653.7,427.5 1654.9,427.3 1656.1,427.1 1657.3,427.0 1658.5,427.0 1659.7,427.1 1660.9,427.3 1662.1,427.4 1663.3,427.6 1664.5,427.7 1665.7,427.9 1666.9,428.0 1668.1,428.2 1669.3,428.4 1670.5,428.5 1671.7,428.6 1672.9,428.7 1674.1,428.5 1675.3,428.3 1676.5,428.1 1677.7,427.8 1678.9,427.6 1680.1,427.4 1681.3,427.1 1682.5,426.9 1683.7,426.7 1684.9,426.4 1686.1,426.2 1687.3,426.0 1688.5,425.7 1689.7,425.5 1690.9,425.3 1692.1,425.1 1693.3,424.9 1694.5,424.7 1695.7,424.4 1696.9,424.2 1698.1,424.0 1699.3,423.8 1700.5,423.5 1701.7,423.3 1702.9,423.0 1704.1,422.8 1705.3,422.5 1706.5,422.3 1707.7,422.0 1708.9,421.8 1710.1,421.6 1711.3,421.6 1712.5,421.7 1713.7,421.8 1714.9,421.9 1716.1,422.0 1717.3,422.1 1718.5,422.4 1719.7,422.8 1720.9,423.5 1722.1,424.3 1723.3,425.1 1724.5,425.8 1725.7,426.6 1726.9,427.4 1728.1,428.3 1729.3,429.2 1730.5,430.2 1731.7,431.1 1732.9,431.9 1734.1,432.4 1735.3,432.7 1736.5,433.1 1737.7,433.4 1738.9,433.7 1740.1,434.1 1741.3,434.4 1742.5,434.8 1743.7,435.1 1744.9,435.4 1746.1,435.8 1747.3,436.1 1748.5,436.4 1749.7,436.7 1750.9,436.9 1752.1,437.1 1753.3,437.2 1754.5,437.3 1755.7,437.4 1756.9,437.6 1758.1,437.7 1759.3,437.8 1760.5,437.9 1761.7,438.0 1762.9,438.1 1764.1,438.3 1765.3,438.4 1766.5,438.5 1767.7,438.6 1768.9,438.7 1770.1,438.8 1771.3,439.0 1772.5,439.1 1773.7,439.2 1774.9,439.3 1776.1,439.4 1777.3,439.5 1778.5,439.7 1779.7,439.8 1780.9,439.8 1782.1,439.9 1783.3,439.9 1784.5,439.9 1785.7,440.0 1786.9,440.0 1788.1,440.0 1789.3,440.1 1790.5,440.1 1791.7,440.1 1792.9,440.1 1794.1,440.2 1795.3,440.2 1796.5,440.2 1797.7,440.3 1798.9,440.3 1800.1,440.3 1801.3,440.3 1802.5,440.4 1803.7,440.4 1804.9,440.4 1806.1,440.5 1807.3,440.5 1808.5,440.5 1809.7,440.5 1810.9,440.6 1812.1,440.6 1813.3,440.6 1814.5,440.6 1815.7,440.7 1816.9,440.7 1818.1,440.7 1819.3,440.8 1820.5,440.8 1821.7,440.8 1822.9,440.8 1824.1,440.9 1825.3,440.9 1826.5,440.9 1827.7,441.0 1828.9,441.0 1830.1,441.0 1831.3,441.0 1832.5,441.0 1833.7,441.0 1834.9,441.0 1836.1,441.0 1837.3,441.0 1838.5,441.0 1839.7,441.0 1840.9,441.0 1842.1,441.0 1843.3,441.0 1844.5,441.0 1845.7,441.0 1846.9,441.0 1848.1,441.0 1849.3,440.9 1850.5,440.9 1851.7,440.9 1852.9,440.9 1854.1,440.9 1855.3,440.9 1856.5,440.9 1857.7,440.9 1858.9,440.9 1860.1,440.9 1861.3,440.9 1862.5,440.9 1863.7,440.9 1864.9,440.9 1866.1,440.9 1867.3,440.9 1868.5,440.9 1869.7,440.9 1870.9,440.9 1872.1,440.9 1873.3,440.9 1874.5,440.8 1875.7,440.8 1876.9,440.8 1878.1,440.8 1879.3,440.8 1880.5,440.8 1881.7,440.8 1882.9,440.8 1884.1,440.8 1885.3,440.8 1886.5,440.8 1887.7,440.8 1888.9,440.8 1890.1,440.8 1891.3,440.8 1892.5,440.8 1893.7,440.8 1894.9,440.8 1896.1,440.8 1897.3,440.8 1898.5,440.8 1899.7,440.8 1900.9,440.7 1902.1,440.7 1903.3,440.7 1904.5,440.7 1905.7,440.7 1906.9,440.7 1908.1,440.7 1909.3,440.7 1910.5,440.7 1911.7,440.7 1912.9,440.7 1914.1,440.7 1915.3,440.7 1916.5,440.7 1917.7,440.7 1918.9,440.7 1920.1,440.7 1921.3,440.7 1922.5,440.7 1923.7,440.7 1924.9,440.7 1926.1,440.6 1927.3,440.6 1928.5,440.6 1929.7,440.6 1930.9,440.6 1932.1,440.6 1933.3,440.6 1934.5,440.6 1935.7,440.6 1936.9,440.6 1938.1,440.6 1939.3,440.6 1940.5,440.6 1941.7,440.6 1942.9,440.6 1944.1,440.6 1945.3,440.6 1946.5,440.6 1947.7,440.6 1948.9,440.6 1950.1,440.6 1951.3,440.6 1952.5,440.5 1953.7,440.5 1954.9,440.5 1956.1,440.5 1957.3,440.5 1958.5,440.5 1959.7,440.5 1960.9,440.5 1962.1,440.5 1963.3,440.5" stroke="#000"/>
<polyline points="1191.7,448.0 1193.2,448.0 1194.7,448.0 1196.2,448.0 1197.7,448.0 1199.2,448.0 1200.7,448.0 1202.2,448.0 1203.7,448.0 1205.2,448.0 1206.7,448.0 1208.2,448.0 1209.7,448.0 1211.2,448.0 1212.7,448.0 1214.2,448.0 1215.7,448.0 1217.2,448.0 1218.7,448.0 1220.2,448.0 1221.7,448.0 1223.2,448.0 1224.7,448.0 1226.2,448.0 1227.7,448.0 1229.2,448.0 1230.7,448.0 1232.2,448.0 1233.7,448.0 1235.2,448.0 1236.7,448.0 1238.2,448.0 1239.7,448.0 1241.2,447.9 1242.7,447.9 1244.2,447.8 1245.7,447.7 1247.2,447.6 1248.7,447.5 1250.2,447.3 1251.7,447.0 1253.2,446.5 1254.7,446.0 1256.2,445.3 1257.7,444.4 1259.2,443.2 1260.7,442.0 1262.2,440.8 1263.7,439.5 1265.2,438.3 1266.7,437.1 1268.2,435.8 1269.7,434.5 1271.2,433.1 1272.7,431.8 1274.2,430.4 1275.7,429.1 1277.2,427.7 1278.7,426.4 1280.2,424.6 1281.7,422.5 1283.2,420.0 1284.7,417.5 1286.2,415.0 1287.7,412.5 1289.2,410.0 1290.7,407.6 1292.2,405.1 1293.7,402.7 1295.2,400.2 1296.7,397.6 1298.2,394.9 1299.7,392.1 1301.2,389.3 1302.7,386.4 1304.2,383.4 1305.7,380.2 1307.2,376.8 1308.7,373.5 1310.2,370.3 1311.7,367.3 1313.2,364.6 1314.7,361.9 1316.2,359.2 1317.7,356.7 1319.2,354.5 1320.7,352.6 1322.2,350.7 1323.7,348.8 1325.2,346.9 1326.7,345.5 1328.2,344.6 1329.7,344.4 1331.2,344.3 1332.7,344.2 1334.2,344.1 1335.7,344.0 1337.2,343.9 1338.7,343.7 1340.2,343.5 1341.7,343.4 1343.2,343.2 1344.7,342.6 1346.2,341.6 1347.7,340.1 1349.2,338.5 1350.7,336.8 1352.2,335.2 1353.7,333.6 1355.2,331.7 1356.7,329.7 1358.2,327.5 1359.7,325.3 1361.2,323.1 1362.7,320.9 1364.2,318.8 1365.7,316.7 1367.2,314.7 1368.7,312.6 1370.2,310.6 1371.7,308.6 1373.2,306.5 1374.7,304.5 1376.2,302.4 1377.7,300.3 1379.2,298.2 1380.7,296.2 1382.2,294.2 1383.7,292.4 1385.2,290.7 1386.7,289.2 1388.2,287.7 1389.7,286.1 1391.2,284.6 1392.7,283.2 1394.2,282.1 1395.7,281.5 1397.2,280.9 1398.7,280.5 1400.2,280.4 1401.7,280.6 1403.2,281.2 1404.7,281.8 1406.2,282.3 1407.7,283.2 1409.2,284.3 1410.7,285.8 1412.2,287.4 1413.7,289.0 1415.2,290.6 1416.7,292.5 1418.2,295.1 1419.7,298.4 1421.2,301.8 1422.7,305.3 1424.2,308.6 1425.7,311.9 1427.2,315.2 1428.7,318.5 1430.2,321.6 1431.7,324.5 1433.2,327.3 1434.7,330.0 1436.2,332.7 1437.7,335.4 1439.2,338.0 1440.7,340.6 1442.2,343.1 1443.7,345.6 1445.2,348.1 1446.7,350.5 1448.2,352.8 1449.7,355.1 1451.2,357.3 1452.7,359.6 1454.2,361.8 1455.7,364.0 1457.2,366.1 1458.7,368.3 1460.2,370.4 1461.7,372.5 1463.2,374.6 1464.7,376.5 1466.2,378.2 1467.7,379.9 1469.2,381.6 1470.7,383.2 1472.2,384.9 1473.7,386.5 1475.2,388.1 1476.7,389.5 1478.2,390.8 1479.7,392.1 1481.2,393.4 1482.7,394.7 1484.2,396.0 1485.7,397.3 1487.2,398.5 1488.7,399.6 1490.2,400.4 1491.7,401.3 1493.2,402.1 1494.7,403.0 1496.2,403.8 1497.7,404.7 1499.2,405.5 1500.7,406.2 1502.2,406.8 1503.7,407.3 1505.2,407.9 1506.7,408.4 1508.2,409.0 1509.7,409.5 1511.2,410.0 1512.7,410.6 1514.2,411.1 1515.7,411.6 1517.2,412.1 1518.7,412.5 1520.2,413.0 1521.7,413.5 1523.2,413.9 1524.7,414.4 1526.2,414.8 1527.7,415.3 1529.2,415.7 1530.7,416.2 1532.2,416.6 1533.7,417.0 1535.2,417.3 1536.7,417.7 1538.2,418.1 1539.7,418.5 1541.2,418.9 1542.7,419.3 1544.2,419.7 1545.7,420.0 1547.2,420.4 1548.7,420.7 1550.2,421.0 1551.7,421.3 1553.2,421.6 1554.7,421.9 1556.2,422.2 1557.7,422.5 1559.2,422.8 1560.7,423.1 1562.2,423.4 1563.7,423.7 1565.2,424.0 1566.7,424.3 1568.2,424.6 1569.7,424.9 1571.2,425.2 1572.7,425.5 1574.2,425.7 1575.7,426.0 1577.2,426.3 1578.7,426.4 1580.2,426.5 1581.7,426.5 1583.2,426.6 1584.7,426.6 1586.2,426.7 1587.7,426.7 1589.2,426.8 1590.7,426.9 1592.2,426.9 1593.7,427.0 1595.2,427.0 1596.7,426.9 1598.2,426.9 1599.7,426.8 1601.2,426.8 1602.7,426.7 1604.2,426.6 1605.7,426.6 1607.2,426.5 1608.7,426.5 1610.2,426.4 1611.7,426.3 1613.2,426.1 1614.7,426.0 1616.2,425.8 1617.7,425.7 1619.2,425.5 1620.7,425.4 1622.2,425.3 1623.7,425.1 1625.2,424.9 1626.7,424.7 1628.2,424.5 1629.7,424.3 1631.2,424.1 1632.7,423.8 1634.2,423.6 1635.7,423.4 1637.2,423.2 1638.7,422.9 1640.2,422.5 1641.7,421.9 1643.2,421.1 1644.7,420.4 1646.2,419.6 1647.7,418.8 1649.2,418.0 1650.7,417.2 1652.2,416.5 1653.7,415.7 1655.2,414.7 1656.7,413.7 1658.2,412.5 1659.7,411.3 1661.2,410.2 1662.7,409.0 1664.2,407.8 1665.7,406.7 1667.2,405.4 1668.7,404.2 1670.2,402.8 1671.7,401.5 1673.2,400.1 1674.7,398.8 1676.2,397.4 1677.7,396.1 1679.2,394.7 1680.7,393.3 1682.2,391.8 1683.7,390.4 1685.2,388.9 1686.7,387.4 1688.2,386.0 1689.7,384.5 1691.2,383.2 1692.7,381.8 1694.2,380.6 1695.7,379.3 1697.2,378.0 1698.7,376.7 1700.2,375.4 1701.7,374.1 1703.2,372.9 1704.7,371.8 1706.2,370.8 1707.7,369.8 1709.2,368.8 1710.7,367.8 1712.2,366.7 1713.7,365.7 1715.2,364.7 1716.7,363.7 1718.2,362.8 1719.7,362.0 1721.2,361.1 1722.7,360.2 1724.2,359.4 1725.7,358.5 1727.2,357.6 1728.7,356.8 1730.2,356.0 1731.7,355.2 1733.2,354.5 1734.7,353.8 1736.2,353.1 1737.7,352.5 1739.2,351.8 1740.7,351.1 1742.2,350.5 1743.7,350.1 1745.2,349.9 1746.7,349.8 1748.2,349.7 1749.7,349.6 1751.2,349.6 1752.7,349.6 1754.2,349.6 1755.7,349.7 1757.2,349.8 1758.7,349.9 1760.2,350.1 1761.7,350.3 1763.2,350.5 1764.7,350.8 1766.2,351.0 1767.7,351.3 1769.2,351.6 1770.7,351.8 1772.2,352.1 1773.7,352.3 1775.2,352.8 1776.7,353.5 1778.2,354.5 1779.7,355.5 1781.2,356.5 1782.7,357.5 1784.2,358.5 1785.7,359.5 1787.2,360.5 1788.7,361.5 1790.2,362.6 1791.7,363.7 1793.2,364.8 1794.7,365.9 1796.2,367.0 1797.7,368.1 1799.2,369.2 1800.7,370.5 1802.2,371.8 1803.7,373.2 1805.2,374.6 1806.7,376.0 1808.2,377.4 1809.7,378.8 1811.2,380.2 1812.7,381.6 1814.2,382.9 1815.7,384.2 1817.2,385.5 1818.7,386.8 1820.2,388.1 1821.7,389.4 1823.2,390.7 1824.7,391.9 1826.2,393.0 1827.7,394.0 1829.2,394.8 1830.7,395.7 1832.2,396.6 1833.7,397.5 1835.2,398.4 1836.7,399.2 1838.2,400.1 1839.7,400.9 1841.2,401.7 1842.7,402.4 1844.2,403.2 1845.7,404.0 1847.2,404.7 1848.7,405.5 1850.2,406.2 1851.7,406.9 1853.2,407.4 1854.7,407.9 1856.2,408.5 1857.7,409.0 1859.2,409.6 1860.7,410.1 1862.2,410.6 1863.7,411.2 1865.2,411.7 1866.7,412.1 1868.2,412.4 1869.7,412.7 1871.2,413.0 1872.7,413.3 1874.2,413.5 1875.7,413.8 1877.2,414.1 1878.7,414.4 1880.2,414.7 1881.7,415.0 1883.2,415.2 1884.7,415.5 1886.2,415.7 1887.7,416.0 1889.2,416.2 1890.7,416.5 1892.2,416.7 1893.7,417.0 1895.2,417.2 1896.7,417.5 1898.2,417.7 1899.7,417.9 1901.2,418.1 1902.7,418.3 1904.2,418.5 1905.7,418.7 1907.2,418.9 1908.7,419.0 1910.2,419.2 1911.7,419.4 1913.2,419.6 1914.7,419.7 1916.2,419.9 1917.7,420.1 1919.2,420.3 1920.7,420.4 1922.2,420.6 1923.7,420.8 1925.2,420.9 1926.7,421.1 1928.2,421.3 1929.7,421.5 1931.2,421.6 1932.7,421.8 1934.2,421.9 1935.7,422.1 1937.2,422.2 1938.7,422.4 1940.2,422.5 1941.7,422.7 1943.2,422.8 1944.7,423.0 1946.2,423.1 1947.7,423.1 1949.2,423.1 1950.7,423.0 1952.2,422.9 1953.7,422.8 1955.2,422.7 1956.7,422.6 1958.2,422.5 1959.7,422.5 1961.2,422.4 1962.7,422.3 1964.2,422.2" stroke="#000" stroke-dasharray="31,29.5"/>
</g>
<path d="M1124.6,5.4 H1114.6 V448.8 H1973.5 V440" fill="none" stroke="#262626" stroke-width="3"/>
<path d="M1114.6,337.5 h8 M1114.6,226.7 h8 M1114.6,115.9 h8 M1286.7,448.8 v-8.5 M1458.4,448.8 v-8.5 M1630.1,448.8 v-8.5 M1801.8,448.8 v-8.5 " stroke="#262626" stroke-width="3"/>
<g font-size="31.2" fill="#262626" text-anchor="middle">
<text x="1115.0" y="481">635</text>
<text x="1286.7" y="481">640</text>
<text x="1458.4" y="481">645</text>
<text x="1630.1" y="481">650</text>
<text x="1801.8" y="481">655</text>
<text x="1973.5" y="481">660</text>
</g>
<text x="1541.5" y="511.5" font-size="31.2" fill="#262626" text-anchor="middle">Energy Loss (eV)</text>
<text transform="translate(1104,210.5) rotate(-90)" font-size="31" fill="#262626" text-anchor="middle">Intensity (arb. units)</text>
<text x="1124" y="34.5" font-size="31" font-weight="bold" fill="#231f20">(c)</text>
<g stroke-width="3.7">
<line x1="1790" y1="15" x2="1829" y2="15" stroke="#ff0000"/>
<line x1="1790" y1="41" x2="1829" y2="41" stroke="#000"/>
<line x1="1790" y1="67.5" x2="1829" y2="67.5" stroke="#000" stroke-dasharray="16,8"/>
<line x1="1790" y1="94" x2="1829" y2="94" stroke="#0000ff"/>
</g>
<g font-size="24.3" fill="#000">
<text x="1839.3" y="22.8">Polar</text>
<text x="1839.3" y="49.3">Mn2+ Ref</text>
<text x="1839.3" y="75.3">Mn4+ Ref</text>
<text x="1839.3" y="101.6">Nonpolar</text>
</g>
</g>
<g id="pd">
<rect x="520" y="593" width="544.5" height="529" fill="#bdeaf8"/>
<rect x="702.3" y="593" width="110.6" height="529" fill="#f8c3c8"/>
<path d="M520,593.0 h6 M520,668.6 h6 M520,744.9 h6 M520,820.6 h6 M520,895.8 h6 M520,971.5 h6 M520,1047.8 h6 M607.5,1121 v-6 M695.5,1121 v-6 M784.2,1121 v-6 M872.4,1121 v-6 M960.6,1121 v-6 M1048.8,1121 v-6 " stroke="#1d4a5c" stroke-width="4"/>
<path d="M519.9,593 V1121" stroke="#1d4a5c" stroke-width="4"/>
<path d="M518,1122.8 H1064.5" stroke="#262626" stroke-width="3.5"/>
<g stroke="#1a2a3a" stroke-width="1.3">
<circle cx="536.8" cy="1071.1" r="6.1" fill="#4ae8bc"/>
<circle cx="554.5" cy="1023.4" r="6.1" fill="#5ee8a0"/>
<circle cx="572.6" cy="1021.9" r="6.1" fill="#78e888"/>
<circle cx="589.7" cy="980.9" r="6.1" fill="#8ce870"/>
<circle cx="607.4" cy="986.6" r="6.1" fill="#a4e850"/>
<circle cx="625.0" cy="973.6" r="6.1" fill="#c0ec40"/>
<circle cx="642.6" cy="895.8" r="6.1" fill="#c8d040"/>
<circle cx="660.3" cy="897.9" r="6.1" fill="#c0b840"/>
<circle cx="677.9" cy="946.1" r="6.1" fill="#c0a040"/>
<circle cx="695.5" cy="919.7" r="6.1" fill="#c08840"/>
<circle cx="713.2" cy="758.4" r="6.1" fill="#ff5010"/>
<circle cx="730.8" cy="677.5" r="6.1" fill="#ff4010"/>
<circle cx="749.0" cy="652.6" r="6.1" fill="#ff2a10"/>
<circle cx="766.1" cy="605.9" r="6.1" fill="#ff0a0a"/>
<circle cx="783.7" cy="613.1" r="6.1" fill="#e00a0a"/>
<circle cx="801.4" cy="629.2" r="6.1" fill="#c00a0a"/>
<circle cx="819.4" cy="847.3" r="6.1" fill="#0a2aa0"/>
<circle cx="837.2" cy="847.3" r="6.1" fill="#0a28c0"/>
<circle cx="854.8" cy="823.5" r="6.1" fill="#0a30d8"/>
<circle cx="872.5" cy="824.6" r="6.1" fill="#0a28f0"/>
<circle cx="890.0" cy="869.8" r="6.1" fill="#0a50f0"/>
<circle cx="907.8" cy="929.9" r="6.1" fill="#0a58f0"/>
<circle cx="925.4" cy="879.6" r="6.1" fill="#0a78f0"/>
<circle cx="943.1" cy="890.3" r="6.1" fill="#0a88f0"/>
<circle cx="960.7" cy="890.0" r="6.1" fill="#10a0f0"/>
<circle cx="978.4" cy="972.2" r="6.1" fill="#10b8f0"/>
<circle cx="996.0" cy="901.5" r="6.1" fill="#10d0f0"/>
<circle cx="1013.7" cy="888.2" r="6.1" fill="#10e8f0"/>
<circle cx="1031.3" cy="922.3" r="6.1" fill="#20e8e0"/>
<circle cx="1049.0" cy="926.3" r="6.1" fill="#30e8c8"/>
</g>
<g font-size="30.9" fill="#000" text-anchor="middle">
<text x="611" y="735">Nonpolar</text><text x="758.3" y="735">Polar</text><text x="932.8" y="735">Nonpolar</text>
</g>
<text x="529.5" y="580" font-size="31" font-weight="bold" fill="#231f20">(d)</text>
</g>
<g id="pe">
<svg x="1117" y="550.4" width="273.6" height="273.8" viewBox="1117 550.4 273.6 273.8" overflow="hidden">
<rect x="1117" y="550.4" width="273.6" height="273.8" fill="#7c7c7c"/>
<rect x="1117" y="550.4" width="273.6" height="273.8" fill="url(#adfS)"/>
<rect x="1117" y="550.4" width="273.6" height="84.1" fill="#000" opacity="0.2"/>
<rect x="1180" y="575" width="210" height="60" fill="#000" opacity="0.08"/>
<rect x="1117" y="634" width="273.6" height="16" fill="url(#adfB)"/>
<rect x="1117" y="550.4" width="273.6" height="273.8" fill="url(#xh)"/>
<rect x="1117" y="550.4" width="273.6" height="273.8" filter="url(#nzadf)"/>
</svg>
<path d="M1118.2,550.4 V824.2 M1389.4,550.4 V824.2" stroke="#000" stroke-width="2.6"/>
<text x="1123.5" y="811" font-size="24" font-weight="bold" fill="#fff">ADF-STEM</text>
<rect x="1331" y="805.2" width="52.5" height="3.2" fill="#fff"/>
<text x="1122.5" y="580.5" font-size="30" font-weight="bold" fill="#fff">(e)</text>
<rect x="1408" y="550.2" width="274" height="274" fill="#000"/>
<rect x="1410" y="550.2" width="271" height="274" filter="url(#fca)"/>
<text x="1420.8" y="810.9" font-size="23" font-weight="bold" fill="#fff">Ca</text>
<rect x="1696.5" y="550.2" width="274" height="274" fill="#000"/>
<rect x="1698.5" y="550.2" width="271" height="274" filter="url(#fmn)"/>
<text x="1711" y="811.1" font-size="23" font-weight="bold" fill="#fff">Mn</text>
<rect x="1408" y="850.6" width="274" height="274" fill="#000"/>
<rect x="1410" y="850.6" width="271" height="274" filter="url(#fox)"/>
<text x="1426.8" y="1112" font-size="23" font-weight="bold" fill="#fff">O</text>
<rect x="1696.5" y="850.6" width="274" height="274" fill="#000"/>
<rect x="1698.5" y="850.6" width="271" height="274" filter="url(#fsr)"/>
<text x="1714.8" y="1112.7" font-size="23" font-weight="bold" fill="#fff">Sr</text>
<rect x="1410" y="639" width="272" height="13" fill="url(#caDark)" filter="url(#blur4)"/>
<rect x="1410" y="550.2" width="272" height="90" fill="#000" opacity="0.12"/>
<rect x="1700" y="637" width="270" height="12" fill="#ff1a1a" opacity="0.2" filter="url(#blur4)"/>
<path d="M1377.6,646.0 L1395.6,640.4 L1393.6,644.2 L1404.6,644.2 L1404.6,647.8 L1393.6,647.8 L1395.6,651.6 Z" fill="#ee1c25"/>
<path d="M1669.7,647.5 L1687.7,641.9 L1685.7,645.7 L1696.9,645.7 L1696.9,649.3 L1685.7,649.3 L1687.7,653.1 Z" fill="#ee1c25"/>
<path d="M1957.7,647.5 L1975.7,641.9 L1973.7,645.7 L1984.9,645.7 L1984.9,649.3 L1973.7,649.3 L1975.7,653.1 Z" fill="#ee1c25"/>
<path d="M1375.4,943.0 L1393.4,937.4 L1391.4,941.2 L1402.4,941.2 L1402.4,944.8 L1391.4,944.8 L1393.4,948.6 Z" fill="#ee1c25"/>
<path d="M1668.5,944.5 L1686.5,938.9 L1684.5,942.7 L1695.7,942.7 L1695.7,946.3 L1684.5,946.3 L1686.5,950.1 Z" fill="#ee1c25"/>
<path d="M1957.7,944.5 L1975.7,938.9 L1973.7,942.7 L1984.9,942.7 L1984.9,946.3 L1973.7,946.3 L1975.7,950.1 Z" fill="#ee1c25"/>
<path d="M1116.7,1124 V862 M1116.7,1124 H1378" stroke="#262626" stroke-width="1.8" fill="none"/>
<path d="M1116.7,850 L1124.5,874 L1116.7,869 L1108.9,874 Z" fill="#262626"/>
<path d="M1390,1124 L1366,1116.5 L1371,1124 L1366,1131.5 Z" fill="#262626"/>
<path d="M1116.7,943 H1373" stroke="#262626" stroke-width="3.2" stroke-dasharray="19.5,20.4"/>
<g font-size="21.5" font-weight="bold" fill="#000">
<text x="1153" y="846">Ca</text><text x="1208.5" y="846">Mn</text><text x="1303" y="846">O</text><text x="1347.5" y="846">Sr</text>
</g>
<text x="1249" y="1151" font-size="23.5" fill="#000" text-anchor="middle">Intensity</text>
<text transform="translate(1106,991) rotate(-90)" font-size="23.5" fill="#000" text-anchor="middle">Position</text>
<g fill="none" stroke-width="2.1" stroke-linejoin="round">
<path d="M1178.5,850.0 C1175.7,850.5 1163.4,852.1 1161.7,853.2 C1160.0,854.3 1164.6,855.5 1168.1,856.8 C1171.6,858.1 1182.0,859.6 1182.6,860.9 C1183.2,862.2 1175.2,863.3 1171.7,864.5 C1168.2,865.7 1160.1,866.4 1161.7,868.1 C1163.3,869.9 1181.5,873.0 1181.3,875.0 C1181.1,877.0 1163.9,878.6 1160.8,880.0 C1157.7,881.4 1159.7,881.5 1162.6,883.1 C1165.5,884.7 1179.6,887.8 1178.1,889.5 C1176.6,891.2 1153.7,891.6 1153.6,893.6 C1153.5,895.6 1176.8,899.3 1177.6,901.7 C1178.3,904.1 1158.3,905.8 1158.1,908.1 C1157.9,910.5 1176.4,913.6 1176.3,915.8 C1176.2,918.0 1160.4,919.7 1157.7,921.2 C1155.0,922.7 1158.7,923.7 1159.9,924.9 C1161.1,926.1 1167.9,926.9 1164.9,928.5 C1161.9,930.1 1146.4,932.9 1141.8,934.4 C1137.2,935.9 1140.5,936.3 1137.2,937.6 C1133.9,938.9 1125.1,941.2 1121.8,942.1 C1118.5,943.0 1117.0,942.6 1117.3,942.9 C1117.6,943.2 1115.8,942.4 1123.6,943.9 C1131.4,945.4 1153.4,949.6 1164.0,951.7 C1174.6,953.8 1187.4,954.9 1187.0,956.7 C1186.6,958.5 1159.7,960.4 1161.4,962.5 C1163.1,964.6 1197.3,967.3 1197.4,969.3 C1197.5,971.3 1163.0,972.5 1161.8,974.7 C1160.6,977.0 1190.5,980.4 1190.2,982.8 C1189.9,985.2 1160.8,986.8 1159.8,988.9 C1158.8,991.0 1183.1,993.3 1184.2,995.5 C1185.3,997.7 1164.7,999.6 1166.3,1002.0 C1167.9,1004.4 1193.5,1007.8 1194.0,1010.1 C1194.5,1012.4 1169.5,1013.5 1169.6,1015.8 C1169.7,1018.1 1194.9,1021.6 1194.8,1023.9 C1194.7,1026.2 1169.1,1027.3 1168.8,1029.6 C1168.5,1031.9 1193.9,1035.1 1193.2,1037.7 C1192.5,1040.3 1164.7,1043.0 1164.7,1045.1 C1164.7,1047.1 1192.1,1048.1 1193.2,1050.0 C1194.3,1051.9 1171.1,1054.1 1171.2,1056.5 C1171.3,1058.9 1195.0,1062.4 1194.0,1064.6 C1193.0,1066.8 1164.4,1067.2 1165.5,1069.5 C1166.6,1071.8 1200.6,1076.2 1200.5,1078.4 C1200.4,1080.6 1168.2,1080.2 1164.7,1082.5 C1161.2,1084.8 1179.3,1089.4 1179.3,1092.2 C1179.3,1095.0 1162.4,1097.6 1164.7,1099.6 C1167.0,1101.6 1193.1,1102.5 1193.2,1104.4 C1193.3,1106.3 1166.3,1108.6 1165.5,1110.9 C1164.7,1113.2 1187.1,1116.3 1188.3,1118.3 C1189.5,1120.3 1175.4,1122.3 1172.8,1123.1" stroke="#00ffff"/>
<path d="M1215.3,850.0 C1218.9,850.5 1234.8,851.7 1237.1,852.7 C1239.4,853.7 1233.6,854.5 1228.9,855.9 C1224.2,857.3 1207.5,859.3 1208.9,861.3 C1210.3,863.3 1237.8,865.5 1237.1,867.7 C1236.3,869.9 1205.0,872.1 1204.4,874.5 C1203.8,876.9 1233.5,879.4 1233.4,881.8 C1233.3,884.1 1204.8,886.6 1203.9,888.6 C1203.0,890.6 1224.1,892.5 1228.0,894.0 C1231.9,895.5 1231.2,896.3 1227.1,897.6 C1223.0,898.9 1202.8,900.0 1203.5,901.7 C1204.2,903.4 1229.1,905.7 1231.2,907.6 C1233.3,909.5 1221.4,911.7 1216.2,913.1 C1211.0,914.5 1197.2,914.5 1199.9,916.3 C1202.6,918.1 1231.6,921.8 1232.1,924.0 C1232.5,926.2 1201.0,927.8 1202.6,929.4 C1204.2,931.0 1234.0,932.3 1241.6,933.5 C1249.2,934.7 1242.0,935.5 1248.0,936.7 C1254.0,937.9 1274.4,939.6 1277.9,940.8 C1281.4,942.0 1270.6,943.0 1268.9,943.9 C1267.2,944.8 1271.7,945.1 1267.7,946.3 C1263.7,947.4 1255.2,949.2 1245.1,950.8 C1235.0,952.4 1206.8,953.8 1207.3,955.8 C1207.8,957.8 1248.5,960.7 1247.9,963.0 C1247.3,965.3 1203.2,967.8 1203.7,969.7 C1204.2,971.7 1250.5,972.5 1251.0,974.7 C1251.5,976.9 1207.6,980.6 1206.4,982.8 C1205.2,985.0 1244.6,985.9 1243.6,988.1 C1242.6,990.4 1200.9,993.8 1200.5,996.3 C1200.1,998.8 1241.2,1000.5 1241.2,1002.8 C1241.2,1005.1 1199.4,1008.1 1200.5,1010.1 C1201.6,1012.1 1246.9,1012.7 1247.7,1015.0 C1248.5,1017.3 1206.8,1021.1 1205.4,1023.9 C1204.0,1026.7 1239.4,1029.7 1239.5,1032.0 C1239.6,1034.3 1204.7,1035.4 1206.2,1037.7 C1207.7,1040.0 1248.9,1043.6 1248.5,1045.9 C1248.1,1048.2 1205.3,1049.8 1203.7,1051.6 C1202.1,1053.4 1238.4,1054.3 1238.7,1056.5 C1239.0,1058.7 1206.5,1062.6 1205.4,1064.6 C1204.3,1066.6 1227.1,1067.1 1232.2,1068.7 C1237.3,1070.3 1240.8,1072.7 1236.3,1074.3 C1231.8,1075.9 1204.5,1076.9 1205.4,1078.4 C1206.4,1079.9 1241.9,1081.1 1242.0,1083.3 C1242.1,1085.5 1206.3,1089.2 1206.2,1091.4 C1206.1,1093.6 1241.3,1094.0 1241.2,1096.3 C1241.1,1098.6 1203.9,1102.9 1205.4,1105.2 C1206.9,1107.5 1249.1,1107.8 1250.1,1110.1 C1251.0,1112.4 1213.3,1116.9 1211.1,1119.1 C1208.9,1121.3 1232.8,1122.4 1237.1,1123.1" stroke="#ff0000"/>
<path d="M1340.7,849.7 C1335.8,850.2 1312.3,851.9 1311.2,853.0 C1310.1,854.1 1335.5,855.3 1334.0,856.4 C1332.5,857.5 1308.5,858.4 1301.9,859.7 C1295.3,861.0 1288.2,862.7 1294.5,864.4 C1300.8,866.1 1339.9,868.2 1340.0,869.8 C1340.1,871.4 1297.7,872.5 1295.2,873.8 C1292.8,875.1 1321.1,876.7 1325.3,877.8 C1329.5,878.9 1325.2,879.2 1320.6,880.5 C1316.0,881.8 1297.3,884.0 1297.8,885.8 C1298.2,887.6 1321.9,889.5 1323.3,891.2 C1324.7,892.9 1308.4,894.6 1305.9,895.9 C1303.5,897.2 1310.7,898.1 1308.6,899.2 C1306.5,900.3 1291.1,901.2 1293.2,902.6 C1295.3,904.0 1323.4,905.9 1321.3,907.9 C1319.2,909.9 1282.2,912.7 1280.4,914.6 C1278.6,916.5 1307.6,917.9 1310.6,919.3 C1313.6,920.6 1299.2,921.7 1298.5,922.7 C1297.8,923.7 1310.2,924.1 1306.6,925.3 C1303.0,926.5 1278.7,928.5 1277.1,930.0 C1275.5,931.5 1295.6,932.8 1297.2,934.0 C1298.8,935.2 1285.7,936.2 1286.5,937.4 C1287.3,938.6 1297.1,940.4 1301.9,941.4 C1306.7,942.4 1314.6,942.5 1315.3,943.4 C1316.0,944.3 1306.1,945.4 1305.9,946.8 C1305.7,948.1 1316.4,949.6 1313.9,951.5 C1311.5,953.4 1291.5,956.2 1291.2,958.1 C1290.9,960.0 1312.0,961.2 1311.9,962.8 C1311.8,964.4 1294.1,966.1 1290.5,967.5 C1286.9,968.9 1285.9,969.7 1290.5,970.9 C1295.1,972.1 1311.4,973.6 1317.9,974.9 C1324.4,976.2 1332.9,977.5 1329.3,978.9 C1325.7,980.3 1301.2,981.9 1296.5,983.3 C1291.8,984.7 1297.5,985.8 1301.3,987.3 C1305.1,988.8 1320.0,990.7 1319.2,992.2 C1318.4,993.7 1293.8,994.4 1296.5,996.3 C1299.2,998.2 1336.6,1001.2 1335.5,1003.6 C1334.4,1006.0 1292.2,1008.3 1290.0,1010.9 C1287.8,1013.5 1325.5,1016.8 1322.5,1019.0 C1319.5,1021.2 1273.1,1022.3 1272.0,1023.9 C1270.9,1025.5 1312.7,1027.5 1316.0,1028.8 C1319.3,1030.1 1291.9,1030.9 1291.6,1032.0 C1291.3,1033.1 1314.5,1034.1 1314.4,1035.3 C1314.3,1036.5 1289.9,1038.2 1290.8,1039.4 C1291.7,1040.6 1319.3,1041.1 1320.0,1042.6 C1320.7,1044.1 1295.2,1046.0 1294.8,1048.3 C1294.4,1050.6 1311.5,1054.5 1317.6,1056.5 C1323.7,1058.5 1333.3,1059.2 1331.4,1060.5 C1329.5,1061.8 1307.4,1063.1 1306.2,1064.6 C1305.0,1066.1 1329.2,1067.5 1324.1,1069.5 C1318.9,1071.5 1276.4,1074.8 1275.3,1076.8 C1274.2,1078.8 1313.3,1079.4 1317.6,1081.7 C1321.9,1084.0 1301.0,1087.5 1301.3,1090.6 C1301.6,1093.7 1320.3,1097.6 1319.2,1100.4 C1318.1,1103.2 1295.1,1105.8 1294.8,1107.7 C1294.5,1109.6 1314.9,1109.8 1317.6,1111.8 C1320.3,1113.8 1315.7,1118.1 1311.1,1119.9 C1306.5,1121.7 1297.8,1122.0 1290.0,1122.5 C1282.2,1123.0 1268.3,1123.0 1264.0,1123.1" stroke="#ff00ff"/>
<polyline points="1358.5,850.0 1359.5,850.9 1360.3,851.8 1360.6,852.7 1360.2,853.6 1359.6,854.5 1359.1,855.4 1359.0,856.3 1359.6,857.2 1360.4,858.1 1361.0,859.0 1361.2,859.9 1360.7,860.8 1360.0,861.7 1359.5,862.6 1359.7,863.5 1360.2,864.4 1360.8,865.3 1361.1,866.2 1361.0,867.1 1360.4,868.0 1359.6,868.9 1358.9,869.8 1358.6,870.7 1358.9,871.6 1359.7,872.5 1360.6,873.4 1361.1,874.3 1360.9,875.2 1360.0,876.1 1359.0,877.0 1358.4,877.9 1358.6,878.8 1359.5,879.7 1360.5,880.6 1361.1,881.5 1360.9,882.4 1360.2,883.3 1359.3,884.2 1358.7,885.1 1358.5,886.0 1358.8,886.9 1359.5,887.8 1360.2,888.7 1360.6,889.6 1360.5,890.5 1360.2,891.4 1360.1,892.3 1360.3,893.2 1360.6,894.1 1361.0,895.0 1361.3,895.9 1361.3,896.8 1360.9,897.7 1360.0,898.6 1359.1,899.5 1358.5,900.4 1358.6,901.3 1359.4,902.2 1360.3,903.1 1360.8,904.0 1360.4,904.9 1359.2,905.8 1357.9,906.7 1356.9,907.6 1357.0,908.5 1358.2,909.4 1359.8,910.3 1360.9,911.2 1361.1,912.1 1360.3,913.0 1359.3,913.9 1358.8,914.8 1359.2,915.7 1360.4,916.6 1361.9,917.5 1362.8,918.4 1362.8,919.3 1361.7,920.2 1360.2,921.1 1358.7,922.0 1357.9,922.9 1357.9,923.8 1358.5,924.7 1359.4,925.6 1360.0,926.5 1360.1,927.4 1359.7,928.3 1359.0,929.2 1358.5,930.1 1358.8,931.0 1359.6,931.9 1360.7,932.8 1361.3,933.7 1361.1,934.6 1360.2,935.5 1359.1,936.4 1358.4,937.3 1358.4,938.2 1358.9,939.1 1359.6,940.0 1360.2,940.9 1360.2,941.8 1359.5,942.7 1358.4,943.6 1357.4,944.5 1357.4,945.4 1358.3,946.3 1359.8,947.2 1361.4,948.1 1362.5,949.0 1362.6,949.9 1361.7,950.8 1360.4,951.7 1359.3,952.6 1358.8,953.5 1359.3,954.4 1360.3,955.3 1361.4,956.2 1361.7,957.1 1361.2,958.0 1360.1,958.9 1359.1,959.8 1358.7,960.7 1359.1,961.6 1360.1,962.5 1361.1,963.4 1361.6,964.3 1361.4,965.2 1360.4,966.1 1359.1,967.0 1358.1,967.9 1358.0,968.8 1358.6,969.7 1359.4,970.6 1359.7,971.5 1359.2,972.4 1358.2,973.3 1357.1,974.2 1356.6,975.1 1357.2,976.0 1358.6,976.9 1360.2,977.8 1361.3,978.7 1361.5,979.6 1360.9,980.5 1359.8,981.4 1359.0,982.3 1358.9,983.2 1359.4,984.1 1360.4,985.0 1361.3,985.9 1361.9,986.8 1362.0,987.7 1361.7,988.6 1361.2,989.5 1360.7,990.4 1360.4,991.3 1360.3,992.2 1360.2,993.1 1359.9,994.0 1359.2,994.9 1358.4,995.8 1357.6,996.7 1357.4,997.6 1357.8,998.5 1358.7,999.4 1359.7,1000.3 1360.5,1001.2 1360.6,1002.1 1360.0,1003.0 1359.0,1003.9 1358.1,1004.8 1357.5,1005.7 1357.7,1006.6 1358.7,1007.5 1360.0,1008.4 1361.2,1009.3 1361.8,1010.2 1361.5,1011.1 1360.8,1012.0 1360.2,1012.9 1360.2,1013.8 1360.6,1014.7 1361.3,1015.6 1361.6,1016.5 1361.5,1017.4 1360.7,1018.3 1359.7,1019.2 1358.9,1020.1 1358.9,1021.0 1359.5,1021.9 1360.5,1022.8 1361.0,1023.7 1360.7,1024.6 1359.8,1025.5 1358.6,1026.4 1357.7,1027.3 1357.3,1028.2 1357.6,1029.1 1358.4,1030.0 1359.5,1030.9 1360.2,1031.8 1360.1,1032.7 1359.3,1033.6 1358.2,1034.5 1357.7,1035.4 1358.0,1036.3 1359.0,1037.2 1360.2,1038.1 1360.9,1039.0 1360.9,1039.9 1360.2,1040.8 1359.2,1041.7 1358.4,1042.6 1357.9,1043.5 1358.0,1044.4 1358.4,1045.3 1358.9,1046.2 1359.4,1047.1 1359.5,1048.0 1359.3,1048.9 1359.0,1049.8 1358.8,1050.7 1359.2,1051.6 1360.0,1052.5 1360.8,1053.4 1361.1,1054.3 1360.6,1055.2 1359.5,1056.1 1358.4,1057.0 1357.7,1057.9 1357.7,1058.8 1358.4,1059.7 1359.5,1060.6 1360.5,1061.5 1361.0,1062.4 1360.8,1063.3 1360.0,1064.2 1359.0,1065.1 1358.2,1066.0 1357.7,1066.9 1357.6,1067.8 1357.8,1068.7 1358.1,1069.6 1358.3,1070.5 1358.1,1071.4 1357.8,1072.3 1357.5,1073.2 1357.6,1074.1 1358.1,1075.0 1358.9,1075.9 1359.6,1076.8 1359.8,1077.7 1359.4,1078.6 1358.9,1079.5 1358.7,1080.4 1359.1,1081.3 1360.0,1082.2 1360.8,1083.1 1361.0,1084.0 1360.5,1084.9 1359.6,1085.8 1358.7,1086.7 1358.4,1087.6 1358.9,1088.5 1360.0,1089.4 1361.0,1090.3 1361.5,1091.2 1361.4,1092.1 1360.7,1093.0 1359.5,1093.9 1358.4,1094.8 1357.9,1095.7 1358.4,1096.6 1359.7,1097.5 1361.1,1098.4 1361.8,1099.3 1361.6,1100.2 1360.7,1101.1 1359.6,1102.0 1359.0,1102.9 1359.2,1103.8 1359.9,1104.7 1360.9,1105.6 1361.6,1106.5 1361.6,1107.4 1361.0,1108.3 1360.0,1109.2 1359.4,1110.1 1359.4,1111.0 1359.9,1111.9 1360.5,1112.8 1360.8,1113.7 1360.6,1114.6 1360.1,1115.5 1359.4,1116.4 1359.1,1117.3 1359.4,1118.2 1360.2,1119.1 1361.3,1120.0 1361.9,1120.9 1361.9,1121.8 1361.1,1122.7" stroke="#0000ff" stroke-width="1.9"/>
</g>
</g>
</svg></body></html>
